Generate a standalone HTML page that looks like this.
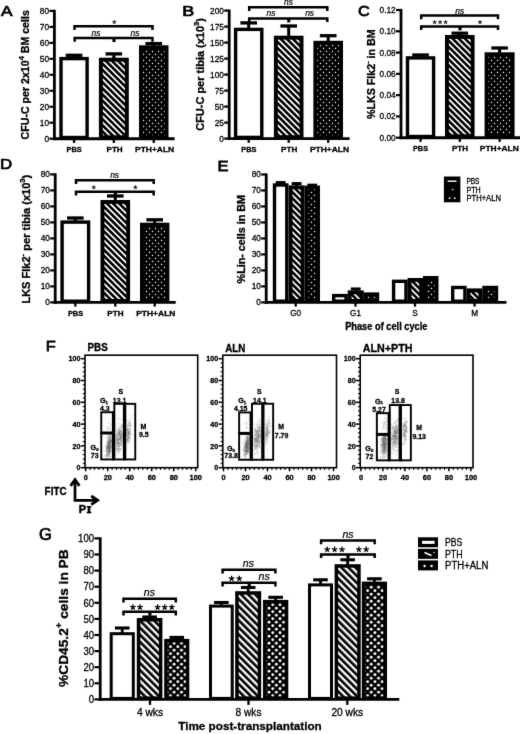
<!DOCTYPE html>
<html><head><meta charset="utf-8"><title>Figure</title>
<style>html,body{margin:0;padding:0;background:#fff;}body{width:520px;height:734px;overflow:hidden;font-family:"Liberation Sans",sans-serif;}svg{display:block;will-change:transform;}</style>
</head><body>
<svg width="520" height="734" viewBox="0 0 520 734">
<defs>
<pattern id="hatch" width="4.35" height="4.35" patternUnits="userSpaceOnUse" patternTransform="rotate(45)"><rect width="4.35" height="4.35" fill="#000"/><rect width="4.35" height="1.75" fill="#fff"/></pattern>
<pattern id="dots" width="6" height="6" patternUnits="userSpaceOnUse" patternTransform="translate(1 1.9)"><rect width="6" height="6" fill="#000"/><circle cx="1.5" cy="1.5" r="0.74" fill="#fff"/><circle cx="4.5" cy="4.5" r="0.74" fill="#fff"/></pattern>
<pattern id="hatchG" width="5" height="5" patternUnits="userSpaceOnUse" patternTransform="rotate(45) translate(0 1.2)"><rect width="5" height="5" fill="#000"/><rect width="5" height="2.35" fill="#fff"/></pattern>
<pattern id="dotsG" width="7.3" height="7" patternUnits="userSpaceOnUse" patternTransform="translate(0.8 0.95)"><rect width="7.3" height="7" fill="#000"/><circle cx="1.8" cy="1.75" r="1.42" fill="#fff"/><circle cx="5.45" cy="5.25" r="1.42" fill="#fff"/></pattern>
<filter id="soft" x="0" y="0" width="520" height="734" filterUnits="userSpaceOnUse" color-interpolation-filters="sRGB"><feConvolveMatrix order="3" kernelMatrix="0.006 0.07 0.006 0.07 0.696 0.07 0.006 0.07 0.006" divisor="1" edgeMode="duplicate" preserveAlpha="true"/></filter>
</defs>
<g filter="url(#soft)">
<rect width="520" height="734" fill="#fff"/>
<text transform="translate(0.9,16.1) scale(1.1268,1)" font-family="'Liberation Sans', sans-serif" font-size="15.3" font-weight="normal" font-style="normal" text-anchor="start" fill="#000" stroke="#000" stroke-width="0.75">A</text>
<line x1="74.05" y1="55.3" x2="74.05" y2="57.9" stroke="#000" stroke-width="3" stroke-linecap="butt"/>
<line x1="65.75" y1="55.3" x2="82.35" y2="55.3" stroke="#000" stroke-width="3.3" stroke-linecap="butt"/>
<rect x="61" y="58.6" width="26.1" height="78.9" fill="#fff" stroke="#000" stroke-width="3.4"/>
<line x1="113.85" y1="53.9" x2="113.85" y2="58.7" stroke="#000" stroke-width="3" stroke-linecap="butt"/>
<line x1="105.55" y1="53.9" x2="122.15" y2="53.9" stroke="#000" stroke-width="3.3" stroke-linecap="butt"/>
<rect x="100.85" y="59.65" width="26" height="77.6" fill="url(#hatch)" stroke="#000" stroke-width="3.9"/>
<line x1="153.75" y1="43.6" x2="153.75" y2="46.3" stroke="#000" stroke-width="3" stroke-linecap="butt"/>
<line x1="145.45" y1="43.6" x2="162.05" y2="43.6" stroke="#000" stroke-width="3.3" stroke-linecap="butt"/>
<rect x="140.95" y="47.25" width="25.6" height="90" fill="url(#dots)" stroke="#000" stroke-width="3.9"/>
<line x1="54.4" y1="9.8" x2="54.4" y2="140.1" stroke="#000" stroke-width="2.8" stroke-linecap="butt"/>
<line x1="49.4" y1="138.7" x2="54.4" y2="138.7" stroke="#000" stroke-width="2.2" stroke-linecap="butt"/>
<text transform="translate(49.1,141.69)" font-family="'Liberation Sans', sans-serif" font-size="8.3" font-weight="normal" font-style="normal" text-anchor="end" fill="#000"  stroke="#000" stroke-width="0.28">0</text>
<line x1="49.4" y1="122.72" x2="54.4" y2="122.72" stroke="#000" stroke-width="2.2" stroke-linecap="butt"/>
<text transform="translate(49.1,125.71)" font-family="'Liberation Sans', sans-serif" font-size="8.3" font-weight="normal" font-style="normal" text-anchor="end" fill="#000"  stroke="#000" stroke-width="0.28">10</text>
<line x1="49.4" y1="106.75" x2="54.4" y2="106.75" stroke="#000" stroke-width="2.2" stroke-linecap="butt"/>
<text transform="translate(49.1,109.74)" font-family="'Liberation Sans', sans-serif" font-size="8.3" font-weight="normal" font-style="normal" text-anchor="end" fill="#000"  stroke="#000" stroke-width="0.28">20</text>
<line x1="49.4" y1="90.77" x2="54.4" y2="90.77" stroke="#000" stroke-width="2.2" stroke-linecap="butt"/>
<text transform="translate(49.1,93.76)" font-family="'Liberation Sans', sans-serif" font-size="8.3" font-weight="normal" font-style="normal" text-anchor="end" fill="#000"  stroke="#000" stroke-width="0.28">30</text>
<line x1="49.4" y1="74.8" x2="54.4" y2="74.8" stroke="#000" stroke-width="2.2" stroke-linecap="butt"/>
<text transform="translate(49.1,77.79)" font-family="'Liberation Sans', sans-serif" font-size="8.3" font-weight="normal" font-style="normal" text-anchor="end" fill="#000"  stroke="#000" stroke-width="0.28">40</text>
<line x1="49.4" y1="58.83" x2="54.4" y2="58.83" stroke="#000" stroke-width="2.2" stroke-linecap="butt"/>
<text transform="translate(49.1,61.81)" font-family="'Liberation Sans', sans-serif" font-size="8.3" font-weight="normal" font-style="normal" text-anchor="end" fill="#000"  stroke="#000" stroke-width="0.28">50</text>
<line x1="49.4" y1="42.85" x2="54.4" y2="42.85" stroke="#000" stroke-width="2.2" stroke-linecap="butt"/>
<text transform="translate(49.1,45.84)" font-family="'Liberation Sans', sans-serif" font-size="8.3" font-weight="normal" font-style="normal" text-anchor="end" fill="#000"  stroke="#000" stroke-width="0.28">60</text>
<line x1="49.4" y1="26.88" x2="54.4" y2="26.88" stroke="#000" stroke-width="2.2" stroke-linecap="butt"/>
<text transform="translate(49.1,29.86)" font-family="'Liberation Sans', sans-serif" font-size="8.3" font-weight="normal" font-style="normal" text-anchor="end" fill="#000"  stroke="#000" stroke-width="0.28">70</text>
<line x1="49.4" y1="10.9" x2="54.4" y2="10.9" stroke="#000" stroke-width="2.2" stroke-linecap="butt"/>
<text transform="translate(49.1,13.89)" font-family="'Liberation Sans', sans-serif" font-size="8.3" font-weight="normal" font-style="normal" text-anchor="end" fill="#000"  stroke="#000" stroke-width="0.28">80</text>
<line x1="53" y1="138.7" x2="174.6" y2="138.7" stroke="#000" stroke-width="2.9" stroke-linecap="butt"/>
<line x1="74.05" y1="138.7" x2="74.05" y2="142.9" stroke="#000" stroke-width="2.3" stroke-linecap="butt"/>
<text transform="translate(74.2,152) scale(0.9240,1)" font-family="'Liberation Sans', sans-serif" font-size="8" font-weight="bold" font-style="normal" text-anchor="middle" fill="#000"  stroke="#000" stroke-width="0.3">PBS</text>
<line x1="113.85" y1="138.7" x2="113.85" y2="142.9" stroke="#000" stroke-width="2.3" stroke-linecap="butt"/>
<text transform="translate(114.6,152) scale(1.0125,1)" font-family="'Liberation Sans', sans-serif" font-size="8" font-weight="bold" font-style="normal" text-anchor="middle" fill="#000"  stroke="#000" stroke-width="0.3">PTH</text>
<line x1="153.75" y1="138.7" x2="153.75" y2="142.9" stroke="#000" stroke-width="2.3" stroke-linecap="butt"/>
<text transform="translate(154.6,152) scale(1.0589,1)" font-family="'Liberation Sans', sans-serif" font-size="8" font-weight="bold" font-style="normal" text-anchor="middle" fill="#000"  stroke="#000" stroke-width="0.3">PTH+ALN</text>
<text transform="translate(29,74.8) rotate(-90) scale(0.9929,1)" font-family="'Liberation Sans', sans-serif" font-size="10.7" font-weight="bold" text-anchor="middle" fill="#000" stroke="#000" stroke-width="0.3">CFU-C per 2x10<tspan dy="-4.92" font-size="7.49">4</tspan><tspan dy="4.92"> BM cells</tspan></text>
<path d="M74.5 30 V26.3 H152.5 V30" fill="none" stroke="#000" stroke-width="2.5"/>
<path d="M74.7 41.8 V38.1 H152.5 V41.8" fill="none" stroke="#000" stroke-width="2.5"/>
<line x1="114" y1="38.1" x2="114" y2="42.1" stroke="#000" stroke-width="3.1" stroke-linecap="butt"/>
<path d="M114.3 22.2L114.3 20.2M114.3 22.2L116.2 21.58M114.3 22.2L112.4 21.58M114.3 22.2L113.12 23.82M114.3 22.2L115.48 23.82" stroke="#000" stroke-width="1" fill="none"/>
<text transform="translate(96,35.6) scale(0.9062,1)" font-family="'Liberation Sans', sans-serif" font-size="9.3" font-weight="normal" font-style="italic" text-anchor="middle" fill="#000"  stroke="#000" stroke-width="0.22">ns</text>
<text transform="translate(135,35.6) scale(0.9062,1)" font-family="'Liberation Sans', sans-serif" font-size="9.3" font-weight="normal" font-style="italic" text-anchor="middle" fill="#000"  stroke="#000" stroke-width="0.22">ns</text>
<text transform="translate(182.3,16.1) scale(1.1758,1)" font-family="'Liberation Sans', sans-serif" font-size="15.3" font-weight="normal" font-style="normal" text-anchor="start" fill="#000" stroke="#000" stroke-width="0.75">B</text>
<line x1="248.7" y1="22.9" x2="248.7" y2="28.7" stroke="#000" stroke-width="3" stroke-linecap="butt"/>
<line x1="240.4" y1="22.9" x2="257" y2="22.9" stroke="#000" stroke-width="3.3" stroke-linecap="butt"/>
<rect x="235.6" y="29.4" width="26.2" height="108" fill="#fff" stroke="#000" stroke-width="3.4"/>
<line x1="288.7" y1="26" x2="288.7" y2="36.7" stroke="#000" stroke-width="3" stroke-linecap="butt"/>
<line x1="280.4" y1="26" x2="297" y2="26" stroke="#000" stroke-width="3.3" stroke-linecap="butt"/>
<rect x="275.85" y="37.65" width="25.7" height="99.5" fill="url(#hatch)" stroke="#000" stroke-width="3.9"/>
<line x1="328.2" y1="35.7" x2="328.2" y2="41.8" stroke="#000" stroke-width="3" stroke-linecap="butt"/>
<line x1="319.9" y1="35.7" x2="336.5" y2="35.7" stroke="#000" stroke-width="3.3" stroke-linecap="butt"/>
<rect x="315.35" y="42.75" width="25.7" height="94.4" fill="url(#dots)" stroke="#000" stroke-width="3.9"/>
<line x1="229.2" y1="9.5" x2="229.2" y2="140" stroke="#000" stroke-width="2.8" stroke-linecap="butt"/>
<line x1="224.2" y1="138.6" x2="229.2" y2="138.6" stroke="#000" stroke-width="2.2" stroke-linecap="butt"/>
<text transform="translate(223.9,141.59)" font-family="'Liberation Sans', sans-serif" font-size="8.3" font-weight="normal" font-style="normal" text-anchor="end" fill="#000"  stroke="#000" stroke-width="0.28">0</text>
<line x1="224.2" y1="122.6" x2="229.2" y2="122.6" stroke="#000" stroke-width="2.2" stroke-linecap="butt"/>
<text transform="translate(223.9,125.59)" font-family="'Liberation Sans', sans-serif" font-size="8.3" font-weight="normal" font-style="normal" text-anchor="end" fill="#000"  stroke="#000" stroke-width="0.28">25</text>
<line x1="224.2" y1="106.6" x2="229.2" y2="106.6" stroke="#000" stroke-width="2.2" stroke-linecap="butt"/>
<text transform="translate(223.9,109.59)" font-family="'Liberation Sans', sans-serif" font-size="8.3" font-weight="normal" font-style="normal" text-anchor="end" fill="#000"  stroke="#000" stroke-width="0.28">50</text>
<line x1="224.2" y1="90.6" x2="229.2" y2="90.6" stroke="#000" stroke-width="2.2" stroke-linecap="butt"/>
<text transform="translate(223.9,93.59)" font-family="'Liberation Sans', sans-serif" font-size="8.3" font-weight="normal" font-style="normal" text-anchor="end" fill="#000"  stroke="#000" stroke-width="0.28">75</text>
<line x1="224.2" y1="74.6" x2="229.2" y2="74.6" stroke="#000" stroke-width="2.2" stroke-linecap="butt"/>
<text transform="translate(223.9,77.59)" font-family="'Liberation Sans', sans-serif" font-size="8.3" font-weight="normal" font-style="normal" text-anchor="end" fill="#000"  stroke="#000" stroke-width="0.28">100</text>
<line x1="224.2" y1="58.6" x2="229.2" y2="58.6" stroke="#000" stroke-width="2.2" stroke-linecap="butt"/>
<text transform="translate(223.9,61.59)" font-family="'Liberation Sans', sans-serif" font-size="8.3" font-weight="normal" font-style="normal" text-anchor="end" fill="#000"  stroke="#000" stroke-width="0.28">125</text>
<line x1="224.2" y1="42.6" x2="229.2" y2="42.6" stroke="#000" stroke-width="2.2" stroke-linecap="butt"/>
<text transform="translate(223.9,45.59)" font-family="'Liberation Sans', sans-serif" font-size="8.3" font-weight="normal" font-style="normal" text-anchor="end" fill="#000"  stroke="#000" stroke-width="0.28">150</text>
<line x1="224.2" y1="26.6" x2="229.2" y2="26.6" stroke="#000" stroke-width="2.2" stroke-linecap="butt"/>
<text transform="translate(223.9,29.59)" font-family="'Liberation Sans', sans-serif" font-size="8.3" font-weight="normal" font-style="normal" text-anchor="end" fill="#000"  stroke="#000" stroke-width="0.28">175</text>
<line x1="224.2" y1="10.6" x2="229.2" y2="10.6" stroke="#000" stroke-width="2.2" stroke-linecap="butt"/>
<text transform="translate(223.9,13.59)" font-family="'Liberation Sans', sans-serif" font-size="8.3" font-weight="normal" font-style="normal" text-anchor="end" fill="#000"  stroke="#000" stroke-width="0.28">200</text>
<line x1="227.8" y1="138.6" x2="349.6" y2="138.6" stroke="#000" stroke-width="2.9" stroke-linecap="butt"/>
<line x1="248.7" y1="138.6" x2="248.7" y2="142.8" stroke="#000" stroke-width="2.3" stroke-linecap="butt"/>
<text transform="translate(248.8,151.8) scale(0.9240,1)" font-family="'Liberation Sans', sans-serif" font-size="8" font-weight="bold" font-style="normal" text-anchor="middle" fill="#000"  stroke="#000" stroke-width="0.3">PBS</text>
<line x1="288.7" y1="138.6" x2="288.7" y2="142.8" stroke="#000" stroke-width="2.3" stroke-linecap="butt"/>
<text transform="translate(289.2,151.8) scale(1.0125,1)" font-family="'Liberation Sans', sans-serif" font-size="8" font-weight="bold" font-style="normal" text-anchor="middle" fill="#000"  stroke="#000" stroke-width="0.3">PTH</text>
<line x1="328.2" y1="138.6" x2="328.2" y2="142.8" stroke="#000" stroke-width="2.3" stroke-linecap="butt"/>
<text transform="translate(329.5,151.8) scale(1.0589,1)" font-family="'Liberation Sans', sans-serif" font-size="8" font-weight="bold" font-style="normal" text-anchor="middle" fill="#000"  stroke="#000" stroke-width="0.3">PTH+ALN</text>
<text transform="translate(204.2,74.4) rotate(-90) scale(1.0256,1)" font-family="'Liberation Sans', sans-serif" font-size="10.7" font-weight="bold" text-anchor="middle" fill="#000" stroke="#000" stroke-width="0.3">CFU-C per tibia (x10<tspan dy="-4.92" font-size="7.49">3</tspan><tspan dy="4.92">)</tspan></text>
<path d="M249.2 11 V7.3 H327.3 V11" fill="none" stroke="#000" stroke-width="2.5"/>
<path d="M249.2 22.1 V18.4 H327.3 V22.1" fill="none" stroke="#000" stroke-width="2.5"/>
<line x1="288.8" y1="18.4" x2="288.8" y2="22.4" stroke="#000" stroke-width="3.1" stroke-linecap="butt"/>
<text transform="translate(288.5,4.6) scale(0.9062,1)" font-family="'Liberation Sans', sans-serif" font-size="9.3" font-weight="normal" font-style="italic" text-anchor="middle" fill="#000"  stroke="#000" stroke-width="0.22">ns</text>
<text transform="translate(271,16) scale(0.9062,1)" font-family="'Liberation Sans', sans-serif" font-size="9.3" font-weight="normal" font-style="italic" text-anchor="middle" fill="#000"  stroke="#000" stroke-width="0.22">ns</text>
<text transform="translate(309.6,16) scale(0.9062,1)" font-family="'Liberation Sans', sans-serif" font-size="9.3" font-weight="normal" font-style="italic" text-anchor="middle" fill="#000"  stroke="#000" stroke-width="0.22">ns</text>
<text transform="translate(357.9,16.1) scale(1.0679,1)" font-family="'Liberation Sans', sans-serif" font-size="15.3" font-weight="normal" font-style="normal" text-anchor="start" fill="#000" stroke="#000" stroke-width="0.75">C</text>
<line x1="420.55" y1="55" x2="420.55" y2="57.2" stroke="#000" stroke-width="3" stroke-linecap="butt"/>
<line x1="412.25" y1="55" x2="428.85" y2="55" stroke="#000" stroke-width="3.3" stroke-linecap="butt"/>
<rect x="407.5" y="57.9" width="26.1" height="78.6" fill="#fff" stroke="#000" stroke-width="3.4"/>
<line x1="459.8" y1="33.2" x2="459.8" y2="36" stroke="#000" stroke-width="3" stroke-linecap="butt"/>
<line x1="451.5" y1="33.2" x2="468.1" y2="33.2" stroke="#000" stroke-width="3.3" stroke-linecap="butt"/>
<rect x="446.95" y="36.95" width="25.7" height="99.3" fill="url(#hatch)" stroke="#000" stroke-width="3.9"/>
<line x1="499.6" y1="48" x2="499.6" y2="53.3" stroke="#000" stroke-width="3" stroke-linecap="butt"/>
<line x1="491.3" y1="48" x2="507.9" y2="48" stroke="#000" stroke-width="3.3" stroke-linecap="butt"/>
<rect x="486.55" y="54.25" width="26.1" height="82" fill="url(#dots)" stroke="#000" stroke-width="3.9"/>
<line x1="401" y1="8.9" x2="401" y2="139.1" stroke="#000" stroke-width="2.8" stroke-linecap="butt"/>
<line x1="396" y1="137.7" x2="401" y2="137.7" stroke="#000" stroke-width="2.2" stroke-linecap="butt"/>
<text transform="translate(395.7,140.69)" font-family="'Liberation Sans', sans-serif" font-size="8.3" font-weight="normal" font-style="normal" text-anchor="end" fill="#000"  stroke="#000" stroke-width="0.28">0.00</text>
<line x1="396" y1="116.42" x2="401" y2="116.42" stroke="#000" stroke-width="2.2" stroke-linecap="butt"/>
<text transform="translate(395.7,119.4)" font-family="'Liberation Sans', sans-serif" font-size="8.3" font-weight="normal" font-style="normal" text-anchor="end" fill="#000"  stroke="#000" stroke-width="0.28">0.02</text>
<line x1="396" y1="95.13" x2="401" y2="95.13" stroke="#000" stroke-width="2.2" stroke-linecap="butt"/>
<text transform="translate(395.7,98.12)" font-family="'Liberation Sans', sans-serif" font-size="8.3" font-weight="normal" font-style="normal" text-anchor="end" fill="#000"  stroke="#000" stroke-width="0.28">0.04</text>
<line x1="396" y1="73.85" x2="401" y2="73.85" stroke="#000" stroke-width="2.2" stroke-linecap="butt"/>
<text transform="translate(395.7,76.84)" font-family="'Liberation Sans', sans-serif" font-size="8.3" font-weight="normal" font-style="normal" text-anchor="end" fill="#000"  stroke="#000" stroke-width="0.28">0.06</text>
<line x1="396" y1="52.57" x2="401" y2="52.57" stroke="#000" stroke-width="2.2" stroke-linecap="butt"/>
<text transform="translate(395.7,55.55)" font-family="'Liberation Sans', sans-serif" font-size="8.3" font-weight="normal" font-style="normal" text-anchor="end" fill="#000"  stroke="#000" stroke-width="0.28">0.08</text>
<line x1="396" y1="31.28" x2="401" y2="31.28" stroke="#000" stroke-width="2.2" stroke-linecap="butt"/>
<text transform="translate(395.7,34.27)" font-family="'Liberation Sans', sans-serif" font-size="8.3" font-weight="normal" font-style="normal" text-anchor="end" fill="#000"  stroke="#000" stroke-width="0.28">0.10</text>
<line x1="396" y1="10" x2="401" y2="10" stroke="#000" stroke-width="2.2" stroke-linecap="butt"/>
<text transform="translate(395.7,12.99)" font-family="'Liberation Sans', sans-serif" font-size="8.3" font-weight="normal" font-style="normal" text-anchor="end" fill="#000"  stroke="#000" stroke-width="0.28">0.12</text>
<line x1="399.6" y1="137.7" x2="520" y2="137.7" stroke="#000" stroke-width="2.9" stroke-linecap="butt"/>
<line x1="420.55" y1="137.7" x2="420.55" y2="141.9" stroke="#000" stroke-width="2.3" stroke-linecap="butt"/>
<text transform="translate(420.5,151) scale(0.9240,1)" font-family="'Liberation Sans', sans-serif" font-size="8" font-weight="bold" font-style="normal" text-anchor="middle" fill="#000"  stroke="#000" stroke-width="0.3">PBS</text>
<line x1="459.8" y1="137.7" x2="459.8" y2="141.9" stroke="#000" stroke-width="2.3" stroke-linecap="butt"/>
<text transform="translate(460,151) scale(1.0125,1)" font-family="'Liberation Sans', sans-serif" font-size="8" font-weight="bold" font-style="normal" text-anchor="middle" fill="#000"  stroke="#000" stroke-width="0.3">PTH</text>
<line x1="499.6" y1="137.7" x2="499.6" y2="141.9" stroke="#000" stroke-width="2.3" stroke-linecap="butt"/>
<text transform="translate(499.3,151) scale(1.0508,1)" font-family="'Liberation Sans', sans-serif" font-size="8" font-weight="bold" font-style="normal" text-anchor="middle" fill="#000"  stroke="#000" stroke-width="0.3">PTH+ALN</text>
<text transform="translate(374.7,74.2) rotate(-90)" font-family="'Liberation Sans', sans-serif" font-size="10.7" font-weight="bold" text-anchor="middle" fill="#000" stroke="#000" stroke-width="0.3">%LKS Flk2<tspan dy="-4.92" font-size="7.49">-</tspan><tspan dy="4.92"> in BM</tspan></text>
<path d="M421.2 19.3 V15.6 H498 V19.3" fill="none" stroke="#000" stroke-width="2.5"/>
<path d="M421.2 30.1 V26.4 H498 V30.1" fill="none" stroke="#000" stroke-width="2.5"/>
<line x1="460" y1="26.4" x2="460" y2="30.4" stroke="#000" stroke-width="3.1" stroke-linecap="butt"/>
<text transform="translate(459.7,13.5) scale(0.9062,1)" font-family="'Liberation Sans', sans-serif" font-size="9.3" font-weight="normal" font-style="italic" text-anchor="middle" fill="#000"  stroke="#000" stroke-width="0.22">ns</text>
<path d="M434.6 22.3L434.6 20.3M434.6 22.3L436.5 21.68M434.6 22.3L432.7 21.68M434.6 22.3L433.42 23.92M434.6 22.3L435.78 23.92" stroke="#000" stroke-width="1" fill="none"/>
<path d="M440.1 22.3L440.1 20.3M440.1 22.3L442 21.68M440.1 22.3L438.2 21.68M440.1 22.3L438.92 23.92M440.1 22.3L441.28 23.92" stroke="#000" stroke-width="1" fill="none"/>
<path d="M445.6 22.3L445.6 20.3M445.6 22.3L447.5 21.68M445.6 22.3L443.7 21.68M445.6 22.3L444.42 23.92M445.6 22.3L446.78 23.92" stroke="#000" stroke-width="1" fill="none"/>
<path d="M480 22.3L480 20.3M480 22.3L481.9 21.68M480 22.3L478.1 21.68M480 22.3L478.82 23.92M480 22.3L481.18 23.92" stroke="#000" stroke-width="1" fill="none"/>
<text transform="translate(0.1,168.5) scale(1.1041,1)" font-family="'Liberation Sans', sans-serif" font-size="15.3" font-weight="normal" font-style="normal" text-anchor="start" fill="#000" stroke="#000" stroke-width="0.75">D</text>
<line x1="75.35" y1="218" x2="75.35" y2="221.4" stroke="#000" stroke-width="3" stroke-linecap="butt"/>
<line x1="67.05" y1="218" x2="83.65" y2="218" stroke="#000" stroke-width="3.3" stroke-linecap="butt"/>
<rect x="62.1" y="222.1" width="26.5" height="79.1" fill="#fff" stroke="#000" stroke-width="3.4"/>
<line x1="115.3" y1="196" x2="115.3" y2="201" stroke="#000" stroke-width="3" stroke-linecap="butt"/>
<line x1="107" y1="196" x2="123.6" y2="196" stroke="#000" stroke-width="3.3" stroke-linecap="butt"/>
<rect x="102.45" y="201.95" width="25.7" height="99" fill="url(#hatch)" stroke="#000" stroke-width="3.9"/>
<line x1="154.7" y1="219.8" x2="154.7" y2="223.7" stroke="#000" stroke-width="3" stroke-linecap="butt"/>
<line x1="146.4" y1="219.8" x2="163" y2="219.8" stroke="#000" stroke-width="3.3" stroke-linecap="butt"/>
<rect x="141.95" y="224.65" width="25.5" height="76.3" fill="url(#dots)" stroke="#000" stroke-width="3.9"/>
<line x1="55.2" y1="173.3" x2="55.2" y2="303.8" stroke="#000" stroke-width="2.8" stroke-linecap="butt"/>
<line x1="50.2" y1="302.4" x2="55.2" y2="302.4" stroke="#000" stroke-width="2.2" stroke-linecap="butt"/>
<text transform="translate(49.9,305.39)" font-family="'Liberation Sans', sans-serif" font-size="8.3" font-weight="normal" font-style="normal" text-anchor="end" fill="#000"  stroke="#000" stroke-width="0.28">0</text>
<line x1="50.2" y1="286.4" x2="55.2" y2="286.4" stroke="#000" stroke-width="2.2" stroke-linecap="butt"/>
<text transform="translate(49.9,289.39)" font-family="'Liberation Sans', sans-serif" font-size="8.3" font-weight="normal" font-style="normal" text-anchor="end" fill="#000"  stroke="#000" stroke-width="0.28">10</text>
<line x1="50.2" y1="270.4" x2="55.2" y2="270.4" stroke="#000" stroke-width="2.2" stroke-linecap="butt"/>
<text transform="translate(49.9,273.39)" font-family="'Liberation Sans', sans-serif" font-size="8.3" font-weight="normal" font-style="normal" text-anchor="end" fill="#000"  stroke="#000" stroke-width="0.28">20</text>
<line x1="50.2" y1="254.4" x2="55.2" y2="254.4" stroke="#000" stroke-width="2.2" stroke-linecap="butt"/>
<text transform="translate(49.9,257.39)" font-family="'Liberation Sans', sans-serif" font-size="8.3" font-weight="normal" font-style="normal" text-anchor="end" fill="#000"  stroke="#000" stroke-width="0.28">30</text>
<line x1="50.2" y1="238.4" x2="55.2" y2="238.4" stroke="#000" stroke-width="2.2" stroke-linecap="butt"/>
<text transform="translate(49.9,241.39)" font-family="'Liberation Sans', sans-serif" font-size="8.3" font-weight="normal" font-style="normal" text-anchor="end" fill="#000"  stroke="#000" stroke-width="0.28">40</text>
<line x1="50.2" y1="222.4" x2="55.2" y2="222.4" stroke="#000" stroke-width="2.2" stroke-linecap="butt"/>
<text transform="translate(49.9,225.39)" font-family="'Liberation Sans', sans-serif" font-size="8.3" font-weight="normal" font-style="normal" text-anchor="end" fill="#000"  stroke="#000" stroke-width="0.28">50</text>
<line x1="50.2" y1="206.4" x2="55.2" y2="206.4" stroke="#000" stroke-width="2.2" stroke-linecap="butt"/>
<text transform="translate(49.9,209.39)" font-family="'Liberation Sans', sans-serif" font-size="8.3" font-weight="normal" font-style="normal" text-anchor="end" fill="#000"  stroke="#000" stroke-width="0.28">60</text>
<line x1="50.2" y1="190.4" x2="55.2" y2="190.4" stroke="#000" stroke-width="2.2" stroke-linecap="butt"/>
<text transform="translate(49.9,193.39)" font-family="'Liberation Sans', sans-serif" font-size="8.3" font-weight="normal" font-style="normal" text-anchor="end" fill="#000"  stroke="#000" stroke-width="0.28">70</text>
<line x1="50.2" y1="174.4" x2="55.2" y2="174.4" stroke="#000" stroke-width="2.2" stroke-linecap="butt"/>
<text transform="translate(49.9,177.39)" font-family="'Liberation Sans', sans-serif" font-size="8.3" font-weight="normal" font-style="normal" text-anchor="end" fill="#000"  stroke="#000" stroke-width="0.28">80</text>
<line x1="53.8" y1="302.4" x2="175.7" y2="302.4" stroke="#000" stroke-width="2.9" stroke-linecap="butt"/>
<line x1="75.35" y1="302.4" x2="75.35" y2="306.6" stroke="#000" stroke-width="2.3" stroke-linecap="butt"/>
<text transform="translate(75.5,315.8) scale(0.9240,1)" font-family="'Liberation Sans', sans-serif" font-size="8" font-weight="bold" font-style="normal" text-anchor="middle" fill="#000"  stroke="#000" stroke-width="0.3">PBS</text>
<line x1="115.3" y1="302.4" x2="115.3" y2="306.6" stroke="#000" stroke-width="2.3" stroke-linecap="butt"/>
<text transform="translate(115.4,315.8) scale(1.0125,1)" font-family="'Liberation Sans', sans-serif" font-size="8" font-weight="bold" font-style="normal" text-anchor="middle" fill="#000"  stroke="#000" stroke-width="0.3">PTH</text>
<line x1="154.7" y1="302.4" x2="154.7" y2="306.6" stroke="#000" stroke-width="2.3" stroke-linecap="butt"/>
<text transform="translate(155.8,315.8) scale(1.0589,1)" font-family="'Liberation Sans', sans-serif" font-size="8" font-weight="bold" font-style="normal" text-anchor="middle" fill="#000"  stroke="#000" stroke-width="0.3">PTH+ALN</text>
<text transform="translate(30.4,239.15) rotate(-90) scale(1.0322,1)" font-family="'Liberation Sans', sans-serif" font-size="10.7" font-weight="bold" text-anchor="middle" fill="#000" stroke="#000" stroke-width="0.3">LKS Flk2<tspan dy="-4.92" font-size="7.49">-</tspan><tspan dy="4.92"> per tibia (x10</tspan><tspan dy="-4.92" font-size="7.49">3</tspan><tspan dy="4.92">)</tspan></text>
<path d="M76 183.9 V180.2 H153.7 V183.9" fill="none" stroke="#000" stroke-width="2.5"/>
<path d="M76 195.4 V191.7 H153.7 V195.4" fill="none" stroke="#000" stroke-width="2.5"/>
<line x1="115.3" y1="191.7" x2="115.3" y2="195.7" stroke="#000" stroke-width="3.1" stroke-linecap="butt"/>
<text transform="translate(114.6,178.2) scale(0.9062,1)" font-family="'Liberation Sans', sans-serif" font-size="9.3" font-weight="normal" font-style="italic" text-anchor="middle" fill="#000"  stroke="#000" stroke-width="0.22">ns</text>
<path d="M93.8 187.4L93.8 185.4M93.8 187.4L95.7 186.78M93.8 187.4L91.9 186.78M93.8 187.4L92.62 189.02M93.8 187.4L94.98 189.02" stroke="#000" stroke-width="1" fill="none"/>
<path d="M135.4 187.4L135.4 185.4M135.4 187.4L137.3 186.78M135.4 187.4L133.5 186.78M135.4 187.4L134.22 189.02M135.4 187.4L136.58 189.02" stroke="#000" stroke-width="1" fill="none"/>
<text transform="translate(217.4,171.2) scale(1.0778,1)" font-family="'Liberation Sans', sans-serif" font-size="15.3" font-weight="normal" font-style="normal" text-anchor="start" fill="#000" stroke="#000" stroke-width="0.75">E</text>
<line x1="280.65" y1="182.6" x2="280.65" y2="184.3" stroke="#000" stroke-width="2.8" stroke-linecap="butt"/>
<line x1="275.75" y1="182.6" x2="285.55" y2="182.6" stroke="#000" stroke-width="3.1" stroke-linecap="butt"/>
<rect x="274.5" y="185" width="12.3" height="116.2" fill="#fff" stroke="#000" stroke-width="3.4"/>
<line x1="296.6" y1="183.6" x2="296.6" y2="186.4" stroke="#000" stroke-width="2.8" stroke-linecap="butt"/>
<line x1="291.7" y1="183.6" x2="301.5" y2="183.6" stroke="#000" stroke-width="3.1" stroke-linecap="butt"/>
<rect x="290.55" y="187.35" width="12.1" height="113.6" fill="url(#hatch)" stroke="#000" stroke-width="3.9"/>
<line x1="312.3" y1="185.2" x2="312.3" y2="186.6" stroke="#000" stroke-width="2.8" stroke-linecap="butt"/>
<line x1="307.4" y1="185.2" x2="317.2" y2="185.2" stroke="#000" stroke-width="3.1" stroke-linecap="butt"/>
<rect x="306.55" y="187.55" width="11.5" height="113.4" fill="url(#dots)" stroke="#000" stroke-width="3.9"/>
<rect x="333.7" y="295.6" width="12.4" height="5.6" fill="#fff" stroke="#000" stroke-width="3.4"/>
<line x1="355.75" y1="289" x2="355.75" y2="291.4" stroke="#000" stroke-width="2.8" stroke-linecap="butt"/>
<line x1="350.85" y1="289" x2="360.65" y2="289" stroke="#000" stroke-width="3.1" stroke-linecap="butt"/>
<rect x="349.65" y="292.35" width="12.2" height="8.6" fill="url(#hatch)" stroke="#000" stroke-width="3.9"/>
<rect x="365.55" y="294.35" width="11.7" height="6.6" fill="url(#dots)" stroke="#000" stroke-width="3.9"/>
<rect x="393.6" y="281.3" width="12.4" height="19.9" fill="#fff" stroke="#000" stroke-width="3.4"/>
<rect x="409.55" y="279.95" width="11.6" height="21" fill="url(#hatch)" stroke="#000" stroke-width="3.9"/>
<rect x="424.95" y="277.95" width="11.6" height="23" fill="url(#dots)" stroke="#000" stroke-width="3.9"/>
<rect x="452.7" y="287.5" width="12.2" height="13.7" fill="#fff" stroke="#000" stroke-width="3.4"/>
<rect x="468.45" y="290.35" width="12" height="10.6" fill="url(#hatch)" stroke="#000" stroke-width="3.9"/>
<rect x="484.25" y="287.75" width="12" height="13.2" fill="url(#dots)" stroke="#000" stroke-width="3.9"/>
<line x1="266.2" y1="173.4" x2="266.2" y2="303.8" stroke="#000" stroke-width="2.8" stroke-linecap="butt"/>
<line x1="261.2" y1="302.4" x2="266.2" y2="302.4" stroke="#000" stroke-width="2.2" stroke-linecap="butt"/>
<text transform="translate(260.9,305.39)" font-family="'Liberation Sans', sans-serif" font-size="8.3" font-weight="normal" font-style="normal" text-anchor="end" fill="#000"  stroke="#000" stroke-width="0.28">0</text>
<line x1="261.2" y1="286.41" x2="266.2" y2="286.41" stroke="#000" stroke-width="2.2" stroke-linecap="butt"/>
<text transform="translate(260.9,289.4)" font-family="'Liberation Sans', sans-serif" font-size="8.3" font-weight="normal" font-style="normal" text-anchor="end" fill="#000"  stroke="#000" stroke-width="0.28">10</text>
<line x1="261.2" y1="270.42" x2="266.2" y2="270.42" stroke="#000" stroke-width="2.2" stroke-linecap="butt"/>
<text transform="translate(260.9,273.41)" font-family="'Liberation Sans', sans-serif" font-size="8.3" font-weight="normal" font-style="normal" text-anchor="end" fill="#000"  stroke="#000" stroke-width="0.28">20</text>
<line x1="261.2" y1="254.44" x2="266.2" y2="254.44" stroke="#000" stroke-width="2.2" stroke-linecap="butt"/>
<text transform="translate(260.9,257.43)" font-family="'Liberation Sans', sans-serif" font-size="8.3" font-weight="normal" font-style="normal" text-anchor="end" fill="#000"  stroke="#000" stroke-width="0.28">30</text>
<line x1="261.2" y1="238.45" x2="266.2" y2="238.45" stroke="#000" stroke-width="2.2" stroke-linecap="butt"/>
<text transform="translate(260.9,241.44)" font-family="'Liberation Sans', sans-serif" font-size="8.3" font-weight="normal" font-style="normal" text-anchor="end" fill="#000"  stroke="#000" stroke-width="0.28">40</text>
<line x1="261.2" y1="222.46" x2="266.2" y2="222.46" stroke="#000" stroke-width="2.2" stroke-linecap="butt"/>
<text transform="translate(260.9,225.45)" font-family="'Liberation Sans', sans-serif" font-size="8.3" font-weight="normal" font-style="normal" text-anchor="end" fill="#000"  stroke="#000" stroke-width="0.28">50</text>
<line x1="261.2" y1="206.47" x2="266.2" y2="206.47" stroke="#000" stroke-width="2.2" stroke-linecap="butt"/>
<text transform="translate(260.9,209.46)" font-family="'Liberation Sans', sans-serif" font-size="8.3" font-weight="normal" font-style="normal" text-anchor="end" fill="#000"  stroke="#000" stroke-width="0.28">60</text>
<line x1="261.2" y1="190.49" x2="266.2" y2="190.49" stroke="#000" stroke-width="2.2" stroke-linecap="butt"/>
<text transform="translate(260.9,193.48)" font-family="'Liberation Sans', sans-serif" font-size="8.3" font-weight="normal" font-style="normal" text-anchor="end" fill="#000"  stroke="#000" stroke-width="0.28">70</text>
<line x1="261.2" y1="174.5" x2="266.2" y2="174.5" stroke="#000" stroke-width="2.2" stroke-linecap="butt"/>
<text transform="translate(260.9,177.49)" font-family="'Liberation Sans', sans-serif" font-size="8.3" font-weight="normal" font-style="normal" text-anchor="end" fill="#000"  stroke="#000" stroke-width="0.28">80</text>
<line x1="264.8" y1="302.4" x2="506.5" y2="302.4" stroke="#000" stroke-width="2.9" stroke-linecap="butt"/>
<line x1="295.7" y1="302.4" x2="295.7" y2="306.6" stroke="#000" stroke-width="2.3" stroke-linecap="butt"/>
<text transform="translate(295.7,316.2) scale(0.9700,1)" font-family="'Liberation Sans', sans-serif" font-size="8.5" font-weight="normal" font-style="normal" text-anchor="middle" fill="#000"  stroke="#000" stroke-width="0.28">G0</text>
<line x1="355.5" y1="302.4" x2="355.5" y2="306.6" stroke="#000" stroke-width="2.3" stroke-linecap="butt"/>
<text transform="translate(355.5,316.2) scale(0.9700,1)" font-family="'Liberation Sans', sans-serif" font-size="8.5" font-weight="normal" font-style="normal" text-anchor="middle" fill="#000"  stroke="#000" stroke-width="0.28">G1</text>
<line x1="415" y1="302.4" x2="415" y2="306.6" stroke="#000" stroke-width="2.3" stroke-linecap="butt"/>
<text transform="translate(415,316.2) scale(0.9700,1)" font-family="'Liberation Sans', sans-serif" font-size="8.5" font-weight="normal" font-style="normal" text-anchor="middle" fill="#000"  stroke="#000" stroke-width="0.28">S</text>
<line x1="474.6" y1="302.4" x2="474.6" y2="306.6" stroke="#000" stroke-width="2.3" stroke-linecap="butt"/>
<text transform="translate(474.6,316.2) scale(0.9700,1)" font-family="'Liberation Sans', sans-serif" font-size="8.5" font-weight="normal" font-style="normal" text-anchor="middle" fill="#000"  stroke="#000" stroke-width="0.28">M</text>
<text transform="translate(245,239.2) rotate(-90) scale(1.0070,1)" font-family="'Liberation Sans', sans-serif" font-size="10.7" font-weight="bold" text-anchor="middle" fill="#000" stroke="#000" stroke-width="0.3">%Lin- cells in BM</text>
<text transform="translate(386.3,329.8) scale(0.9277,1)" font-family="'Liberation Sans', sans-serif" font-size="10" font-weight="bold" font-style="normal" text-anchor="middle" fill="#000"  stroke="#000" stroke-width="0.3">Phase of cell cycle</text>
<rect x="443.9" y="176.5" width="16.5" height="25.8" fill="#000"/>
<rect x="447.6" y="180.5" width="8.9" height="1.4" fill="#fff"/>
<circle cx="452.7" cy="189.5" r="0.8" fill="#fff"/>
<circle cx="449.6" cy="198.2" r="0.85" fill="#fff"/><circle cx="454.8" cy="198.2" r="0.85" fill="#fff"/>
<text transform="translate(466.4,184) scale(0.7983,1)" font-family="'Liberation Sans', sans-serif" font-size="8.2" font-weight="normal" font-style="normal" text-anchor="start" fill="#000"  stroke="#000" stroke-width="0.28">PBS</text>
<text transform="translate(466.4,192.65) scale(0.8659,1)" font-family="'Liberation Sans', sans-serif" font-size="8.2" font-weight="normal" font-style="normal" text-anchor="start" fill="#000"  stroke="#000" stroke-width="0.28">PTH</text>
<text transform="translate(466.4,201.3) scale(0.9316,1)" font-family="'Liberation Sans', sans-serif" font-size="8.2" font-weight="normal" font-style="normal" text-anchor="start" fill="#000"  stroke="#000" stroke-width="0.28">PTH+ALN</text>
<text transform="translate(45.7,351.3) scale(1.0701,1)" font-family="'Liberation Sans', sans-serif" font-size="15.3" font-weight="normal" font-style="normal" text-anchor="start" fill="#000" stroke="#000" stroke-width="0.75">F</text>
<path d="M106.7 451.4h.8M110.5 440.4h.8M106.5 449.2h.8M109.6 450.8h.8M106.7 442.1h.8M110.0 446.7h.8M111.4 447.3h.8M108.6 444.7h.8M107.5 441.8h.8M109.0 446.6h.8M108.2 446.6h.8M109.3 449.1h.8M110.7 444.2h.8M105.8 454.8h.8M106.4 448.9h.8M106.3 450.0h.8M107.5 449.3h.8M110.2 436.3h.8M108.3 450.5h.8M108.6 448.3h.8M109.0 440.1h.8M109.8 439.9h.8M112.0 438.1h.8M110.0 444.1h.8M110.4 440.0h.8M110.5 442.6h.8M110.9 446.1h.8M109.0 441.2h.8M110.1 446.5h.8M111.6 439.4h.8M109.7 447.3h.8M109.3 446.4h.8M109.1 442.2h.8M107.1 446.5h.8M109.8 452.9h.8M110.5 449.2h.8M110.1 447.8h.8M109.1 449.8h.8M111.8 439.3h.8M109.2 450.8h.8M110.3 437.3h.8M109.1 449.7h.8M109.0 440.7h.8M108.6 448.4h.8M110.7 446.9h.8M108.9 453.4h.8M107.5 452.5h.8M110.7 441.3h.8M105.8 445.8h.8M109.2 448.3h.8M111.4 436.2h.8M108.8 449.6h.8M110.2 456.8h.8M110.5 438.1h.8M108.1 448.4h.8M109.0 454.4h.8M108.7 456.6h.8M107.6 445.2h.8M110.0 452.0h.8M109.9 445.9h.8M105.7 447.0h.8M107.8 444.7h.8M109.8 442.5h.8M110.1 444.3h.8M108.2 447.6h.8M109.5 449.6h.8M108.0 446.0h.8M111.3 441.0h.8M108.0 440.4h.8M109.1 446.7h.8M107.5 434.4h.8M111.2 443.2h.8M106.1 451.4h.8M110.7 446.2h.8M108.5 434.5h.8M108.6 437.6h.8M107.3 455.3h.8M111.6 434.9h.8M106.2 455.1h.8M110.3 438.2h.8M107.6 444.0h.8M106.8 445.4h.8M110.9 446.5h.8M112.3 439.9h.8M108.6 440.9h.8M108.6 439.0h.8M105.8 454.7h.8M111.2 446.8h.8M111.1 443.8h.8M107.6 448.4h.8M108.2 440.8h.8M105.9 442.3h.8M108.8 446.9h.8M108.0 455.3h.8M109.1 448.8h.8M110.9 438.1h.8M105.5 455.6h.8M107.6 455.2h.8M109.4 450.7h.8M110.0 440.3h.8M107.5 445.6h.8M110.1 448.9h.8M110.5 434.0h.8M107.8 434.3h.8M108.6 449.6h.8M107.5 449.4h.8M109.2 451.0h.8M107.4 443.6h.8M107.5 457.9h.8M110.7 442.3h.8M109.2 446.0h.8M109.1 444.3h.8M108.2 439.9h.8M107.7 457.0h.8M109.7 444.9h.8M108.4 446.9h.8M109.4 441.4h.8M109.1 446.8h.8M107.5 443.6h.8M107.1 442.8h.8M108.3 443.3h.8M107.7 448.2h.8M110.7 443.4h.8M108.6 443.0h.8M108.6 451.5h.8M108.1 440.7h.8M106.7 443.2h.8M106.4 455.9h.8M109.4 443.7h.8M111.3 438.3h.8M110.1 448.4h.8M106.2 441.5h.8M107.2 453.6h.8M111.0 435.6h.8M110.6 441.0h.8M108.1 444.0h.8M108.2 436.7h.8M107.1 441.8h.8M109.6 456.4h.8M105.9 448.4h.8M109.8 440.4h.8M110.4 446.5h.8M106.0 447.4h.8M108.4 446.8h.8M109.0 443.7h.8M109.1 442.2h.8M107.3 456.9h.8M109.4 447.5h.8M106.1 449.4h.8M110.2 436.5h.8M110.7 440.8h.8M109.5 444.2h.8M109.2 452.1h.8M108.1 455.9h.8M107.5 442.9h.8M110.0 438.1h.8M108.2 452.1h.8M109.7 455.2h.8M110.8 441.4h.8M107.8 446.0h.8M106.8 447.7h.8M108.5 445.7h.8M110.8 441.5h.8M106.3 455.9h.8M107.0 446.4h.8M108.6 444.4h.8M107.1 447.3h.8M108.6 452.7h.8M110.1 448.2h.8M107.3 449.1h.8M109.6 451.9h.8M109.6 443.4h.8M108.9 444.7h.8M109.2 449.1h.8M108.2 442.4h.8M107.3 454.5h.8M111.0 448.1h.8M110.3 448.3h.8M108.8 449.7h.8M107.0 447.7h.8M107.6 452.1h.8M107.8 447.0h.8M109.5 452.5h.8M107.5 442.9h.8M110.2 437.6h.8M109.6 441.6h.8M108.6 436.1h.8M110.0 441.3h.8M109.5 442.9h.8M109.0 454.7h.8M108.8 448.6h.8M109.7 439.5h.8M109.0 442.8h.8M106.7 454.3h.8M109.9 444.6h.8M107.3 437.2h.8M109.6 444.1h.8M105.9 450.2h.8M106.2 450.0h.8M109.0 447.6h.8M109.2 446.4h.8M106.9 447.0h.8M107.9 446.1h.8M109.3 448.7h.8M109.5 443.8h.8M106.0 452.7h.8M107.9 453.0h.8M107.0 448.3h.8M108.6 445.8h.8M107.8 437.3h.8M109.6 450.3h.8M108.7 440.5h.8M109.1 448.6h.8M108.5 446.4h.8M111.2 435.9h.8M107.9 436.8h.8M107.6 443.8h.8M107.2 444.7h.8M111.9 440.0h.8M108.7 436.5h.8M109.5 439.7h.8M111.6 434.6h.8M107.8 438.6h.8M109.0 440.0h.8M108.7 444.1h.8M107.8 452.9h.8M110.4 443.8h.8M107.3 442.5h.8M108.0 442.8h.8M107.6 441.8h.8M107.1 447.5h.8M111.2 442.1h.8M107.9 438.3h.8M109.2 445.3h.8M106.7 443.3h.8M108.7 451.8h.8M109.9 445.4h.8M108.3 448.7h.8M108.8 458.2h.8M106.9 447.0h.8M111.0 441.1h.8M111.2 441.9h.8M109.0 443.5h.8M106.5 444.3h.8M109.8 449.7h.8M109.8 450.2h.8M108.3 445.5h.8M110.5 441.4h.8M106.5 448.4h.8M107.9 450.9h.8M107.6 442.0h.8M108.2 455.6h.8M108.7 447.0h.8M108.8 447.6h.8M110.4 451.3h.8M106.0 458.1h.8M108.8 444.2h.8M112.1 446.1h.8M107.0 451.5h.8M110.1 443.3h.8M104.8 450.4h.8M108.5 440.3h.8M111.9 439.7h.8M108.1 445.4h.8M107.5 443.8h.8M109.0 447.5h.8M107.9 446.9h.8M106.4 452.7h.8M107.5 449.2h.8M107.3 445.6h.8M109.2 438.6h.8M108.7 442.1h.8M111.5 449.4h.8M109.3 437.5h.8M107.9 450.8h.8M107.9 440.8h.8M106.8 444.9h.8M108.8 442.3h.8M111.8 435.4h.8M109.4 445.6h.8M108.6 452.2h.8M108.2 445.1h.8M108.2 446.5h.8M111.0 446.8h.8M106.5 447.2h.8M107.4 452.7h.8M109.2 450.4h.8M108.7 435.5h.8M109.6 446.0h.8M109.7 437.3h.8M108.9 441.9h.8M107.6 449.8h.8M109.4 440.0h.8M105.9 436.8h.8M107.8 453.9h.8M108.7 433.5h.8M107.3 450.7h.8M111.6 448.0h.8M109.4 446.1h.8M107.0 446.3h.8M108.2 442.6h.8M108.9 443.6h.8M109.4 453.1h.8M110.1 446.3h.8M108.4 438.1h.8M108.6 449.4h.8M107.1 455.8h.8M108.2 449.0h.8M108.2 439.9h.8M112.3 433.9h.8M110.4 440.4h.8M109.3 440.7h.8M108.1 452.3h.8M112.1 436.0h.8M108.8 451.3h.8M107.7 451.7h.8M107.5 451.5h.8M109.5 451.6h.8M109.4 438.3h.8M109.9 438.0h.8M110.1 452.4h.8M109.8 441.3h.8M110.8 443.7h.8M106.7 447.4h.8M111.2 440.4h.8M109.0 443.7h.8M105.9 447.7h.8M109.4 446.2h.8M108.5 434.5h.8M110.9 446.7h.8M110.5 450.5h.8M108.0 443.8h.8M109.3 454.5h.8M105.9 449.3h.8M107.6 451.1h.8M111.3 440.4h.8M106.7 449.7h.8M108.3 438.1h.8M110.3 440.7h.8M110.0 436.8h.8M110.7 434.9h.8M111.1 440.1h.8M106.2 448.9h.8M109.4 439.5h.8M108.0 448.9h.8M108.1 449.6h.8M109.3 450.8h.8M110.2 445.6h.8M110.6 448.4h.8M109.0 442.2h.8M110.5 445.6h.8M105.6 445.0h.8M109.6 445.3h.8M109.3 448.8h.8M109.0 454.5h.8M107.8 445.4h.8M109.3 449.3h.8M110.1 452.2h.8M108.0 453.8h.8M109.6 438.9h.8M108.6 458.1h.8M110.1 441.2h.8M104.7 448.4h.8M107.6 448.3h.8M109.3 439.9h.8M106.8 448.1h.8M108.1 443.7h.8M110.7 443.4h.8M106.7 456.6h.8M108.3 439.4h.8M109.3 447.9h.8M108.2 450.8h.8M110.2 438.8h.8M105.3 438.2h.8M108.6 453.2h.8M110.5 451.1h.8M112.0 441.0h.8M110.6 434.6h.8M110.0 446.3h.8M108.6 443.8h.8M106.9 449.8h.8M111.0 440.5h.8M109.7 440.8h.8M109.2 439.7h.8M109.4 443.7h.8M109.3 441.7h.8M106.8 447.4h.8M110.6 452.0h.8M108.2 451.4h.8M110.1 446.1h.8M106.2 452.0h.8M107.2 455.2h.8M110.1 447.3h.8M104.5 456.4h.8M110.0 436.9h.8M110.4 443.8h.8M108.5 442.5h.8M107.1 446.3h.8M109.2 441.8h.8M107.8 444.6h.8M107.3 453.3h.8M108.3 451.6h.8M106.8 454.3h.8M108.8 449.8h.8M108.6 441.3h.8M110.9 440.3h.8M108.5 441.4h.8M109.1 443.3h.8M109.3 447.2h.8M107.6 440.0h.8M109.5 450.0h.8M110.0 437.7h.8M109.8 446.5h.8M109.3 447.6h.8M108.2 448.1h.8M110.4 440.7h.8M106.4 449.3h.8M109.1 435.1h.8M107.6 451.1h.8M108.5 446.9h.8M106.7 454.5h.8M111.8 440.1h.8M107.6 441.5h.8M110.3 444.2h.8M107.4 455.0h.8M110.1 447.3h.8M105.8 450.2h.8M109.9 437.4h.8M110.4 451.5h.8M110.6 439.1h.8M107.6 453.2h.8M110.5 450.2h.8M110.8 442.2h.8M108.1 436.7h.8M110.1 456.6h.8M108.0 444.6h.8M109.9 446.3h.8M106.5 445.7h.8M107.6 452.7h.8M112.1 451.4h.8M111.2 451.2h.8M106.7 447.4h.8M107.6 446.4h.8M109.7 437.6h.8M111.1 449.6h.8M108.9 453.1h.8M109.3 442.0h.8M108.2 446.4h.8M109.8 445.0h.8M108.0 443.2h.8M107.5 440.1h.8M107.1 453.8h.8M108.9 444.9h.8M109.4 451.0h.8M109.8 448.7h.8M107.8 446.1h.8M107.5 447.6h.8M107.4 446.1h.8M108.5 445.3h.8M108.3 444.0h.8M111.0 440.5h.8M107.1 449.8h.8M106.9 443.0h.8M108.9 436.4h.8M103.3 456.4h.8M110.6 433.8h.8M107.3 451.7h.8M105.4 446.5h.8M106.8 448.2h.8M105.4 456.4h.8M108.6 448.1h.8M108.2 435.0h.8M108.5 438.9h.8M108.8 441.2h.8M108.3 445.7h.8M110.1 448.2h.8M107.1 448.6h.8M111.3 444.8h.8M107.6 447.3h.8M108.2 452.2h.8M108.9 448.0h.8M107.1 439.1h.8M106.1 455.1h.8M109.3 454.3h.8M105.4 446.4h.8M111.3 447.8h.8M110.3 448.5h.8M108.9 445.9h.8M108.9 450.6h.8M108.5 448.2h.8M111.3 435.7h.8M107.5 451.2h.8M108.4 445.8h.8M112.4 442.6h.8M108.1 453.3h.8M107.7 448.5h.8M109.7 442.3h.8M109.6 440.2h.8M107.8 448.2h.8M109.5 452.4h.8M110.1 454.8h.8M109.6 445.6h.8M108.6 441.6h.8M111.6 434.9h.8M108.6 443.4h.8M107.5 435.7h.8M108.2 447.8h.8M109.0 450.3h.8M108.5 442.9h.8M109.3 448.9h.8M107.3 439.9h.8M107.1 454.7h.8M110.5 438.3h.8M109.0 450.4h.8M111.1 438.7h.8M108.4 454.5h.8M106.9 451.6h.8M108.3 446.5h.8M107.7 445.1h.8M108.8 456.1h.8M110.0 446.5h.8M108.8 441.7h.8M108.4 453.6h.8M110.2 454.7h.8M109.2 445.2h.8M106.0 452.6h.8M107.7 447.7h.8M106.5 446.9h.8M107.2 454.9h.8M109.2 438.7h.8M105.5 450.9h.8M108.0 441.1h.8M109.8 443.4h.8M109.0 442.4h.8M107.8 445.0h.8M106.1 453.9h.8M109.5 435.3h.8M109.0 452.2h.8M109.2 452.6h.8M108.3 446.7h.8M106.6 444.5h.8M105.7 445.9h.8M109.2 448.2h.8M110.8 443.6h.8M107.1 451.1h.8M108.6 456.4h.8M112.1 446.0h.8M106.9 446.2h.8M109.1 441.5h.8M109.7 448.4h.8M110.2 445.0h.8M107.3 443.7h.8M108.6 453.8h.8M111.5 447.2h.8M109.4 448.8h.8M110.2 451.0h.8M110.3 435.1h.8M110.4 445.6h.8M108.0 450.2h.8M109.3 444.9h.8M105.9 451.2h.8M109.7 444.2h.8M106.1 452.9h.8M110.0 445.1h.8M109.5 442.9h.8M107.7 450.7h.8M108.2 448.0h.8M109.0 436.5h.8M109.0 450.0h.8M107.6 446.6h.8M105.0 455.2h.8M107.8 451.4h.8M111.1 441.4h.8M110.5 444.7h.8M108.5 445.0h.8M107.4 455.5h.8M110.3 438.0h.8M110.2 439.6h.8M106.2 456.8h.8M106.6 456.1h.8M109.1 450.5h.8M109.7 451.1h.8M109.4 448.3h.8M109.2 451.5h.8M108.1 452.8h.8M111.4 441.5h.8M109.5 441.9h.8M108.3 448.2h.8M108.2 442.0h.8M108.7 447.2h.8M109.3 449.1h.8M108.5 442.1h.8M108.2 449.5h.8M110.3 441.6h.8M109.1 436.6h.8M109.1 444.9h.8M108.1 452.1h.8M111.8 446.9h.8M107.5 456.7h.8M108.2 446.7h.8M107.8 450.1h.8M109.7 445.3h.8M108.4 445.8h.8M108.1 452.5h.8M107.9 446.6h.8M108.4 442.4h.8M108.4 438.4h.8M109.5 447.9h.8M108.3 455.5h.8M107.4 451.3h.8M109.6 441.7h.8M108.4 451.6h.8M108.9 447.4h.8M111.2 443.4h.8M106.0 446.4h.8M110.2 443.0h.8M107.0 437.9h.8M109.3 453.5h.8M106.7 437.3h.8M109.6 441.6h.8M108.0 422.7h.8M106.9 427.0h.8M110.1 425.0h.8M107.5 429.7h.8M108.3 427.0h.8M106.8 428.1h.8M109.8 429.7h.8M108.6 426.2h.8M107.5 428.9h.8M109.9 428.7h.8M107.8 418.3h.8M108.4 423.0h.8M107.2 427.7h.8M110.2 425.1h.8M110.5 425.0h.8M106.8 422.0h.8M107.9 427.7h.8M110.1 423.9h.8M110.3 419.0h.8M109.3 428.8h.8M105.1 417.4h.8M107.0 429.7h.8M116.5 434.0h.8M116.7 443.8h.8M118.3 450.8h.8M121.2 431.8h.8M119.9 436.4h.8M121.4 441.9h.8M118.2 444.6h.8M120.8 436.0h.8M119.9 441.7h.8M118.3 434.5h.8M122.7 434.9h.8M117.6 442.4h.8M115.1 442.0h.8M115.5 438.7h.8M121.7 434.6h.8M115.9 452.1h.8M117.5 449.1h.8M117.8 430.0h.8M121.3 443.7h.8M115.6 441.7h.8M117.6 443.3h.8M119.2 430.0h.8M119.4 442.8h.8M118.4 442.3h.8M117.8 439.0h.8M120.2 438.1h.8M122.7 440.9h.8M121.5 440.5h.8M119.6 430.2h.8M122.1 446.5h.8M119.8 435.9h.8M119.1 445.8h.8M120.0 431.1h.8M118.7 433.6h.8M118.7 432.8h.8M116.8 449.6h.8M122.1 425.2h.8M116.5 437.6h.8M118.2 430.2h.8M121.7 425.6h.8M121.1 440.7h.8M118.2 434.8h.8M119.4 438.8h.8M120.7 436.0h.8M118.1 432.7h.8M117.3 434.9h.8M123.4 437.3h.8M119.8 438.7h.8M118.2 449.2h.8M120.6 436.6h.8M118.9 439.6h.8M116.1 438.8h.8M117.5 443.5h.8M120.9 424.7h.8M118.6 444.9h.8M115.7 433.7h.8M122.0 434.7h.8M118.0 431.4h.8M119.7 434.1h.8M119.8 440.2h.8M121.1 434.2h.8M117.8 439.5h.8M119.0 439.4h.8M117.8 437.8h.8M117.6 435.7h.8M119.7 445.0h.8M117.8 443.1h.8M120.2 437.9h.8M121.1 432.8h.8M120.8 438.5h.8M120.9 449.0h.8M116.3 441.3h.8M120.2 431.0h.8M122.5 437.9h.8M117.0 432.4h.8M118.1 454.2h.8M118.9 434.3h.8M120.9 437.2h.8M120.0 439.0h.8M116.2 449.1h.8M118.0 446.4h.8M121.1 436.6h.8M119.6 437.4h.8M120.4 426.7h.8M115.1 448.6h.8M121.4 426.2h.8M120.5 436.6h.8M121.9 433.5h.8M118.6 433.8h.8M119.7 436.8h.8M117.4 437.4h.8M117.1 443.9h.8M116.4 430.6h.8M116.6 447.3h.8M117.8 443.4h.8M121.2 432.9h.8M121.3 439.4h.8M119.1 433.6h.8M119.0 430.0h.8M118.5 435.0h.8M120.4 439.1h.8M117.4 445.2h.8M122.5 435.5h.8M117.2 443.1h.8M120.8 449.4h.8M117.2 449.6h.8M119.7 444.0h.8M118.7 434.5h.8M118.6 448.2h.8M121.5 434.0h.8M120.3 442.6h.8M120.8 436.3h.8M117.4 434.9h.8M118.0 435.5h.8M121.6 428.6h.8M115.6 441.0h.8M123.2 442.5h.8M118.1 432.4h.8M117.7 433.5h.8M117.7 442.5h.8M116.3 435.6h.8M118.5 438.5h.8M117.1 434.8h.8M116.1 436.0h.8M120.7 435.1h.8M119.0 432.5h.8M118.5 419.1h.8M117.2 440.1h.8M121.4 428.1h.8M120.2 429.7h.8M120.2 437.0h.8M122.2 427.8h.8M119.2 449.8h.8M115.9 443.3h.8M120.4 433.7h.8M118.5 447.8h.8M122.4 438.8h.8M120.0 430.0h.8M119.5 449.4h.8M122.1 426.5h.8M119.7 434.0h.8M118.3 441.0h.8M121.7 437.1h.8M122.7 425.6h.8M120.5 439.6h.8M115.0 449.9h.8M120.3 445.9h.8M122.4 427.8h.8M120.6 445.9h.8M118.8 438.9h.8M117.9 444.0h.8M117.6 435.6h.8M115.8 435.1h.8M119.8 440.5h.8M118.1 432.1h.8M120.2 439.5h.8M122.8 431.5h.8M118.0 442.4h.8M123.5 433.8h.8M119.0 432.1h.8M118.1 445.1h.8M121.6 443.1h.8M116.6 444.2h.8M116.7 448.6h.8M119.5 446.2h.8M118.0 452.0h.8M118.0 451.6h.8M117.8 432.8h.8M121.7 433.1h.8M119.0 429.3h.8M118.2 439.6h.8M117.2 442.4h.8M118.0 448.7h.8M118.2 434.6h.8M117.9 441.0h.8M120.9 433.5h.8M117.0 442.9h.8M121.5 424.5h.8M116.2 436.3h.8M121.5 439.2h.8M116.0 448.2h.8M118.0 433.9h.8M123.1 435.8h.8M116.6 441.5h.8M116.8 441.4h.8M117.4 431.8h.8M122.0 435.2h.8M121.1 428.0h.8M116.3 419.1h.8M122.1 438.4h.8M115.9 446.5h.8M120.9 455.8h.8M119.9 443.4h.8M120.9 441.5h.8M119.1 435.3h.8M121.2 444.3h.8M115.9 433.5h.8M119.1 450.0h.8M118.6 427.4h.8M121.5 440.9h.8M121.8 436.6h.8M115.8 439.2h.8M123.0 442.0h.8M118.1 446.3h.8M121.8 441.6h.8M120.0 439.3h.8M116.9 439.7h.8M119.6 432.9h.8M118.4 439.8h.8M119.8 444.4h.8M116.3 438.0h.8M120.0 434.8h.8M120.2 434.1h.8M122.6 433.5h.8M116.0 445.8h.8M118.8 438.8h.8M122.1 445.2h.8M118.8 428.2h.8M121.1 442.9h.8M120.5 437.4h.8M115.8 431.2h.8M122.0 437.4h.8M121.1 438.7h.8M117.7 446.0h.8M115.9 429.8h.8M122.6 432.1h.8M117.3 443.1h.8M119.1 433.1h.8M117.2 444.9h.8M116.6 441.2h.8M116.4 443.5h.8M122.4 438.2h.8M116.5 438.5h.8M119.4 440.7h.8M117.5 443.6h.8M117.2 440.3h.8M119.2 430.5h.8M122.1 435.8h.8M119.5 437.5h.8M116.7 446.8h.8M117.6 443.5h.8M116.3 435.1h.8M117.9 446.2h.8M120.4 437.9h.8M119.2 443.2h.8M120.0 430.7h.8M121.0 431.3h.8M118.3 448.4h.8M120.4 431.8h.8M117.1 450.9h.8M120.2 428.1h.8M122.9 437.3h.8M118.8 437.3h.8M123.5 429.8h.8M118.9 437.9h.8M119.0 431.5h.8M115.8 424.2h.8M120.2 435.9h.8M119.8 430.6h.8M119.2 431.6h.8M116.4 442.8h.8M121.0 440.2h.8M119.1 435.6h.8M123.2 442.6h.8M117.4 432.5h.8M120.3 439.2h.8M116.6 455.3h.8M119.9 443.9h.8M123.3 443.6h.8M118.5 438.9h.8M116.7 442.9h.8M116.3 427.4h.8M115.5 448.6h.8M122.8 441.3h.8M121.1 443.8h.8M120.0 443.0h.8M120.5 442.0h.8M116.4 436.3h.8M116.4 446.0h.8M120.6 431.6h.8M116.4 436.8h.8M121.7 435.1h.8M118.5 434.1h.8M118.9 448.8h.8M117.3 437.5h.8M116.0 448.1h.8M115.7 444.9h.8M121.8 431.8h.8M117.2 440.2h.8M119.2 435.0h.8M117.3 451.5h.8M123.4 436.4h.8M116.0 437.5h.8M118.4 442.0h.8M119.6 434.8h.8M119.6 433.2h.8M120.3 444.7h.8M118.1 436.9h.8M119.5 429.1h.8M118.2 433.2h.8M123.4 431.0h.8M117.8 451.7h.8M118.9 433.2h.8M119.2 439.3h.8M117.1 438.7h.8M118.6 443.3h.8M121.4 441.5h.8M118.9 443.6h.8M118.6 446.2h.8M120.4 434.2h.8M122.7 425.0h.8M116.5 435.3h.8M118.9 430.3h.8M115.8 428.7h.8M119.5 432.7h.8M116.0 449.6h.8M119.5 444.8h.8M116.1 448.4h.8M122.3 432.5h.8M116.8 437.7h.8M120.0 453.1h.8M118.6 436.4h.8M120.3 435.3h.8M117.9 437.9h.8M121.6 435.4h.8M119.9 435.7h.8M118.7 436.4h.8M122.8 436.3h.8M123.4 433.1h.8M122.2 426.3h.8M118.1 438.7h.8M117.4 438.9h.8M116.6 439.3h.8M117.3 439.7h.8M118.4 432.2h.8M118.1 439.2h.8M115.6 441.9h.8M122.7 433.4h.8M120.8 440.7h.8M117.0 448.7h.8M123.3 422.5h.8M122.4 436.1h.8M115.6 435.9h.8M116.3 434.8h.8M120.3 435.9h.8M120.5 437.4h.8M119.9 437.6h.8M121.3 427.4h.8M115.5 440.2h.8M119.4 426.0h.8M120.3 437.1h.8M121.3 419.1h.8M120.6 431.0h.8M117.9 444.3h.8M118.9 446.9h.8M116.7 439.3h.8M117.8 432.9h.8M119.8 450.9h.8M119.9 440.7h.8M119.1 445.5h.8M119.7 431.8h.8M119.5 447.2h.8M119.0 446.1h.8M119.0 451.5h.8M120.0 441.6h.8M118.4 444.2h.8M118.6 428.9h.8M120.1 429.4h.8M123.4 439.5h.8M119.3 442.5h.8M117.4 444.1h.8M118.1 441.3h.8M120.4 425.9h.8M116.6 450.1h.8M117.5 443.2h.8M115.4 435.5h.8M122.5 435.7h.8M118.4 440.3h.8M120.5 434.9h.8M120.8 449.4h.8M115.7 453.8h.8M122.0 443.5h.8M120.9 435.0h.8M122.0 442.9h.8M122.5 428.0h.8M122.1 433.1h.8M118.2 441.3h.8M118.2 454.1h.8M120.8 438.4h.8M118.7 440.2h.8M118.6 442.4h.8M121.7 441.3h.8M115.7 439.0h.8M119.5 429.8h.8M120.3 436.1h.8M119.4 440.4h.8M117.5 449.8h.8M122.1 431.8h.8M120.5 441.7h.8M117.1 437.7h.8M121.2 419.4h.8M115.5 443.5h.8M121.0 430.4h.8M121.6 450.3h.8M119.8 437.2h.8M119.4 431.2h.8M120.8 437.8h.8M121.3 445.5h.8M119.3 439.1h.8M120.1 448.6h.8M115.1 441.7h.8M117.5 440.5h.8M121.6 436.4h.8M121.3 437.4h.8M117.2 435.5h.8M115.3 443.0h.8M118.1 444.5h.8M122.0 429.8h.8M116.2 444.8h.8M116.8 441.6h.8M120.9 434.0h.8M120.4 434.3h.8M118.8 442.2h.8M118.9 433.6h.8M117.8 437.4h.8M121.4 434.3h.8M122.7 440.5h.8M117.1 446.7h.8M116.5 439.9h.8M122.5 435.1h.8M118.8 446.8h.8M117.1 434.6h.8M122.0 439.6h.8M115.2 442.6h.8M121.4 435.0h.8M118.1 440.0h.8M119.8 432.9h.8M121.6 425.6h.8M119.0 452.2h.8M116.2 440.5h.8M116.0 441.4h.8M117.8 451.3h.8M116.6 440.2h.8M119.8 441.7h.8M121.7 425.6h.8M117.2 429.1h.8M118.0 427.6h.8M119.8 433.7h.8M120.1 432.1h.8M119.4 452.4h.8M122.5 436.1h.8M116.5 450.1h.8M122.9 430.9h.8M123.0 438.4h.8M120.9 432.4h.8M120.9 445.7h.8M119.6 418.8h.8M118.2 436.6h.8M119.1 435.9h.8M122.4 426.9h.8M120.5 424.0h.8M117.1 434.1h.8M117.2 443.8h.8M120.8 437.1h.8M119.8 433.0h.8M116.4 431.2h.8M118.0 431.7h.8M118.3 443.6h.8M120.8 445.3h.8M116.6 426.1h.8M116.1 453.8h.8M121.2 433.4h.8M122.9 432.0h.8M118.1 443.6h.8M116.0 439.8h.8M116.1 439.2h.8M119.1 433.1h.8M120.4 445.1h.8M119.3 443.7h.8M120.0 438.2h.8M117.1 446.2h.8M123.0 431.7h.8M116.7 443.6h.8M119.5 445.1h.8M120.6 435.9h.8M115.3 445.5h.8M119.5 429.5h.8M115.0 429.9h.8M120.9 433.6h.8M117.4 438.9h.8M119.3 435.7h.8M121.3 442.8h.8M118.6 448.8h.8M118.8 432.7h.8M119.6 428.3h.8M118.4 431.9h.8M118.0 440.4h.8M119.9 435.9h.8M121.2 438.4h.8M118.2 432.4h.8M121.2 441.1h.8M115.1 437.0h.8M115.9 446.4h.8M117.6 431.3h.8M123.4 437.1h.8M119.8 439.0h.8M118.7 438.7h.8M121.7 438.6h.8M117.9 439.8h.8M115.5 442.1h.8M120.9 440.2h.8M120.2 449.9h.8M116.3 440.2h.8M119.0 449.7h.8M118.4 431.9h.8M117.2 445.0h.8M116.9 441.7h.8M117.1 435.2h.8M117.6 450.0h.8M116.2 442.8h.8M121.4 431.1h.8M115.8 446.7h.8M119.1 432.7h.8M118.1 423.3h.8M116.9 432.1h.8M115.5 445.1h.8M119.9 448.4h.8M116.8 448.8h.8M122.1 436.1h.8M119.4 432.8h.8M117.7 436.3h.8M121.2 449.7h.8M122.6 438.1h.8M121.5 424.8h.8M116.3 446.1h.8M118.1 428.3h.8M119.1 429.5h.8M119.2 448.2h.8M115.9 437.9h.8M120.7 436.4h.8M119.7 431.9h.8M118.2 423.1h.8M118.6 446.8h.8M116.0 439.6h.8M121.2 444.1h.8M122.4 429.1h.8M118.0 450.5h.8M117.8 441.0h.8M116.8 435.7h.8M116.4 449.3h.8M121.3 438.6h.8M117.7 430.1h.8M120.5 431.2h.8M118.8 444.4h.8M118.6 438.2h.8M116.3 447.3h.8M120.6 441.2h.8M119.2 442.1h.8M120.1 439.1h.8M120.5 426.6h.8M127.7 440.3h.8M127.8 431.8h.8M129.1 420.4h.8M128.5 441.7h.8M127.5 428.2h.8M128.7 429.1h.8M126.6 435.4h.8M126.0 431.6h.8M129.0 431.4h.8M128.3 441.1h.8M130.2 443.2h.8M127.0 439.7h.8M129.8 425.9h.8M128.6 437.3h.8M127.6 429.2h.8M130.2 421.8h.8M128.1 438.6h.8M128.2 442.4h.8M130.1 433.1h.8M130.6 434.4h.8M128.3 433.6h.8M128.5 433.3h.8M130.2 431.5h.8M128.4 436.8h.8M126.7 426.1h.8M127.2 440.1h.8M127.4 441.3h.8M127.0 438.7h.8M127.9 438.1h.8M127.9 434.1h.8M127.2 441.6h.8M127.8 436.1h.8M128.9 426.1h.8M126.6 434.2h.8M129.8 423.9h.8M126.3 428.6h.8M127.3 426.9h.8M126.6 437.7h.8M126.2 434.8h.8M126.1 433.8h.8M128.7 419.4h.8M128.0 434.2h.8M127.8 434.6h.8M128.5 424.0h.8M127.7 437.2h.8M129.8 422.0h.8M127.0 425.4h.8M127.8 426.2h.8M126.4 439.6h.8M131.3 415.9h.8M130.4 424.2h.8M128.9 433.9h.8M129.7 429.4h.8M126.6 434.0h.8M129.1 425.9h.8M128.5 432.1h.8M128.1 432.7h.8M128.8 436.9h.8M127.4 431.3h.8M126.2 430.5h.8M128.7 438.2h.8M129.7 425.4h.8M128.2 439.2h.8M126.6 433.1h.8M126.0 431.1h.8M129.0 432.2h.8M127.3 430.1h.8M130.2 434.9h.8M126.0 448.8h.8M127.3 432.7h.8M127.1 430.3h.8M128.8 422.7h.8M127.9 430.8h.8M130.5 432.2h.8M128.5 435.4h.8M128.8 432.6h.8M127.4 437.9h.8M128.4 429.0h.8M126.5 428.2h.8M128.3 431.8h.8M126.5 432.3h.8M128.4 428.2h.8M127.7 429.4h.8M128.0 437.9h.8M129.9 426.1h.8M128.8 433.5h.8M128.0 438.0h.8M129.2 423.5h.8M130.1 429.2h.8M126.9 429.8h.8M127.5 426.3h.8M129.5 433.7h.8M126.5 439.7h.8M128.2 433.0h.8M129.3 430.6h.8M127.5 436.6h.8M128.6 438.7h.8M126.9 432.4h.8M128.8 441.2h.8M130.5 435.7h.8M128.9 432.7h.8M126.1 428.2h.8M128.1 422.9h.8M130.6 433.5h.8M128.4 435.3h.8M128.3 432.9h.8M129.0 427.5h.8M128.3 433.5h.8M129.1 424.7h.8M128.3 431.7h.8M128.8 435.2h.8M128.2 435.5h.8M128.6 440.7h.8M128.3 435.7h.8M126.5 433.4h.8M129.0 438.1h.8M126.4 434.5h.8M127.5 433.8h.8M127.2 431.2h.8M127.8 433.9h.8M129.4 425.8h.8M126.4 439.6h.8M128.6 430.9h.8M126.1 441.6h.8M126.3 441.9h.8M128.3 431.6h.8M127.6 438.4h.8M127.9 422.1h.8M126.8 420.9h.8M128.5 438.0h.8M129.4 422.7h.8M131.1 440.4h.8M127.7 420.8h.8M126.6 441.0h.8M131.0 425.9h.8M130.8 429.5h.8M128.8 436.8h.8M127.2 432.6h.8M128.0 430.7h.8M127.1 430.4h.8M127.0 441.7h.8M128.5 438.6h.8M130.7 415.4h.8M127.8 439.0h.8M127.6 429.6h.8M128.5 428.9h.8M126.6 432.6h.8M128.0 432.9h.8M129.2 431.5h.8M127.5 431.7h.8M127.7 428.9h.8M130.1 419.0h.8M126.7 437.0h.8M126.9 437.5h.8M127.8 426.2h.8M127.6 430.1h.8M128.7 416.2h.8M128.5 440.5h.8M128.1 434.2h.8M127.1 436.0h.8M127.7 425.3h.8M126.1 420.7h.8M128.5 433.2h.8M129.5 432.6h.8M128.9 423.4h.8M127.4 435.8h.8M127.7 432.2h.8M127.9 434.5h.8M128.2 434.6h.8M127.1 433.3h.8M127.5 436.1h.8M126.7 425.6h.8M129.3 426.0h.8M126.1 420.1h.8M127.3 444.1h.8M126.8 429.2h.8M129.6 431.4h.8M127.7 441.6h.8M126.1 434.7h.8M128.6 433.3h.8M126.1 429.3h.8M130.6 429.2h.8M127.5 440.1h.8M126.4 435.4h.8M126.5 435.4h.8M128.4 432.4h.8M127.4 435.1h.8M127.5 430.3h.8M128.8 437.1h.8M126.7 436.2h.8M128.0 433.9h.8M129.2 426.8h.8M128.4 434.8h.8M129.8 424.1h.8M130.0 434.2h.8M128.3 439.1h.8M127.5 432.2h.8M129.1 429.3h.8M129.5 439.5h.8M128.2 433.7h.8M126.9 428.5h.8M130.1 424.0h.8M128.0 434.7h.8M126.6 430.4h.8M126.8 447.4h.8M128.5 440.9h.8M130.9 435.6h.8M129.9 427.9h.8M126.9 443.2h.8M130.1 424.1h.8M129.6 432.8h.8M129.1 437.6h.8M130.8 425.7h.8M127.9 440.8h.8M127.5 436.9h.8M127.8 422.7h.8M127.1 439.5h.8M127.1 424.5h.8M127.2 434.6h.8M128.7 434.2h.8M128.7 425.6h.8M127.0 429.4h.8M127.3 436.6h.8M129.9 429.2h.8M129.5 438.0h.8M126.2 430.1h.8M128.2 424.3h.8M130.7 418.1h.8M126.1 440.1h.8M126.8 438.8h.8M126.5 441.4h.8M127.1 438.6h.8M129.4 422.0h.8M126.6 423.9h.8M126.3 440.8h.8M127.9 438.4h.8M130.1 437.0h.8M129.0 429.2h.8M127.4 435.8h.8M129.2 438.3h.8M128.4 430.8h.8M127.8 443.5h.8M128.4 445.0h.8M126.9 439.8h.8M128.3 437.5h.8M126.8 436.6h.8M127.9 431.5h.8M126.2 426.5h.8M127.4 437.1h.8M128.3 434.2h.8M128.4 424.2h.8M129.5 431.7h.8M126.8 431.1h.8M129.4 432.6h.8M129.2 425.4h.8M129.8 438.7h.8M129.5 435.3h.8M128.4 433.9h.8M127.2 435.8h.8M129.9 430.2h.8" stroke="#666" stroke-width="0.8" fill="none" opacity="0.32"/>
<rect x="85" y="355.2" width="112.7" height="112.5" fill="none" stroke="#000" stroke-width="1.6"/>
<line x1="80.8" y1="467.7" x2="85" y2="467.7" stroke="#000" stroke-width="1.5" stroke-linecap="butt"/>
<text transform="translate(80.4,470.3) scale(0.9500,1)" font-family="'Liberation Sans', sans-serif" font-size="7.5" font-weight="bold" font-style="normal" text-anchor="end" fill="#000"  stroke="#000" stroke-width="0.3">0</text>
<line x1="85.7" y1="467.7" x2="85.7" y2="471.3" stroke="#000" stroke-width="1.5" stroke-linecap="butt"/>
<text transform="translate(85.8,479.9) scale(0.9800,1)" font-family="'Liberation Sans', sans-serif" font-size="7.6" font-weight="bold" font-style="normal" text-anchor="middle" fill="#000"  stroke="#000" stroke-width="0.3">0</text>
<line x1="80.8" y1="445.9" x2="85" y2="445.9" stroke="#000" stroke-width="1.5" stroke-linecap="butt"/>
<text transform="translate(80.4,448.5) scale(0.9500,1)" font-family="'Liberation Sans', sans-serif" font-size="7.5" font-weight="bold" font-style="normal" text-anchor="end" fill="#000"  stroke="#000" stroke-width="0.3">20</text>
<line x1="107.7" y1="467.7" x2="107.7" y2="471.3" stroke="#000" stroke-width="1.5" stroke-linecap="butt"/>
<text transform="translate(107.8,479.9) scale(0.9800,1)" font-family="'Liberation Sans', sans-serif" font-size="7.6" font-weight="bold" font-style="normal" text-anchor="middle" fill="#000"  stroke="#000" stroke-width="0.3">20</text>
<line x1="80.8" y1="424.1" x2="85" y2="424.1" stroke="#000" stroke-width="1.5" stroke-linecap="butt"/>
<text transform="translate(80.4,426.7) scale(0.9500,1)" font-family="'Liberation Sans', sans-serif" font-size="7.5" font-weight="bold" font-style="normal" text-anchor="end" fill="#000"  stroke="#000" stroke-width="0.3">40</text>
<line x1="129.7" y1="467.7" x2="129.7" y2="471.3" stroke="#000" stroke-width="1.5" stroke-linecap="butt"/>
<text transform="translate(129.8,479.9) scale(0.9800,1)" font-family="'Liberation Sans', sans-serif" font-size="7.6" font-weight="bold" font-style="normal" text-anchor="middle" fill="#000"  stroke="#000" stroke-width="0.3">40</text>
<line x1="80.8" y1="402.3" x2="85" y2="402.3" stroke="#000" stroke-width="1.5" stroke-linecap="butt"/>
<text transform="translate(80.4,404.9) scale(0.9500,1)" font-family="'Liberation Sans', sans-serif" font-size="7.5" font-weight="bold" font-style="normal" text-anchor="end" fill="#000"  stroke="#000" stroke-width="0.3">60</text>
<line x1="151.7" y1="467.7" x2="151.7" y2="471.3" stroke="#000" stroke-width="1.5" stroke-linecap="butt"/>
<text transform="translate(151.8,479.9) scale(0.9800,1)" font-family="'Liberation Sans', sans-serif" font-size="7.6" font-weight="bold" font-style="normal" text-anchor="middle" fill="#000"  stroke="#000" stroke-width="0.3">60</text>
<line x1="80.8" y1="380.5" x2="85" y2="380.5" stroke="#000" stroke-width="1.5" stroke-linecap="butt"/>
<text transform="translate(80.4,383.1) scale(0.9500,1)" font-family="'Liberation Sans', sans-serif" font-size="7.5" font-weight="bold" font-style="normal" text-anchor="end" fill="#000"  stroke="#000" stroke-width="0.3">80</text>
<line x1="173.7" y1="467.7" x2="173.7" y2="471.3" stroke="#000" stroke-width="1.5" stroke-linecap="butt"/>
<text transform="translate(173.8,479.9) scale(0.9800,1)" font-family="'Liberation Sans', sans-serif" font-size="7.6" font-weight="bold" font-style="normal" text-anchor="middle" fill="#000"  stroke="#000" stroke-width="0.3">80</text>
<line x1="80.8" y1="358.7" x2="85" y2="358.7" stroke="#000" stroke-width="1.5" stroke-linecap="butt"/>
<text transform="translate(80.4,361.3) scale(0.9500,1)" font-family="'Liberation Sans', sans-serif" font-size="7.5" font-weight="bold" font-style="normal" text-anchor="end" fill="#000"  stroke="#000" stroke-width="0.3">100</text>
<line x1="195.7" y1="467.7" x2="195.7" y2="471.3" stroke="#000" stroke-width="1.5" stroke-linecap="butt"/>
<text transform="translate(195.8,479.9) scale(0.9800,1)" font-family="'Liberation Sans', sans-serif" font-size="7.6" font-weight="bold" font-style="normal" text-anchor="middle" fill="#000"  stroke="#000" stroke-width="0.3">100</text>
<line x1="82.8" y1="463.34" x2="85" y2="463.34" stroke="#000" stroke-width="1.1" stroke-linecap="butt"/>
<line x1="90.1" y1="467.7" x2="90.1" y2="469.9" stroke="#000" stroke-width="1.1" stroke-linecap="butt"/>
<line x1="82.8" y1="458.98" x2="85" y2="458.98" stroke="#000" stroke-width="1.1" stroke-linecap="butt"/>
<line x1="94.5" y1="467.7" x2="94.5" y2="469.9" stroke="#000" stroke-width="1.1" stroke-linecap="butt"/>
<line x1="82.8" y1="454.62" x2="85" y2="454.62" stroke="#000" stroke-width="1.1" stroke-linecap="butt"/>
<line x1="98.9" y1="467.7" x2="98.9" y2="469.9" stroke="#000" stroke-width="1.1" stroke-linecap="butt"/>
<line x1="82.8" y1="450.26" x2="85" y2="450.26" stroke="#000" stroke-width="1.1" stroke-linecap="butt"/>
<line x1="103.3" y1="467.7" x2="103.3" y2="469.9" stroke="#000" stroke-width="1.1" stroke-linecap="butt"/>
<line x1="82.8" y1="441.54" x2="85" y2="441.54" stroke="#000" stroke-width="1.1" stroke-linecap="butt"/>
<line x1="112.1" y1="467.7" x2="112.1" y2="469.9" stroke="#000" stroke-width="1.1" stroke-linecap="butt"/>
<line x1="82.8" y1="437.18" x2="85" y2="437.18" stroke="#000" stroke-width="1.1" stroke-linecap="butt"/>
<line x1="116.5" y1="467.7" x2="116.5" y2="469.9" stroke="#000" stroke-width="1.1" stroke-linecap="butt"/>
<line x1="82.8" y1="432.82" x2="85" y2="432.82" stroke="#000" stroke-width="1.1" stroke-linecap="butt"/>
<line x1="120.9" y1="467.7" x2="120.9" y2="469.9" stroke="#000" stroke-width="1.1" stroke-linecap="butt"/>
<line x1="82.8" y1="428.46" x2="85" y2="428.46" stroke="#000" stroke-width="1.1" stroke-linecap="butt"/>
<line x1="125.3" y1="467.7" x2="125.3" y2="469.9" stroke="#000" stroke-width="1.1" stroke-linecap="butt"/>
<line x1="82.8" y1="419.74" x2="85" y2="419.74" stroke="#000" stroke-width="1.1" stroke-linecap="butt"/>
<line x1="134.1" y1="467.7" x2="134.1" y2="469.9" stroke="#000" stroke-width="1.1" stroke-linecap="butt"/>
<line x1="82.8" y1="415.38" x2="85" y2="415.38" stroke="#000" stroke-width="1.1" stroke-linecap="butt"/>
<line x1="138.5" y1="467.7" x2="138.5" y2="469.9" stroke="#000" stroke-width="1.1" stroke-linecap="butt"/>
<line x1="82.8" y1="411.02" x2="85" y2="411.02" stroke="#000" stroke-width="1.1" stroke-linecap="butt"/>
<line x1="142.9" y1="467.7" x2="142.9" y2="469.9" stroke="#000" stroke-width="1.1" stroke-linecap="butt"/>
<line x1="82.8" y1="406.66" x2="85" y2="406.66" stroke="#000" stroke-width="1.1" stroke-linecap="butt"/>
<line x1="147.3" y1="467.7" x2="147.3" y2="469.9" stroke="#000" stroke-width="1.1" stroke-linecap="butt"/>
<line x1="82.8" y1="397.94" x2="85" y2="397.94" stroke="#000" stroke-width="1.1" stroke-linecap="butt"/>
<line x1="156.1" y1="467.7" x2="156.1" y2="469.9" stroke="#000" stroke-width="1.1" stroke-linecap="butt"/>
<line x1="82.8" y1="393.58" x2="85" y2="393.58" stroke="#000" stroke-width="1.1" stroke-linecap="butt"/>
<line x1="160.5" y1="467.7" x2="160.5" y2="469.9" stroke="#000" stroke-width="1.1" stroke-linecap="butt"/>
<line x1="82.8" y1="389.22" x2="85" y2="389.22" stroke="#000" stroke-width="1.1" stroke-linecap="butt"/>
<line x1="164.9" y1="467.7" x2="164.9" y2="469.9" stroke="#000" stroke-width="1.1" stroke-linecap="butt"/>
<line x1="82.8" y1="384.86" x2="85" y2="384.86" stroke="#000" stroke-width="1.1" stroke-linecap="butt"/>
<line x1="169.3" y1="467.7" x2="169.3" y2="469.9" stroke="#000" stroke-width="1.1" stroke-linecap="butt"/>
<line x1="82.8" y1="376.14" x2="85" y2="376.14" stroke="#000" stroke-width="1.1" stroke-linecap="butt"/>
<line x1="178.1" y1="467.7" x2="178.1" y2="469.9" stroke="#000" stroke-width="1.1" stroke-linecap="butt"/>
<line x1="82.8" y1="371.78" x2="85" y2="371.78" stroke="#000" stroke-width="1.1" stroke-linecap="butt"/>
<line x1="182.5" y1="467.7" x2="182.5" y2="469.9" stroke="#000" stroke-width="1.1" stroke-linecap="butt"/>
<line x1="82.8" y1="367.42" x2="85" y2="367.42" stroke="#000" stroke-width="1.1" stroke-linecap="butt"/>
<line x1="186.9" y1="467.7" x2="186.9" y2="469.9" stroke="#000" stroke-width="1.1" stroke-linecap="butt"/>
<line x1="82.8" y1="363.06" x2="85" y2="363.06" stroke="#000" stroke-width="1.1" stroke-linecap="butt"/>
<line x1="191.3" y1="467.7" x2="191.3" y2="469.9" stroke="#000" stroke-width="1.1" stroke-linecap="butt"/>
<rect x="101.25" y="412.25" width="11.6" height="47.2" fill="none" stroke="#000" stroke-width="1.9"/>
<line x1="100.3" y1="433" x2="113.8" y2="433" stroke="#000" stroke-width="3" stroke-linecap="butt"/>
<rect x="114.35" y="403.85" width="9.5" height="55.6" fill="none" stroke="#000" stroke-width="1.9"/>
<rect x="125.35" y="403.85" width="9.9" height="55.6" fill="none" stroke="#000" stroke-width="1.9"/>
<line x1="124.6" y1="402.9" x2="124.6" y2="460.4" stroke="#000" stroke-width="2.25" stroke-linecap="butt"/>
<line x1="113.6" y1="411.3" x2="113.6" y2="460.4" stroke="#000" stroke-width="2.3" stroke-linecap="butt"/>
<text x="100" y="402.8" font-family="'Liberation Sans', sans-serif" font-size="7.2" font-weight="bold" text-anchor="start" stroke="#000" stroke-width="0.3">G<tspan font-size="4.3" dy="0.9">1</tspan></text>
<text transform="translate(100.1,410.9)" font-family="'Liberation Sans', sans-serif" font-size="6.9" font-weight="bold" font-style="normal" text-anchor="start" fill="#000"  stroke="#000" stroke-width="0.3">4.3</text>
<text transform="translate(120.8,394.2)" font-family="'Liberation Sans', sans-serif" font-size="6.9" font-weight="bold" font-style="normal" text-anchor="middle" fill="#000"  stroke="#000" stroke-width="0.3">S</text>
<text transform="translate(119.5,402.7)" font-family="'Liberation Sans', sans-serif" font-size="6.9" font-weight="bold" font-style="normal" text-anchor="middle" fill="#000"  stroke="#000" stroke-width="0.3">13.1</text>
<text transform="translate(143.3,428.8)" font-family="'Liberation Sans', sans-serif" font-size="6.9" font-weight="bold" font-style="normal" text-anchor="middle" fill="#000"  stroke="#000" stroke-width="0.3">M</text>
<text transform="translate(143.7,437.3)" font-family="'Liberation Sans', sans-serif" font-size="6.9" font-weight="bold" font-style="normal" text-anchor="middle" fill="#000"  stroke="#000" stroke-width="0.3">9.5</text>
<text x="90.6" y="449.9" font-family="'Liberation Sans', sans-serif" font-size="7.2" font-weight="bold" text-anchor="start" stroke="#000" stroke-width="0.3">G<tspan font-size="4.3" dy="0.9">0</tspan></text>
<text transform="translate(90.8,458.2)" font-family="'Liberation Sans', sans-serif" font-size="6.9" font-weight="bold" font-style="normal" text-anchor="start" fill="#000"  stroke="#000" stroke-width="0.3">73</text>
<text transform="translate(87.5,351.1) scale(0.9824,1)" font-family="'Liberation Sans', sans-serif" font-size="10" font-weight="bold" font-style="normal" text-anchor="start" fill="#000"  stroke="#000" stroke-width="0.3">PBS</text>
<path d="M247.3 443.8h.8M245.2 445.1h.8M245.8 446.8h.8M247.4 450.5h.8M247.0 451.3h.8M247.4 445.3h.8M246.3 441.2h.8M243.9 449.4h.8M246.3 448.0h.8M247.2 438.3h.8M245.4 441.6h.8M248.3 442.7h.8M246.8 440.7h.8M244.5 445.9h.8M246.4 448.5h.8M244.0 451.4h.8M245.1 445.2h.8M246.0 444.3h.8M247.4 449.3h.8M247.2 442.1h.8M247.3 446.7h.8M248.0 445.1h.8M243.9 445.8h.8M245.9 451.7h.8M246.4 451.0h.8M247.1 438.7h.8M246.7 448.6h.8M247.3 436.9h.8M247.3 441.6h.8M243.0 448.1h.8M243.3 444.0h.8M249.0 455.3h.8M248.4 445.4h.8M249.8 442.8h.8M244.9 435.2h.8M241.8 449.5h.8M246.7 441.0h.8M248.3 442.7h.8M246.9 447.7h.8M245.6 448.4h.8M246.9 448.2h.8M245.7 446.9h.8M243.7 447.8h.8M246.7 451.7h.8M248.2 440.3h.8M244.7 458.5h.8M246.0 441.9h.8M245.6 438.2h.8M245.9 444.1h.8M246.2 452.1h.8M247.0 438.7h.8M243.7 447.4h.8M248.6 448.0h.8M245.6 453.6h.8M247.4 441.5h.8M247.4 444.4h.8M244.7 446.4h.8M246.9 452.6h.8M244.9 449.8h.8M246.7 445.6h.8M244.6 455.8h.8M248.8 451.2h.8M247.4 452.7h.8M247.6 449.9h.8M246.1 448.0h.8M246.1 441.0h.8M245.9 441.0h.8M244.7 446.7h.8M249.7 447.2h.8M248.0 439.2h.8M247.1 437.4h.8M245.6 444.9h.8M246.0 451.5h.8M245.8 451.9h.8M244.0 454.9h.8M244.6 450.2h.8M246.7 450.4h.8M247.7 446.5h.8M246.4 457.0h.8M245.9 447.2h.8M245.9 447.9h.8M245.0 446.2h.8M247.5 441.5h.8M247.5 441.6h.8M249.1 441.6h.8M249.7 444.1h.8M246.4 451.4h.8M248.7 451.3h.8M249.0 447.2h.8M244.7 454.0h.8M246.5 448.4h.8M248.8 438.8h.8M248.9 455.6h.8M247.6 442.8h.8M249.0 443.4h.8M248.5 450.1h.8M244.1 451.6h.8M244.1 446.0h.8M247.7 437.9h.8M245.4 445.3h.8M247.2 447.0h.8M247.4 442.1h.8M245.4 450.1h.8M245.2 443.7h.8M247.9 439.8h.8M245.1 454.4h.8M245.4 458.4h.8M247.8 448.1h.8M247.2 435.2h.8M248.4 444.9h.8M246.2 437.7h.8M245.6 446.9h.8M246.2 447.8h.8M246.0 452.3h.8M247.7 438.0h.8M245.6 449.7h.8M245.7 454.9h.8M245.7 448.6h.8M247.7 438.2h.8M248.8 441.5h.8M245.4 443.9h.8M243.7 442.8h.8M249.2 441.3h.8M246.1 447.7h.8M247.6 440.1h.8M246.3 447.9h.8M248.4 444.7h.8M249.5 440.5h.8M246.1 439.2h.8M246.6 449.5h.8M246.2 445.6h.8M245.0 445.2h.8M245.9 446.5h.8M248.5 445.9h.8M248.2 449.9h.8M245.8 454.3h.8M246.7 438.6h.8M245.6 447.0h.8M246.5 450.6h.8M244.6 449.5h.8M247.1 441.1h.8M247.1 445.2h.8M247.3 438.4h.8M247.5 443.0h.8M245.2 436.2h.8M246.3 444.3h.8M249.1 448.8h.8M247.3 446.1h.8M247.5 436.6h.8M249.0 440.5h.8M245.3 447.7h.8M241.9 445.7h.8M244.6 440.4h.8M247.6 453.0h.8M246.6 444.1h.8M247.2 442.3h.8M246.8 447.7h.8M246.2 444.2h.8M246.7 446.0h.8M247.7 435.9h.8M244.7 446.0h.8M247.4 437.6h.8M248.6 450.5h.8M245.3 453.7h.8M243.0 450.6h.8M243.8 455.7h.8M248.0 446.4h.8M245.6 441.2h.8M247.3 441.9h.8M247.7 435.4h.8M247.3 447.4h.8M242.7 444.7h.8M245.3 444.3h.8M243.6 450.2h.8M244.6 448.2h.8M243.4 444.0h.8M247.7 434.7h.8M246.5 453.6h.8M247.9 436.5h.8M248.1 448.5h.8M246.0 449.9h.8M241.8 453.2h.8M246.8 443.4h.8M246.7 451.2h.8M248.1 439.9h.8M247.9 450.0h.8M246.7 447.5h.8M242.3 443.4h.8M247.1 436.6h.8M248.0 449.8h.8M244.8 441.9h.8M246.2 447.4h.8M247.9 442.3h.8M246.6 440.2h.8M247.0 440.8h.8M248.2 446.9h.8M243.7 451.7h.8M244.6 453.7h.8M244.7 455.1h.8M248.3 453.5h.8M247.0 445.1h.8M248.6 435.9h.8M246.4 444.0h.8M246.4 437.2h.8M243.6 440.7h.8M249.0 440.1h.8M247.5 443.4h.8M246.1 453.3h.8M242.5 450.3h.8M245.1 442.7h.8M243.7 441.5h.8M244.4 454.6h.8M245.3 444.9h.8M246.2 449.4h.8M248.2 444.0h.8M246.5 448.4h.8M245.1 448.8h.8M249.3 437.8h.8M245.0 439.5h.8M246.6 448.8h.8M245.8 444.9h.8M248.5 442.8h.8M247.7 441.9h.8M248.7 447.2h.8M246.2 442.8h.8M244.9 434.7h.8M247.7 444.2h.8M246.4 437.6h.8M246.5 441.4h.8M244.5 447.3h.8M247.0 444.1h.8M245.7 450.9h.8M246.9 443.1h.8M247.5 445.8h.8M248.1 447.8h.8M247.8 440.6h.8M248.7 447.7h.8M245.6 453.7h.8M246.7 440.1h.8M246.5 438.9h.8M248.4 436.1h.8M249.0 437.4h.8M246.3 452.9h.8M247.1 436.0h.8M246.3 436.3h.8M247.7 438.5h.8M246.4 445.2h.8M244.0 451.3h.8M249.5 436.3h.8M245.6 449.2h.8M248.6 438.0h.8M246.9 447.1h.8M248.3 438.7h.8M244.3 444.9h.8M247.2 441.4h.8M245.7 447.1h.8M245.3 444.3h.8M246.9 443.1h.8M247.2 450.4h.8M248.4 443.4h.8M248.1 453.2h.8M246.9 449.7h.8M245.8 444.0h.8M246.9 447.9h.8M247.2 448.4h.8M247.1 444.5h.8M245.6 446.8h.8M246.7 445.6h.8M244.8 455.3h.8M248.4 444.3h.8M245.8 452.9h.8M246.2 445.1h.8M247.6 441.5h.8M246.8 443.0h.8M247.6 446.6h.8M247.8 446.4h.8M247.2 447.1h.8M247.9 438.8h.8M244.7 449.2h.8M246.9 444.2h.8M249.1 444.6h.8M248.7 443.3h.8M244.4 442.1h.8M248.4 443.4h.8M245.8 453.9h.8M249.5 443.7h.8M248.8 441.1h.8M245.1 439.6h.8M248.4 435.1h.8M246.0 447.3h.8M247.6 434.6h.8M246.3 442.2h.8M249.0 441.3h.8M245.6 456.5h.8M246.9 449.6h.8M247.2 444.3h.8M247.9 440.3h.8M244.4 445.9h.8M247.7 442.3h.8M248.4 447.0h.8M247.0 451.2h.8M247.3 446.6h.8M246.2 446.0h.8M246.5 451.6h.8M249.2 447.7h.8M247.1 444.7h.8M247.1 442.3h.8M246.6 444.2h.8M246.6 449.3h.8M244.9 457.7h.8M246.9 442.6h.8M249.0 437.5h.8M248.2 451.1h.8M247.8 444.9h.8M245.5 446.9h.8M247.0 450.5h.8M243.0 454.6h.8M244.8 445.5h.8M246.5 442.9h.8M247.6 435.9h.8M247.4 439.5h.8M246.1 446.4h.8M244.3 451.5h.8M245.2 456.0h.8M246.1 442.6h.8M246.9 445.0h.8M245.0 446.1h.8M248.5 438.3h.8M247.0 448.6h.8M249.5 443.9h.8M247.0 440.4h.8M247.1 452.3h.8M247.4 451.2h.8M245.9 451.2h.8M246.2 442.9h.8M245.6 453.7h.8M247.6 443.5h.8M246.2 450.7h.8M245.9 452.9h.8M247.2 442.2h.8M246.3 440.9h.8M244.9 445.9h.8M245.8 445.2h.8M245.4 444.3h.8M247.2 438.2h.8M246.8 446.6h.8M248.6 449.0h.8M249.0 447.3h.8M247.9 446.6h.8M246.4 445.6h.8M246.5 441.0h.8M248.6 439.4h.8M247.3 440.5h.8M244.8 454.6h.8M246.9 437.5h.8M247.7 449.0h.8M246.2 450.3h.8M248.8 448.8h.8M247.7 448.4h.8M249.3 443.0h.8M246.2 445.2h.8M246.7 436.2h.8M246.6 445.1h.8M246.5 450.2h.8M249.1 443.4h.8M245.3 445.3h.8M246.7 442.1h.8M246.5 448.9h.8M247.0 456.0h.8M243.9 450.7h.8M248.4 437.5h.8M248.2 446.4h.8M248.6 437.7h.8M244.8 456.9h.8M246.8 437.2h.8M246.4 454.5h.8M244.9 440.1h.8M242.8 450.8h.8M246.5 442.7h.8M245.7 445.8h.8M245.6 444.5h.8M248.3 443.6h.8M247.5 434.9h.8M245.1 453.5h.8M246.9 450.9h.8M244.2 452.9h.8M245.7 447.3h.8M245.5 442.6h.8M244.9 447.8h.8M248.4 437.7h.8M245.6 442.2h.8M245.2 451.5h.8M245.9 442.0h.8M247.8 446.0h.8M247.2 445.8h.8M245.7 451.6h.8M245.6 448.6h.8M246.9 451.6h.8M246.4 450.6h.8M243.8 450.8h.8M247.0 445.9h.8M243.3 454.8h.8M245.6 443.8h.8M249.2 440.8h.8M248.2 434.5h.8M247.8 445.2h.8M247.1 440.2h.8M247.2 444.0h.8M248.9 439.9h.8M244.0 455.4h.8M244.9 447.4h.8M247.9 452.9h.8M247.6 448.3h.8M247.0 446.1h.8M246.6 447.8h.8M245.2 449.3h.8M248.6 443.9h.8M246.4 450.2h.8M245.2 447.0h.8M247.9 443.5h.8M245.5 441.8h.8M246.7 452.7h.8M246.6 450.5h.8M246.2 447.2h.8M246.9 440.9h.8M248.2 443.6h.8M247.6 440.8h.8M248.2 440.1h.8M247.3 442.9h.8M245.5 450.9h.8M247.9 448.4h.8M247.0 447.3h.8M247.2 446.9h.8M246.1 452.3h.8M248.7 438.5h.8M246.8 441.0h.8M245.9 452.2h.8M246.7 447.0h.8M248.6 445.2h.8M247.0 454.6h.8M248.7 444.6h.8M246.4 440.5h.8M248.9 451.6h.8M247.8 440.5h.8M245.4 443.7h.8M245.3 445.5h.8M247.6 441.0h.8M246.1 446.1h.8M250.0 445.1h.8M245.7 451.6h.8M249.4 441.2h.8M247.9 449.8h.8M244.4 450.2h.8M246.5 450.6h.8M248.9 440.3h.8M244.2 447.1h.8M246.7 442.6h.8M247.1 439.3h.8M247.6 448.5h.8M250.0 440.5h.8M248.3 439.9h.8M245.6 443.6h.8M246.5 439.6h.8M246.2 446.7h.8M247.0 443.3h.8M246.4 452.4h.8M247.1 451.1h.8M244.8 451.4h.8M245.2 441.5h.8M247.9 445.5h.8M247.8 447.5h.8M243.5 453.6h.8M249.8 442.2h.8M248.3 451.0h.8M246.2 445.9h.8M246.3 452.3h.8M244.7 436.4h.8M247.1 444.0h.8M248.4 449.1h.8M247.3 452.0h.8M244.6 448.8h.8M246.3 451.6h.8M247.4 448.7h.8M248.3 449.3h.8M248.0 444.6h.8M245.2 455.7h.8M247.6 437.4h.8M244.6 442.9h.8M246.1 451.4h.8M246.7 450.0h.8M244.6 448.6h.8M247.0 447.7h.8M247.9 444.8h.8M248.0 450.3h.8M247.5 438.6h.8M245.6 443.2h.8M249.2 446.3h.8M246.8 442.8h.8M245.7 455.0h.8M246.4 443.3h.8M245.4 451.4h.8M243.7 447.7h.8M247.7 448.7h.8M247.6 443.0h.8M248.0 452.5h.8M245.3 443.8h.8M246.1 447.4h.8M245.9 444.0h.8M243.1 455.9h.8M245.0 448.7h.8M245.9 450.8h.8M244.7 443.2h.8M246.8 446.2h.8M245.9 449.2h.8M245.9 445.4h.8M244.8 448.7h.8M248.2 443.0h.8M246.6 451.1h.8M246.0 443.7h.8M246.8 454.3h.8M246.1 446.6h.8M247.2 442.9h.8M246.1 453.4h.8M243.9 452.7h.8M248.2 450.1h.8M247.1 447.9h.8M245.8 438.5h.8M247.0 446.4h.8M247.4 451.7h.8M249.5 442.8h.8M247.3 440.1h.8M247.1 442.3h.8M247.0 438.5h.8M248.5 435.6h.8M246.7 447.4h.8M248.0 451.9h.8M244.7 448.3h.8M246.3 446.8h.8M248.7 439.9h.8M245.0 445.3h.8M248.1 439.8h.8M243.7 448.1h.8M248.6 451.3h.8M245.6 444.2h.8M247.9 449.4h.8M246.7 446.4h.8M248.0 436.1h.8M249.0 437.1h.8M243.6 457.4h.8M246.8 450.0h.8M244.2 451.4h.8M247.2 446.4h.8M247.0 445.2h.8M246.6 440.1h.8M250.0 438.4h.8M244.6 450.6h.8M246.3 442.7h.8M243.8 447.8h.8M246.0 446.5h.8M247.7 446.9h.8M249.8 439.3h.8M246.2 452.4h.8M248.7 441.8h.8M245.9 453.3h.8M247.8 450.5h.8M248.6 446.1h.8M247.1 446.4h.8M246.8 439.5h.8M247.6 449.2h.8M247.9 440.8h.8M246.4 452.5h.8M248.6 438.6h.8M244.3 450.8h.8M246.5 450.0h.8M243.7 451.3h.8M247.0 437.6h.8M249.7 441.6h.8M247.4 443.4h.8M247.1 449.0h.8M247.4 447.2h.8M244.1 449.8h.8M244.6 450.6h.8M245.5 438.5h.8M249.3 440.6h.8M246.1 446.9h.8M246.4 449.9h.8M249.4 439.8h.8M247.8 447.9h.8M244.6 452.7h.8M248.2 443.0h.8M246.1 441.5h.8M248.4 439.9h.8M246.9 438.5h.8M246.2 437.9h.8M245.3 451.9h.8M244.7 443.1h.8M245.4 445.2h.8M244.7 449.5h.8M245.6 450.9h.8M247.3 445.9h.8M247.1 447.3h.8M243.7 457.5h.8M245.2 436.7h.8M244.2 438.7h.8M246.9 443.6h.8M245.4 454.6h.8M245.2 447.5h.8M244.5 444.8h.8M249.2 447.6h.8M248.4 443.6h.8M245.0 450.2h.8M244.7 449.9h.8M247.0 450.6h.8M246.4 446.6h.8M246.1 446.0h.8M246.1 446.1h.8M247.4 450.4h.8M247.0 435.6h.8M244.8 451.4h.8M242.4 448.3h.8M246.7 423.3h.8M245.4 417.1h.8M249.7 415.1h.8M245.0 427.9h.8M246.6 427.2h.8M248.6 417.2h.8M247.3 419.7h.8M246.5 423.1h.8M244.9 424.8h.8M244.3 423.0h.8M245.5 421.7h.8M245.6 422.5h.8M249.3 424.2h.8M245.0 431.3h.8M247.0 427.0h.8M248.0 420.4h.8M248.1 428.6h.8M246.9 428.3h.8M246.1 427.6h.8M245.4 422.7h.8M246.0 426.6h.8M246.8 424.6h.8M257.2 445.6h.8M256.2 444.6h.8M257.2 426.4h.8M257.5 451.5h.8M255.0 446.1h.8M254.4 448.8h.8M254.5 435.4h.8M257.7 439.1h.8M256.8 451.3h.8M259.6 431.6h.8M258.8 437.7h.8M258.5 434.4h.8M256.3 439.2h.8M254.8 439.3h.8M255.9 431.1h.8M257.3 435.0h.8M259.6 446.6h.8M253.3 439.3h.8M253.3 432.1h.8M257.2 441.5h.8M255.9 452.2h.8M257.5 430.2h.8M256.8 424.7h.8M254.0 439.3h.8M254.4 441.0h.8M258.0 445.4h.8M258.4 431.6h.8M255.0 442.4h.8M255.5 454.3h.8M257.0 434.1h.8M254.8 438.5h.8M256.4 440.4h.8M255.2 434.7h.8M256.6 434.2h.8M254.4 438.6h.8M256.6 435.6h.8M257.9 427.8h.8M257.2 441.4h.8M257.4 435.8h.8M255.3 435.5h.8M253.5 456.0h.8M258.3 439.5h.8M259.7 435.3h.8M257.9 437.4h.8M254.7 423.5h.8M258.9 443.9h.8M258.8 434.6h.8M258.9 442.5h.8M260.4 437.1h.8M259.9 421.8h.8M259.7 440.8h.8M254.4 439.4h.8M258.6 444.7h.8M259.5 443.9h.8M257.3 437.1h.8M258.6 430.5h.8M254.6 444.0h.8M256.7 437.6h.8M256.5 443.2h.8M256.5 448.0h.8M253.9 438.4h.8M255.7 434.8h.8M254.0 438.8h.8M254.6 432.0h.8M258.6 435.3h.8M253.7 439.5h.8M258.5 441.7h.8M257.3 445.9h.8M256.6 432.1h.8M255.5 439.7h.8M259.1 430.9h.8M256.3 441.6h.8M259.9 436.8h.8M255.6 441.5h.8M254.7 427.6h.8M255.7 435.0h.8M256.6 434.0h.8M254.3 444.6h.8M257.7 439.7h.8M253.5 450.1h.8M258.0 444.0h.8M255.9 435.2h.8M253.5 450.6h.8M258.0 427.3h.8M257.0 436.6h.8M257.4 443.5h.8M259.9 437.4h.8M254.3 432.7h.8M254.8 433.8h.8M258.2 431.5h.8M256.6 442.6h.8M255.7 452.3h.8M254.6 439.9h.8M256.7 436.2h.8M254.8 440.0h.8M254.6 440.2h.8M255.3 429.8h.8M260.4 434.2h.8M255.0 442.5h.8M259.1 447.4h.8M258.1 441.2h.8M254.5 453.5h.8M255.7 438.9h.8M257.7 442.5h.8M257.3 436.3h.8M257.4 448.3h.8M260.2 439.2h.8M258.7 428.8h.8M256.1 429.3h.8M253.7 433.8h.8M255.8 425.3h.8M254.1 445.6h.8M258.2 430.2h.8M257.0 432.1h.8M256.1 438.3h.8M256.6 450.4h.8M258.8 444.6h.8M257.6 418.8h.8M256.4 438.8h.8M253.9 444.9h.8M257.5 422.5h.8M259.7 437.8h.8M256.9 431.5h.8M255.5 447.2h.8M260.9 436.8h.8M254.5 454.1h.8M260.5 434.2h.8M259.7 437.5h.8M257.0 440.8h.8M260.6 424.8h.8M255.7 437.4h.8M255.3 438.3h.8M253.5 437.1h.8M259.0 433.5h.8M257.0 441.8h.8M255.6 444.6h.8M258.7 427.1h.8M254.9 435.2h.8M257.1 436.9h.8M259.5 447.2h.8M260.2 430.0h.8M255.7 431.9h.8M255.0 446.3h.8M258.3 420.6h.8M257.1 445.0h.8M253.2 445.0h.8M255.5 430.0h.8M257.9 438.0h.8M260.8 435.1h.8M256.6 436.6h.8M260.2 427.0h.8M256.5 432.6h.8M256.1 446.6h.8M255.6 446.3h.8M255.2 430.8h.8M257.1 446.3h.8M256.7 438.8h.8M254.9 447.4h.8M259.0 430.1h.8M259.2 443.8h.8M260.2 436.9h.8M260.2 441.7h.8M257.5 424.3h.8M254.7 449.9h.8M255.3 438.2h.8M256.7 432.6h.8M261.2 434.2h.8M256.4 438.4h.8M253.7 441.7h.8M258.7 436.3h.8M257.4 431.3h.8M258.9 430.0h.8M255.8 432.4h.8M261.1 434.7h.8M256.4 446.7h.8M256.2 429.2h.8M257.8 440.5h.8M259.8 421.1h.8M255.3 447.2h.8M258.6 434.7h.8M255.3 431.0h.8M257.8 429.7h.8M257.6 442.8h.8M256.1 445.1h.8M260.8 443.2h.8M254.7 430.4h.8M254.8 428.9h.8M255.3 440.6h.8M257.4 440.2h.8M261.0 431.3h.8M254.8 431.7h.8M254.3 443.2h.8M261.0 436.3h.8M256.2 439.2h.8M260.1 431.3h.8M259.1 435.8h.8M255.9 445.8h.8M259.9 434.6h.8M255.2 429.8h.8M255.0 448.7h.8M257.7 438.3h.8M258.8 436.2h.8M258.2 430.5h.8M260.7 427.4h.8M259.4 417.1h.8M254.9 430.3h.8M258.7 425.9h.8M253.7 445.0h.8M261.2 439.7h.8M254.3 424.4h.8M255.5 432.9h.8M254.4 439.4h.8M261.3 440.9h.8M258.1 440.6h.8M255.3 448.5h.8M255.3 442.0h.8M255.3 435.6h.8M259.1 447.0h.8M253.4 443.6h.8M258.6 444.0h.8M258.3 441.7h.8M257.8 427.9h.8M258.5 435.5h.8M261.2 422.3h.8M254.6 453.7h.8M256.6 448.7h.8M255.7 446.1h.8M253.7 430.0h.8M256.7 440.1h.8M256.4 449.3h.8M255.7 445.1h.8M255.7 432.3h.8M259.2 430.3h.8M259.6 437.2h.8M255.4 429.3h.8M254.6 442.2h.8M257.0 444.9h.8M258.4 436.1h.8M255.8 443.9h.8M256.8 433.6h.8M258.5 439.3h.8M255.1 446.4h.8M258.8 433.8h.8M253.8 442.8h.8M259.7 420.2h.8M258.5 433.3h.8M256.8 439.3h.8M259.8 436.2h.8M253.9 443.8h.8M258.4 434.6h.8M261.2 431.0h.8M259.8 442.8h.8M257.9 438.3h.8M256.4 434.4h.8M255.8 431.8h.8M256.1 432.6h.8M256.3 435.7h.8M260.2 424.5h.8M254.7 447.1h.8M260.2 439.9h.8M257.7 454.9h.8M257.7 437.8h.8M260.3 427.3h.8M256.4 435.6h.8M253.3 444.8h.8M261.4 438.8h.8M256.1 436.0h.8M254.5 438.4h.8M258.2 427.2h.8M259.4 424.5h.8M255.5 438.6h.8M259.5 434.6h.8M253.8 430.1h.8M257.5 438.8h.8M258.2 424.8h.8M258.4 441.2h.8M254.7 432.9h.8M259.0 428.8h.8M258.9 446.9h.8M255.4 441.5h.8M258.4 440.1h.8M258.3 439.0h.8M255.9 437.7h.8M258.9 445.5h.8M259.1 446.3h.8M259.4 435.8h.8M259.1 442.5h.8M260.5 437.6h.8M259.4 437.4h.8M258.8 432.7h.8M260.7 434.6h.8M259.3 443.0h.8M257.8 433.2h.8M260.6 428.7h.8M258.4 439.1h.8M253.7 448.2h.8M258.3 432.6h.8M259.7 427.5h.8M260.3 436.1h.8M256.5 446.8h.8M257.4 433.3h.8M258.0 437.5h.8M253.1 438.0h.8M256.7 448.9h.8M259.3 429.1h.8M257.5 437.3h.8M260.6 441.4h.8M257.3 436.0h.8M253.4 428.3h.8M257.6 432.1h.8M259.1 448.0h.8M257.0 438.9h.8M261.1 434.6h.8M256.5 433.6h.8M259.2 431.5h.8M257.2 442.3h.8M254.6 429.3h.8M257.8 434.3h.8M255.6 433.7h.8M260.5 439.5h.8M257.7 439.2h.8M258.0 435.8h.8M254.6 440.0h.8M260.6 452.7h.8M258.0 437.3h.8M255.7 447.0h.8M253.4 436.2h.8M254.6 435.6h.8M258.4 435.5h.8M254.9 440.3h.8M260.2 433.2h.8M261.1 432.7h.8M258.7 436.7h.8M257.8 438.2h.8M253.6 446.7h.8M257.1 442.0h.8M258.3 435.7h.8M257.8 434.6h.8M254.4 440.6h.8M253.9 436.0h.8M260.9 444.0h.8M257.8 441.8h.8M258.9 437.0h.8M254.7 435.1h.8M255.8 443.1h.8M255.1 438.8h.8M254.8 447.3h.8M258.2 453.3h.8M260.1 427.2h.8M254.5 440.4h.8M254.5 429.4h.8M255.5 440.4h.8M261.3 433.0h.8M256.7 434.7h.8M254.2 445.2h.8M258.7 431.2h.8M260.7 439.8h.8M259.3 428.1h.8M256.7 431.2h.8M256.7 440.8h.8M260.9 441.4h.8M258.6 427.2h.8M254.2 437.2h.8M257.5 433.8h.8M257.5 440.7h.8M260.2 433.3h.8M256.6 431.6h.8M258.9 423.9h.8M253.8 454.7h.8M260.5 432.1h.8M254.9 446.8h.8M256.7 440.8h.8M256.4 444.5h.8M254.0 440.9h.8M260.6 429.4h.8M254.3 442.1h.8M258.2 426.3h.8M255.0 442.4h.8M257.0 426.7h.8M256.4 441.1h.8M257.5 438.2h.8M256.2 424.4h.8M256.6 436.8h.8M256.1 442.1h.8M260.1 440.0h.8M260.2 423.3h.8M257.9 431.2h.8M257.0 431.2h.8M254.6 449.4h.8M260.8 435.0h.8M256.0 445.5h.8M257.4 441.6h.8M260.0 432.7h.8M258.1 446.3h.8M259.4 429.3h.8M253.0 433.9h.8M259.4 429.7h.8M255.8 436.6h.8M260.9 449.0h.8M257.4 445.8h.8M257.4 440.2h.8M256.9 444.8h.8M257.4 453.0h.8M255.6 453.7h.8M254.1 426.7h.8M256.7 437.8h.8M257.8 438.8h.8M257.8 438.2h.8M257.3 445.3h.8M256.3 433.7h.8M253.6 446.5h.8M260.4 441.0h.8M257.6 437.3h.8M257.7 427.7h.8M255.5 435.0h.8M259.1 442.9h.8M258.7 420.9h.8M258.3 442.3h.8M256.2 440.4h.8M253.7 441.4h.8M256.7 441.7h.8M259.1 436.2h.8M256.7 432.1h.8M257.0 442.0h.8M257.4 436.2h.8M261.0 427.0h.8M256.2 446.7h.8M260.3 441.5h.8M254.0 445.1h.8M258.8 426.6h.8M255.0 445.3h.8M257.3 430.7h.8M260.5 430.4h.8M258.5 434.0h.8M254.1 440.0h.8M256.2 446.7h.8M254.7 439.3h.8M257.0 445.8h.8M255.7 441.8h.8M259.9 437.0h.8M256.6 434.1h.8M258.3 433.6h.8M257.8 437.8h.8M257.8 432.1h.8M260.9 437.8h.8M257.3 443.6h.8M255.3 436.1h.8M259.2 430.2h.8M254.6 431.5h.8M253.1 437.1h.8M256.7 441.6h.8M254.3 440.8h.8M261.2 425.0h.8M261.1 430.0h.8M256.0 431.4h.8M257.7 450.8h.8M253.3 424.4h.8M257.6 452.9h.8M258.3 447.4h.8M255.6 434.5h.8M257.8 432.1h.8M256.8 427.2h.8M257.0 422.8h.8M260.6 445.1h.8M257.3 424.0h.8M260.6 431.9h.8M257.8 428.3h.8M260.1 431.5h.8M256.7 437.1h.8M256.1 440.0h.8M260.4 434.6h.8M258.3 437.5h.8M259.0 434.3h.8M255.0 448.9h.8M256.2 438.3h.8M259.1 438.9h.8M255.5 431.1h.8M256.9 439.9h.8M256.8 432.0h.8M254.6 441.5h.8M258.8 421.2h.8M256.7 447.7h.8M255.2 428.0h.8M253.1 442.6h.8M257.5 441.8h.8M253.6 437.7h.8M259.0 429.5h.8M259.4 438.1h.8M259.8 446.0h.8M256.7 448.1h.8M256.8 429.5h.8M259.0 430.6h.8M258.6 446.1h.8M259.1 436.4h.8M260.3 425.0h.8M259.4 442.1h.8M257.0 440.3h.8M256.9 424.0h.8M254.0 443.5h.8M255.9 443.6h.8M261.0 439.4h.8M256.8 431.4h.8M257.8 444.8h.8M257.4 428.0h.8M256.1 440.9h.8M259.1 444.3h.8M254.8 440.7h.8M255.5 437.4h.8M258.9 426.7h.8M258.9 440.5h.8M259.5 440.6h.8M255.5 440.1h.8M261.2 432.2h.8M254.7 446.3h.8M256.5 435.2h.8M253.7 439.2h.8M256.4 444.4h.8M255.0 430.6h.8M258.6 432.9h.8M253.8 451.2h.8M258.1 437.7h.8M259.1 437.5h.8M258.6 441.6h.8M255.2 439.1h.8M253.7 434.8h.8M256.6 441.2h.8M260.0 433.7h.8M258.3 437.7h.8M256.8 429.8h.8M261.2 428.8h.8M261.0 439.5h.8M259.3 426.9h.8M261.3 427.3h.8M255.3 441.6h.8M258.3 436.3h.8M256.3 439.6h.8M259.1 441.1h.8M256.9 455.9h.8M258.5 444.3h.8M254.6 438.4h.8M258.8 418.3h.8M257.7 434.3h.8M255.6 444.4h.8M260.6 428.2h.8M254.3 447.8h.8M258.3 435.5h.8M258.4 435.4h.8M258.0 436.4h.8M258.7 431.0h.8M259.6 427.5h.8M260.5 448.8h.8M259.7 429.0h.8M258.2 437.6h.8M257.4 441.6h.8M257.2 432.1h.8M256.1 439.2h.8M258.5 430.4h.8M261.4 435.1h.8M256.0 430.2h.8M257.3 430.5h.8M267.5 420.4h.8M266.1 440.1h.8M266.3 430.9h.8M264.5 427.9h.8M265.0 438.3h.8M269.7 438.6h.8M268.5 432.3h.8M269.5 422.3h.8M269.6 426.1h.8M267.3 431.6h.8M264.5 435.6h.8M268.2 421.0h.8M266.6 425.0h.8M266.9 435.8h.8M266.6 426.5h.8M268.5 433.8h.8M264.7 429.7h.8M265.6 433.9h.8M268.2 428.8h.8M264.7 430.3h.8M267.5 431.2h.8M264.7 446.8h.8M269.9 432.1h.8M265.4 429.4h.8M266.4 419.6h.8M266.6 430.9h.8M267.5 426.5h.8M267.5 424.8h.8M266.9 429.8h.8M265.5 443.9h.8M267.7 437.0h.8M268.9 430.6h.8M266.4 441.6h.8M267.9 433.9h.8M265.8 431.6h.8M265.9 441.7h.8M264.8 431.3h.8M268.8 432.2h.8M264.7 435.3h.8M269.6 430.6h.8M268.3 431.9h.8M265.6 435.6h.8M267.4 433.7h.8M266.9 428.2h.8M265.9 444.5h.8M267.5 434.6h.8M266.3 433.9h.8M267.6 437.6h.8M266.5 432.3h.8M266.6 436.8h.8M265.1 437.9h.8M267.8 422.4h.8M266.2 438.7h.8M267.8 434.0h.8M270.6 426.7h.8M266.1 439.1h.8M266.7 438.9h.8M266.8 426.8h.8M271.1 425.8h.8M266.6 428.6h.8M270.0 434.8h.8M268.5 428.0h.8M266.5 436.8h.8M267.1 428.5h.8M265.8 432.9h.8M267.7 442.6h.8M268.1 425.0h.8M265.9 435.8h.8M267.2 432.9h.8M266.5 434.3h.8M266.4 435.6h.8M265.5 424.8h.8M267.4 430.1h.8M267.8 420.3h.8M268.2 424.3h.8M267.5 419.7h.8M268.8 432.6h.8M268.6 418.0h.8M265.6 428.2h.8M265.4 439.0h.8M265.5 437.4h.8M267.7 422.2h.8M264.6 438.0h.8M268.9 432.2h.8M265.3 434.1h.8M267.6 430.5h.8M267.1 448.7h.8M266.6 427.2h.8M266.2 419.5h.8M265.8 429.8h.8M266.4 439.7h.8M265.0 440.8h.8M266.4 433.7h.8M269.7 434.5h.8M264.7 439.1h.8M266.0 435.5h.8M265.4 440.4h.8M265.1 432.3h.8M265.1 433.9h.8M267.1 428.8h.8M266.4 434.2h.8M267.5 427.1h.8M266.6 430.5h.8M266.6 429.0h.8M265.9 438.0h.8M268.6 424.8h.8M264.8 423.0h.8M265.6 437.1h.8M268.1 433.2h.8M266.8 429.5h.8M264.5 432.9h.8M265.6 434.8h.8M268.8 424.9h.8M267.7 432.1h.8M265.2 434.1h.8M266.0 428.0h.8M266.6 436.3h.8M265.6 432.4h.8M265.8 433.7h.8M267.1 439.0h.8M268.6 422.0h.8M269.4 423.3h.8M266.5 433.6h.8M269.0 421.0h.8M267.4 433.5h.8M266.2 443.4h.8M266.5 435.5h.8M267.4 430.1h.8M267.8 416.6h.8M265.5 436.5h.8M267.7 434.3h.8M266.7 427.4h.8M268.1 436.8h.8M266.8 427.5h.8M266.2 426.3h.8M265.5 436.5h.8M267.1 448.8h.8M265.1 428.0h.8M268.3 424.9h.8M267.5 432.5h.8M266.9 432.6h.8M268.3 435.8h.8M265.8 428.6h.8M267.0 430.8h.8M268.9 422.8h.8M265.6 424.8h.8M267.0 429.3h.8M265.2 435.4h.8M269.6 419.7h.8M268.7 424.7h.8M266.8 436.0h.8M266.3 431.9h.8M270.0 430.9h.8M266.2 439.6h.8M267.4 429.8h.8M266.3 424.5h.8M265.9 422.6h.8M267.4 421.8h.8M267.4 436.9h.8M269.2 423.5h.8M266.1 435.8h.8M268.0 440.7h.8M268.7 418.1h.8M265.1 441.9h.8M264.9 435.1h.8M268.1 436.2h.8M266.9 445.2h.8M266.3 442.8h.8M269.0 430.3h.8M268.3 425.9h.8M267.9 426.3h.8M266.9 434.3h.8M266.9 427.9h.8M268.0 424.1h.8M268.0 421.9h.8M264.7 431.1h.8M266.1 423.4h.8M267.4 433.4h.8M264.8 440.4h.8M265.8 437.4h.8M265.6 432.5h.8M266.8 431.8h.8M266.3 440.2h.8M265.4 433.1h.8M268.3 433.4h.8M266.4 423.8h.8M266.7 429.9h.8M267.5 431.7h.8M265.8 425.8h.8M266.4 431.8h.8M267.5 433.1h.8M266.4 434.5h.8M269.1 423.5h.8M269.3 432.8h.8M265.6 425.9h.8M266.0 434.3h.8M266.9 427.2h.8M266.4 435.4h.8M266.8 434.5h.8M266.2 431.4h.8M268.9 416.7h.8M266.0 434.2h.8M265.8 428.3h.8M265.6 428.4h.8M266.9 431.2h.8M267.7 427.9h.8M267.2 427.4h.8M266.2 430.0h.8M265.2 437.0h.8M265.8 438.4h.8M269.2 432.4h.8M266.8 423.5h.8M266.2 426.2h.8M266.3 431.7h.8M267.0 434.1h.8M267.0 425.6h.8M265.3 435.3h.8M267.7 434.2h.8M264.7 424.1h.8M265.7 435.6h.8M267.6 430.6h.8M266.9 429.2h.8M266.1 425.7h.8M267.0 430.2h.8M268.5 430.9h.8M267.2 432.4h.8M267.6 441.7h.8M268.2 436.3h.8M265.4 425.2h.8M265.4 433.4h.8" stroke="#666" stroke-width="0.8" fill="none" opacity="0.32"/>
<rect x="222.8" y="355.2" width="113.7" height="112.5" fill="none" stroke="#000" stroke-width="1.6"/>
<line x1="218.6" y1="467.7" x2="222.8" y2="467.7" stroke="#000" stroke-width="1.5" stroke-linecap="butt"/>
<text transform="translate(218.2,470.3) scale(0.9500,1)" font-family="'Liberation Sans', sans-serif" font-size="7.5" font-weight="bold" font-style="normal" text-anchor="end" fill="#000"  stroke="#000" stroke-width="0.3">0</text>
<line x1="223.5" y1="467.7" x2="223.5" y2="471.3" stroke="#000" stroke-width="1.5" stroke-linecap="butt"/>
<text transform="translate(223.6,479.9) scale(0.9800,1)" font-family="'Liberation Sans', sans-serif" font-size="7.6" font-weight="bold" font-style="normal" text-anchor="middle" fill="#000"  stroke="#000" stroke-width="0.3">0</text>
<line x1="218.6" y1="445.9" x2="222.8" y2="445.9" stroke="#000" stroke-width="1.5" stroke-linecap="butt"/>
<text transform="translate(218.2,448.5) scale(0.9500,1)" font-family="'Liberation Sans', sans-serif" font-size="7.5" font-weight="bold" font-style="normal" text-anchor="end" fill="#000"  stroke="#000" stroke-width="0.3">20</text>
<line x1="245.5" y1="467.7" x2="245.5" y2="471.3" stroke="#000" stroke-width="1.5" stroke-linecap="butt"/>
<text transform="translate(245.6,479.9) scale(0.9800,1)" font-family="'Liberation Sans', sans-serif" font-size="7.6" font-weight="bold" font-style="normal" text-anchor="middle" fill="#000"  stroke="#000" stroke-width="0.3">20</text>
<line x1="218.6" y1="424.1" x2="222.8" y2="424.1" stroke="#000" stroke-width="1.5" stroke-linecap="butt"/>
<text transform="translate(218.2,426.7) scale(0.9500,1)" font-family="'Liberation Sans', sans-serif" font-size="7.5" font-weight="bold" font-style="normal" text-anchor="end" fill="#000"  stroke="#000" stroke-width="0.3">40</text>
<line x1="267.5" y1="467.7" x2="267.5" y2="471.3" stroke="#000" stroke-width="1.5" stroke-linecap="butt"/>
<text transform="translate(267.6,479.9) scale(0.9800,1)" font-family="'Liberation Sans', sans-serif" font-size="7.6" font-weight="bold" font-style="normal" text-anchor="middle" fill="#000"  stroke="#000" stroke-width="0.3">40</text>
<line x1="218.6" y1="402.3" x2="222.8" y2="402.3" stroke="#000" stroke-width="1.5" stroke-linecap="butt"/>
<text transform="translate(218.2,404.9) scale(0.9500,1)" font-family="'Liberation Sans', sans-serif" font-size="7.5" font-weight="bold" font-style="normal" text-anchor="end" fill="#000"  stroke="#000" stroke-width="0.3">60</text>
<line x1="289.5" y1="467.7" x2="289.5" y2="471.3" stroke="#000" stroke-width="1.5" stroke-linecap="butt"/>
<text transform="translate(289.6,479.9) scale(0.9800,1)" font-family="'Liberation Sans', sans-serif" font-size="7.6" font-weight="bold" font-style="normal" text-anchor="middle" fill="#000"  stroke="#000" stroke-width="0.3">60</text>
<line x1="218.6" y1="380.5" x2="222.8" y2="380.5" stroke="#000" stroke-width="1.5" stroke-linecap="butt"/>
<text transform="translate(218.2,383.1) scale(0.9500,1)" font-family="'Liberation Sans', sans-serif" font-size="7.5" font-weight="bold" font-style="normal" text-anchor="end" fill="#000"  stroke="#000" stroke-width="0.3">80</text>
<line x1="311.5" y1="467.7" x2="311.5" y2="471.3" stroke="#000" stroke-width="1.5" stroke-linecap="butt"/>
<text transform="translate(311.6,479.9) scale(0.9800,1)" font-family="'Liberation Sans', sans-serif" font-size="7.6" font-weight="bold" font-style="normal" text-anchor="middle" fill="#000"  stroke="#000" stroke-width="0.3">80</text>
<line x1="218.6" y1="358.7" x2="222.8" y2="358.7" stroke="#000" stroke-width="1.5" stroke-linecap="butt"/>
<text transform="translate(218.2,361.3) scale(0.9500,1)" font-family="'Liberation Sans', sans-serif" font-size="7.5" font-weight="bold" font-style="normal" text-anchor="end" fill="#000"  stroke="#000" stroke-width="0.3">100</text>
<line x1="333.5" y1="467.7" x2="333.5" y2="471.3" stroke="#000" stroke-width="1.5" stroke-linecap="butt"/>
<text transform="translate(333.6,479.9) scale(0.9800,1)" font-family="'Liberation Sans', sans-serif" font-size="7.6" font-weight="bold" font-style="normal" text-anchor="middle" fill="#000"  stroke="#000" stroke-width="0.3">100</text>
<line x1="220.6" y1="463.34" x2="222.8" y2="463.34" stroke="#000" stroke-width="1.1" stroke-linecap="butt"/>
<line x1="227.9" y1="467.7" x2="227.9" y2="469.9" stroke="#000" stroke-width="1.1" stroke-linecap="butt"/>
<line x1="220.6" y1="458.98" x2="222.8" y2="458.98" stroke="#000" stroke-width="1.1" stroke-linecap="butt"/>
<line x1="232.3" y1="467.7" x2="232.3" y2="469.9" stroke="#000" stroke-width="1.1" stroke-linecap="butt"/>
<line x1="220.6" y1="454.62" x2="222.8" y2="454.62" stroke="#000" stroke-width="1.1" stroke-linecap="butt"/>
<line x1="236.7" y1="467.7" x2="236.7" y2="469.9" stroke="#000" stroke-width="1.1" stroke-linecap="butt"/>
<line x1="220.6" y1="450.26" x2="222.8" y2="450.26" stroke="#000" stroke-width="1.1" stroke-linecap="butt"/>
<line x1="241.1" y1="467.7" x2="241.1" y2="469.9" stroke="#000" stroke-width="1.1" stroke-linecap="butt"/>
<line x1="220.6" y1="441.54" x2="222.8" y2="441.54" stroke="#000" stroke-width="1.1" stroke-linecap="butt"/>
<line x1="249.9" y1="467.7" x2="249.9" y2="469.9" stroke="#000" stroke-width="1.1" stroke-linecap="butt"/>
<line x1="220.6" y1="437.18" x2="222.8" y2="437.18" stroke="#000" stroke-width="1.1" stroke-linecap="butt"/>
<line x1="254.3" y1="467.7" x2="254.3" y2="469.9" stroke="#000" stroke-width="1.1" stroke-linecap="butt"/>
<line x1="220.6" y1="432.82" x2="222.8" y2="432.82" stroke="#000" stroke-width="1.1" stroke-linecap="butt"/>
<line x1="258.7" y1="467.7" x2="258.7" y2="469.9" stroke="#000" stroke-width="1.1" stroke-linecap="butt"/>
<line x1="220.6" y1="428.46" x2="222.8" y2="428.46" stroke="#000" stroke-width="1.1" stroke-linecap="butt"/>
<line x1="263.1" y1="467.7" x2="263.1" y2="469.9" stroke="#000" stroke-width="1.1" stroke-linecap="butt"/>
<line x1="220.6" y1="419.74" x2="222.8" y2="419.74" stroke="#000" stroke-width="1.1" stroke-linecap="butt"/>
<line x1="271.9" y1="467.7" x2="271.9" y2="469.9" stroke="#000" stroke-width="1.1" stroke-linecap="butt"/>
<line x1="220.6" y1="415.38" x2="222.8" y2="415.38" stroke="#000" stroke-width="1.1" stroke-linecap="butt"/>
<line x1="276.3" y1="467.7" x2="276.3" y2="469.9" stroke="#000" stroke-width="1.1" stroke-linecap="butt"/>
<line x1="220.6" y1="411.02" x2="222.8" y2="411.02" stroke="#000" stroke-width="1.1" stroke-linecap="butt"/>
<line x1="280.7" y1="467.7" x2="280.7" y2="469.9" stroke="#000" stroke-width="1.1" stroke-linecap="butt"/>
<line x1="220.6" y1="406.66" x2="222.8" y2="406.66" stroke="#000" stroke-width="1.1" stroke-linecap="butt"/>
<line x1="285.1" y1="467.7" x2="285.1" y2="469.9" stroke="#000" stroke-width="1.1" stroke-linecap="butt"/>
<line x1="220.6" y1="397.94" x2="222.8" y2="397.94" stroke="#000" stroke-width="1.1" stroke-linecap="butt"/>
<line x1="293.9" y1="467.7" x2="293.9" y2="469.9" stroke="#000" stroke-width="1.1" stroke-linecap="butt"/>
<line x1="220.6" y1="393.58" x2="222.8" y2="393.58" stroke="#000" stroke-width="1.1" stroke-linecap="butt"/>
<line x1="298.3" y1="467.7" x2="298.3" y2="469.9" stroke="#000" stroke-width="1.1" stroke-linecap="butt"/>
<line x1="220.6" y1="389.22" x2="222.8" y2="389.22" stroke="#000" stroke-width="1.1" stroke-linecap="butt"/>
<line x1="302.7" y1="467.7" x2="302.7" y2="469.9" stroke="#000" stroke-width="1.1" stroke-linecap="butt"/>
<line x1="220.6" y1="384.86" x2="222.8" y2="384.86" stroke="#000" stroke-width="1.1" stroke-linecap="butt"/>
<line x1="307.1" y1="467.7" x2="307.1" y2="469.9" stroke="#000" stroke-width="1.1" stroke-linecap="butt"/>
<line x1="220.6" y1="376.14" x2="222.8" y2="376.14" stroke="#000" stroke-width="1.1" stroke-linecap="butt"/>
<line x1="315.9" y1="467.7" x2="315.9" y2="469.9" stroke="#000" stroke-width="1.1" stroke-linecap="butt"/>
<line x1="220.6" y1="371.78" x2="222.8" y2="371.78" stroke="#000" stroke-width="1.1" stroke-linecap="butt"/>
<line x1="320.3" y1="467.7" x2="320.3" y2="469.9" stroke="#000" stroke-width="1.1" stroke-linecap="butt"/>
<line x1="220.6" y1="367.42" x2="222.8" y2="367.42" stroke="#000" stroke-width="1.1" stroke-linecap="butt"/>
<line x1="324.7" y1="467.7" x2="324.7" y2="469.9" stroke="#000" stroke-width="1.1" stroke-linecap="butt"/>
<line x1="220.6" y1="363.06" x2="222.8" y2="363.06" stroke="#000" stroke-width="1.1" stroke-linecap="butt"/>
<line x1="329.1" y1="467.7" x2="329.1" y2="469.9" stroke="#000" stroke-width="1.1" stroke-linecap="butt"/>
<rect x="239.15" y="412.45" width="11.4" height="47.3" fill="none" stroke="#000" stroke-width="1.9"/>
<line x1="238.2" y1="433.4" x2="251.5" y2="433.4" stroke="#000" stroke-width="3" stroke-linecap="butt"/>
<rect x="251.95" y="403.75" width="10.3" height="56" fill="none" stroke="#000" stroke-width="1.9"/>
<rect x="263.55" y="403.75" width="9.6" height="56" fill="none" stroke="#000" stroke-width="1.9"/>
<line x1="262.9" y1="402.8" x2="262.9" y2="460.7" stroke="#000" stroke-width="2.25" stroke-linecap="butt"/>
<line x1="251.25" y1="411.5" x2="251.25" y2="460.7" stroke="#000" stroke-width="2.3" stroke-linecap="butt"/>
<text x="238.2" y="403.2" font-family="'Liberation Sans', sans-serif" font-size="7.2" font-weight="bold" text-anchor="start" stroke="#000" stroke-width="0.3">G<tspan font-size="4.3" dy="0.9">1</tspan></text>
<text transform="translate(234,411.3)" font-family="'Liberation Sans', sans-serif" font-size="6.9" font-weight="bold" font-style="normal" text-anchor="start" fill="#000"  stroke="#000" stroke-width="0.3">4.15</text>
<text transform="translate(259.3,394.2)" font-family="'Liberation Sans', sans-serif" font-size="6.9" font-weight="bold" font-style="normal" text-anchor="middle" fill="#000"  stroke="#000" stroke-width="0.3">S</text>
<text transform="translate(259.8,403)" font-family="'Liberation Sans', sans-serif" font-size="6.9" font-weight="bold" font-style="normal" text-anchor="middle" fill="#000"  stroke="#000" stroke-width="0.3">14.1</text>
<text transform="translate(281.2,429)" font-family="'Liberation Sans', sans-serif" font-size="6.9" font-weight="bold" font-style="normal" text-anchor="middle" fill="#000"  stroke="#000" stroke-width="0.3">M</text>
<text transform="translate(281.5,438)" font-family="'Liberation Sans', sans-serif" font-size="6.9" font-weight="bold" font-style="normal" text-anchor="middle" fill="#000"  stroke="#000" stroke-width="0.3">7.79</text>
<text x="227" y="450.6" font-family="'Liberation Sans', sans-serif" font-size="7.2" font-weight="bold" text-anchor="start" stroke="#000" stroke-width="0.3">G<tspan font-size="4.3" dy="0.9">0</tspan></text>
<text transform="translate(224.3,458.4)" font-family="'Liberation Sans', sans-serif" font-size="6.9" font-weight="bold" font-style="normal" text-anchor="start" fill="#000"  stroke="#000" stroke-width="0.3">73.8</text>
<text transform="translate(225.2,352.1) scale(0.9829,1)" font-family="'Liberation Sans', sans-serif" font-size="10" font-weight="bold" font-style="normal" text-anchor="start" fill="#000"  stroke="#000" stroke-width="0.3">ALN</text>
<path d="M383.7 439.3h.8M382.9 437.8h.8M383.2 442.2h.8M383.7 449.5h.8M384.4 438.8h.8M385.2 443.6h.8M382.3 452.7h.8M382.6 435.9h.8M386.0 441.9h.8M384.4 449.2h.8M386.5 440.1h.8M384.5 439.9h.8M383.7 441.5h.8M383.4 446.1h.8M384.9 437.9h.8M380.2 444.7h.8M383.0 438.7h.8M384.5 451.6h.8M385.8 442.7h.8M383.9 441.9h.8M383.6 439.8h.8M383.1 437.4h.8M384.9 442.8h.8M382.7 443.1h.8M382.1 442.3h.8M382.1 439.5h.8M383.7 447.3h.8M380.2 443.6h.8M385.4 441.0h.8M383.5 441.6h.8M383.5 447.0h.8M384.5 441.0h.8M382.8 451.0h.8M384.4 440.5h.8M384.0 442.7h.8M383.8 451.2h.8M386.2 441.5h.8M382.6 445.7h.8M385.7 443.7h.8M386.1 445.5h.8M384.9 442.0h.8M386.7 442.6h.8M386.1 436.2h.8M386.4 446.0h.8M385.2 451.3h.8M384.6 446.1h.8M383.7 445.0h.8M386.2 436.2h.8M385.5 445.8h.8M387.6 449.7h.8M383.9 442.5h.8M385.9 444.4h.8M385.2 439.2h.8M384.0 453.2h.8M386.9 444.0h.8M382.0 446.3h.8M385.1 448.0h.8M382.8 445.0h.8M385.5 451.7h.8M381.8 438.4h.8M383.9 450.7h.8M384.5 445.1h.8M385.6 448.5h.8M384.1 438.9h.8M383.1 442.5h.8M382.7 442.4h.8M383.9 458.9h.8M382.8 441.5h.8M382.6 443.8h.8M383.5 441.1h.8M384.3 450.4h.8M386.4 436.3h.8M382.0 441.0h.8M385.8 443.9h.8M381.8 448.6h.8M383.4 445.8h.8M384.7 436.6h.8M384.3 449.6h.8M386.5 435.5h.8M384.5 444.1h.8M383.4 442.6h.8M384.1 445.5h.8M385.3 442.2h.8M384.2 439.9h.8M381.0 445.2h.8M383.9 449.0h.8M385.7 451.2h.8M384.9 443.3h.8M383.5 447.1h.8M382.5 445.4h.8M384.0 453.0h.8M380.8 452.8h.8M381.7 456.4h.8M383.7 439.9h.8M379.9 440.8h.8M385.7 447.0h.8M386.0 440.3h.8M385.2 451.1h.8M385.0 438.4h.8M382.7 441.0h.8M386.0 438.7h.8M385.1 450.4h.8M382.0 445.9h.8M383.1 444.3h.8M385.7 447.2h.8M385.2 446.2h.8M381.2 439.5h.8M384.9 447.2h.8M384.9 444.7h.8M386.7 436.8h.8M382.9 451.5h.8M384.3 436.6h.8M383.7 448.7h.8M386.5 456.0h.8M382.3 439.9h.8M386.4 444.8h.8M386.9 445.8h.8M383.6 456.1h.8M383.5 452.0h.8M382.3 445.4h.8M385.6 440.1h.8M382.4 453.7h.8M382.8 445.2h.8M383.3 444.6h.8M385.6 452.3h.8M382.2 445.5h.8M383.0 444.4h.8M384.2 442.6h.8M382.8 439.7h.8M383.3 436.9h.8M382.4 451.2h.8M385.1 449.6h.8M383.6 450.4h.8M381.8 449.9h.8M382.4 441.2h.8M384.5 442.8h.8M385.1 447.1h.8M383.7 447.0h.8M383.6 449.0h.8M387.1 442.7h.8M384.2 438.2h.8M384.1 450.1h.8M382.5 436.4h.8M384.0 449.5h.8M381.2 441.0h.8M383.0 449.6h.8M383.0 450.5h.8M383.5 447.6h.8M380.6 439.3h.8M384.9 445.4h.8M384.6 451.6h.8M383.9 448.3h.8M385.9 448.0h.8M382.7 437.2h.8M385.2 439.5h.8M383.8 438.1h.8M385.6 438.9h.8M385.7 445.4h.8M382.7 454.0h.8M382.6 450.0h.8M381.3 444.8h.8M382.3 437.3h.8M383.0 450.5h.8M381.7 452.9h.8M386.5 436.5h.8M383.2 447.4h.8M381.3 441.1h.8M383.5 442.5h.8M379.3 441.5h.8M382.2 451.7h.8M385.7 448.2h.8M381.4 442.9h.8M383.3 448.7h.8M385.2 445.1h.8M383.9 439.1h.8M386.3 447.6h.8M383.8 435.8h.8M380.7 449.9h.8M385.0 437.6h.8M382.7 450.4h.8M384.9 448.1h.8M384.4 447.3h.8M379.9 456.3h.8M386.1 446.2h.8M384.9 441.1h.8M384.4 449.7h.8M384.2 456.8h.8M383.9 442.1h.8M383.2 449.7h.8M383.2 439.2h.8M382.4 439.3h.8M384.6 440.1h.8M384.4 441.1h.8M384.4 448.3h.8M381.6 445.9h.8M380.5 444.1h.8M382.3 445.1h.8M385.2 451.3h.8M385.5 445.8h.8M385.6 445.6h.8M381.8 438.1h.8M384.9 447.1h.8M386.1 441.6h.8M382.6 450.2h.8M384.6 437.4h.8M384.8 440.0h.8M384.2 441.6h.8M384.1 453.4h.8M382.1 438.7h.8M381.4 441.7h.8M384.9 444.4h.8M383.7 451.0h.8M382.3 441.3h.8M382.7 452.1h.8M384.9 444.5h.8M386.6 438.0h.8M384.7 448.4h.8M383.4 450.7h.8M386.4 441.0h.8M385.7 438.1h.8M383.5 446.6h.8M383.4 447.6h.8M381.1 454.4h.8M384.0 442.0h.8M383.8 440.3h.8M383.9 449.9h.8M382.6 445.5h.8M383.3 437.5h.8M381.0 437.4h.8M385.2 446.2h.8M382.9 438.3h.8M383.7 445.5h.8M381.4 458.9h.8M383.5 444.0h.8M383.8 443.2h.8M384.1 437.0h.8M380.6 436.0h.8M380.1 447.2h.8M383.0 442.5h.8M383.5 443.6h.8M382.6 438.9h.8M383.0 441.1h.8M382.8 457.0h.8M383.6 448.3h.8M383.3 444.1h.8M384.4 436.6h.8M384.7 444.1h.8M383.3 447.7h.8M380.8 439.0h.8M383.4 448.0h.8M383.3 443.5h.8M383.2 457.2h.8M383.5 447.2h.8M384.1 438.6h.8M385.0 443.7h.8M382.1 443.9h.8M385.3 436.9h.8M383.0 444.2h.8M384.9 447.7h.8M383.6 445.5h.8M381.7 444.9h.8M385.0 437.7h.8M384.9 438.9h.8M383.0 444.1h.8M384.7 437.5h.8M383.6 445.0h.8M384.9 451.7h.8M386.4 453.7h.8M383.3 440.4h.8M385.0 454.4h.8M382.1 438.0h.8M385.4 456.8h.8M384.9 439.7h.8M381.8 452.7h.8M385.0 440.9h.8M382.0 450.6h.8M385.2 436.4h.8M386.7 448.7h.8M385.8 444.6h.8M380.9 444.3h.8M385.5 435.8h.8M385.0 450.4h.8M382.0 443.8h.8M387.1 436.6h.8M383.2 443.0h.8M386.7 439.2h.8M381.6 450.5h.8M382.9 441.9h.8M384.2 446.2h.8M383.4 441.0h.8M385.2 449.3h.8M384.4 449.9h.8M384.5 436.1h.8M385.6 447.5h.8M384.3 447.8h.8M384.6 445.8h.8M381.9 435.7h.8M384.3 440.4h.8M385.4 438.1h.8M385.1 443.1h.8M381.8 445.8h.8M384.5 446.6h.8M380.8 445.1h.8M384.2 440.2h.8M385.1 436.2h.8M385.3 454.1h.8M380.9 451.0h.8M381.8 446.7h.8M382.9 437.3h.8M383.1 455.0h.8M383.0 438.6h.8M385.1 444.3h.8M385.4 447.2h.8M383.1 438.0h.8M385.6 452.0h.8M383.7 441.1h.8M383.6 456.9h.8M383.4 445.1h.8M383.9 450.5h.8M384.0 444.9h.8M385.8 448.6h.8M381.2 451.1h.8M383.4 436.3h.8M381.5 447.5h.8M383.7 450.3h.8M382.6 445.3h.8M382.3 439.6h.8M387.1 436.2h.8M384.9 454.9h.8M384.4 445.5h.8M384.2 452.6h.8M380.3 439.2h.8M381.6 440.0h.8M385.0 442.6h.8M382.7 441.7h.8M384.9 443.6h.8M378.8 436.1h.8M383.8 439.1h.8M387.3 449.6h.8M382.1 448.7h.8M384.6 447.9h.8M384.2 442.4h.8M382.9 446.0h.8M381.6 443.5h.8M384.8 453.0h.8M383.9 441.5h.8M383.3 435.7h.8M383.3 437.8h.8M383.4 443.2h.8M386.1 439.5h.8M385.1 438.1h.8M383.5 447.8h.8M384.3 435.7h.8M383.9 437.7h.8M381.5 450.5h.8M383.2 444.5h.8M383.1 435.7h.8M381.7 446.6h.8M382.9 436.8h.8M383.7 455.8h.8M387.6 442.2h.8M382.3 453.5h.8M384.7 438.0h.8M384.6 442.8h.8M382.3 443.3h.8M386.1 438.5h.8M387.0 450.9h.8M387.2 436.4h.8M382.1 438.2h.8M386.5 440.8h.8M383.9 446.0h.8M385.9 439.3h.8M384.3 452.1h.8M381.7 440.2h.8M385.4 444.2h.8M385.3 439.5h.8M383.5 447.4h.8M379.9 451.3h.8M381.9 447.3h.8M383.1 442.4h.8M382.9 445.9h.8M384.0 443.7h.8M386.2 449.2h.8M382.5 441.2h.8M384.4 444.6h.8M383.3 436.9h.8M383.5 439.9h.8M381.8 440.5h.8M383.3 452.5h.8M383.6 449.6h.8M382.5 450.0h.8M380.8 444.6h.8M384.6 449.3h.8M383.3 446.3h.8M381.6 448.1h.8M384.0 436.1h.8M383.7 449.2h.8M383.0 447.3h.8M386.0 442.0h.8M384.4 436.8h.8M385.7 441.9h.8M385.5 452.4h.8M383.4 452.4h.8M385.1 438.8h.8M384.3 438.2h.8M385.8 448.9h.8M382.5 441.5h.8M383.0 455.1h.8M383.1 447.4h.8M380.8 438.7h.8M381.5 449.4h.8M384.7 435.5h.8M383.2 445.7h.8M387.0 440.4h.8M384.7 442.4h.8M384.3 444.0h.8M385.2 440.1h.8M383.6 452.3h.8M384.4 442.0h.8M383.6 449.9h.8M385.6 437.1h.8M385.9 443.9h.8M382.6 438.6h.8M385.7 456.9h.8M383.4 439.3h.8M384.3 446.5h.8M386.1 439.9h.8M384.7 443.1h.8M385.6 450.3h.8M385.1 443.6h.8M383.7 440.7h.8M384.1 442.0h.8M384.1 443.2h.8M383.7 448.7h.8M385.3 440.0h.8M385.9 438.1h.8M381.8 448.4h.8M387.9 443.1h.8M383.0 443.6h.8M383.6 440.9h.8M380.0 456.9h.8M384.1 443.3h.8M385.8 454.7h.8M384.8 440.3h.8M383.5 438.1h.8M384.0 436.8h.8M383.1 443.7h.8M383.2 441.1h.8M382.9 442.2h.8M384.8 442.6h.8M385.7 444.6h.8M385.2 442.2h.8M384.6 444.6h.8M384.7 445.2h.8M384.5 438.2h.8M383.1 442.3h.8M385.7 449.1h.8M381.5 448.6h.8M384.4 439.3h.8M382.7 441.2h.8M382.6 440.7h.8M384.3 448.8h.8M384.7 441.0h.8M383.9 443.1h.8M386.1 443.4h.8M383.0 438.0h.8M384.4 437.7h.8M386.2 439.6h.8M384.2 444.1h.8M383.0 441.2h.8M384.3 457.0h.8M386.1 444.9h.8M385.4 444.7h.8M382.3 438.4h.8M383.8 436.7h.8M380.1 446.9h.8M383.4 452.9h.8M385.0 450.5h.8M381.1 445.1h.8M383.5 442.6h.8M385.9 440.7h.8M381.2 447.0h.8M385.0 449.5h.8M384.3 438.4h.8M381.5 447.9h.8M386.7 446.7h.8M383.5 443.2h.8M383.8 446.1h.8M386.3 442.4h.8M383.1 435.7h.8M383.3 446.2h.8M381.5 457.8h.8M382.7 441.1h.8M382.5 449.2h.8M383.6 437.7h.8M384.2 437.3h.8M383.2 439.5h.8M383.3 437.2h.8M384.0 453.5h.8M385.6 444.1h.8M382.4 448.1h.8M382.3 454.0h.8M382.4 441.3h.8M383.5 439.4h.8M384.0 444.1h.8M383.6 450.2h.8M381.8 441.5h.8M382.7 443.8h.8M381.8 445.2h.8M383.6 448.2h.8M383.2 455.7h.8M383.1 439.1h.8M384.2 448.9h.8M386.4 451.5h.8M383.4 444.7h.8M382.8 436.0h.8M384.8 440.6h.8M383.8 437.8h.8M382.8 442.8h.8M385.9 451.8h.8M383.8 442.3h.8M385.5 450.1h.8M385.7 446.9h.8M386.6 439.0h.8M384.8 440.6h.8M381.8 442.8h.8M382.3 442.3h.8M383.1 453.1h.8M385.3 445.5h.8M383.9 440.6h.8M385.5 436.1h.8M386.5 440.5h.8M382.3 448.3h.8M386.3 444.1h.8M384.5 437.0h.8M384.0 457.2h.8M385.7 436.6h.8M382.8 445.1h.8M383.7 443.9h.8M384.3 450.1h.8M382.6 457.5h.8M384.1 446.0h.8M381.1 450.4h.8M383.5 454.6h.8M385.2 451.4h.8M384.0 448.2h.8M384.9 447.3h.8M384.3 438.6h.8M383.8 446.1h.8M385.9 442.4h.8M384.4 453.3h.8M383.3 449.6h.8M386.0 443.9h.8M387.1 449.0h.8M385.0 447.0h.8M382.1 458.3h.8M380.3 451.5h.8M383.9 444.0h.8M386.8 438.4h.8M384.3 447.4h.8M382.5 442.4h.8M382.8 452.9h.8M383.5 446.0h.8M382.0 453.1h.8M384.0 448.2h.8M382.9 452.7h.8M383.7 445.1h.8M382.7 442.3h.8M381.8 449.8h.8M384.1 444.2h.8M384.4 439.2h.8M382.3 444.3h.8M383.4 442.4h.8M381.0 457.7h.8M383.4 446.2h.8M385.5 446.9h.8M383.6 441.5h.8M386.1 450.3h.8M383.4 445.2h.8M383.9 442.7h.8M382.5 440.8h.8M383.8 453.6h.8M386.3 438.3h.8M380.5 449.4h.8M384.2 436.9h.8M385.7 442.1h.8M383.2 451.1h.8M382.6 442.8h.8M383.9 452.9h.8M382.9 438.2h.8M384.9 449.3h.8M384.9 440.2h.8M385.1 436.1h.8M384.2 435.8h.8M384.2 449.5h.8M386.2 447.6h.8M385.3 444.1h.8M386.0 449.7h.8M383.6 444.7h.8M383.7 438.6h.8M384.2 454.2h.8M385.7 452.0h.8M385.5 439.8h.8M384.4 451.4h.8M385.2 447.0h.8M381.8 447.5h.8M385.2 440.0h.8M385.0 440.7h.8M382.8 444.5h.8M384.1 447.9h.8M385.1 448.2h.8M383.5 448.0h.8M381.0 443.6h.8M383.5 448.7h.8M384.6 439.7h.8M385.1 446.9h.8M382.5 446.7h.8M383.7 438.4h.8M379.8 439.4h.8M383.0 452.1h.8M382.5 443.1h.8M383.2 437.6h.8M382.8 441.9h.8M385.6 442.2h.8M381.5 446.3h.8M385.1 443.4h.8M381.7 439.5h.8M384.5 445.6h.8M382.0 438.1h.8M384.7 451.4h.8M385.7 438.1h.8M385.7 438.4h.8M380.7 446.0h.8M384.9 443.3h.8M382.8 439.0h.8M383.2 439.6h.8M383.5 440.5h.8M383.0 451.7h.8M383.8 440.8h.8M383.6 450.1h.8M385.4 424.8h.8M384.2 423.4h.8M383.9 426.9h.8M385.7 424.4h.8M383.4 424.8h.8M382.8 422.5h.8M386.1 427.3h.8M385.6 428.6h.8M386.0 422.3h.8M386.3 428.3h.8M384.8 424.4h.8M386.1 420.9h.8M385.8 414.8h.8M387.6 422.0h.8M385.9 422.5h.8M385.7 422.2h.8M386.7 416.1h.8M382.9 424.8h.8M384.1 423.1h.8M385.8 420.1h.8M382.2 423.2h.8M383.2 427.2h.8M384.7 421.8h.8M384.6 425.5h.8M382.0 430.6h.8M385.8 428.5h.8M385.4 427.6h.8M385.3 426.4h.8M385.4 418.5h.8M386.8 420.3h.8M386.3 424.9h.8M382.7 428.0h.8M383.0 426.0h.8M384.8 424.0h.8M383.6 420.1h.8M382.7 427.6h.8M384.0 418.5h.8M379.5 420.4h.8M383.3 424.2h.8M386.9 421.0h.8M384.7 417.9h.8M385.4 426.3h.8M383.9 421.5h.8M384.6 417.8h.8M385.0 421.1h.8M382.7 421.6h.8M384.4 422.3h.8M384.1 415.9h.8M386.0 429.4h.8M385.6 431.7h.8M385.4 420.3h.8M382.3 426.2h.8M383.5 423.7h.8M380.4 426.9h.8M383.6 426.9h.8M383.1 428.3h.8M383.9 430.7h.8M381.8 429.3h.8M383.7 428.6h.8M380.1 422.5h.8M396.4 442.9h.8M397.1 435.2h.8M393.4 438.2h.8M396.0 439.2h.8M392.2 427.7h.8M393.4 435.4h.8M395.8 438.1h.8M393.8 433.0h.8M395.2 442.4h.8M393.3 441.4h.8M393.6 430.9h.8M396.6 439.9h.8M397.2 440.4h.8M396.5 440.0h.8M391.4 445.2h.8M397.6 422.3h.8M396.6 433.1h.8M394.1 439.7h.8M396.0 437.5h.8M394.9 439.3h.8M395.6 432.5h.8M395.6 441.1h.8M393.3 440.5h.8M397.9 420.4h.8M392.4 434.7h.8M394.6 441.0h.8M397.6 432.8h.8M397.9 424.3h.8M393.5 430.8h.8M394.4 430.9h.8M394.7 431.2h.8M391.8 446.6h.8M392.7 442.2h.8M394.2 444.4h.8M394.6 433.6h.8M395.9 438.5h.8M393.2 445.8h.8M392.5 435.1h.8M395.5 433.7h.8M391.9 428.5h.8M395.7 442.2h.8M392.8 439.0h.8M392.4 419.5h.8M397.6 436.6h.8M390.9 424.7h.8M392.6 436.5h.8M392.7 445.8h.8M393.2 438.1h.8M393.0 433.8h.8M395.6 441.4h.8M394.9 427.9h.8M393.0 428.4h.8M395.7 439.3h.8M394.6 431.7h.8M393.5 441.1h.8M392.6 438.4h.8M391.9 438.4h.8M395.3 430.5h.8M396.9 450.9h.8M397.4 438.4h.8M395.7 441.2h.8M395.1 440.8h.8M394.9 432.1h.8M394.8 446.8h.8M394.7 455.0h.8M398.6 438.2h.8M393.3 449.9h.8M393.4 434.2h.8M394.2 431.5h.8M396.8 421.3h.8M396.0 431.2h.8M394.2 448.1h.8M391.2 428.9h.8M398.2 450.1h.8M398.1 443.1h.8M395.6 437.9h.8M394.7 429.3h.8M396.9 430.0h.8M394.4 431.8h.8M392.7 430.4h.8M393.7 434.0h.8M393.0 435.5h.8M391.3 448.3h.8M398.0 441.9h.8M394.6 440.2h.8M398.1 444.3h.8M395.8 439.6h.8M397.9 445.4h.8M391.9 426.7h.8M396.9 435.0h.8M396.3 431.0h.8M394.8 435.5h.8M393.8 429.4h.8M393.2 438.5h.8M394.9 436.4h.8M396.3 434.2h.8M393.2 441.9h.8M394.2 427.9h.8M394.9 434.8h.8M396.4 438.0h.8M396.3 436.9h.8M395.4 435.9h.8M396.7 430.6h.8M395.7 425.6h.8M396.2 425.7h.8M392.5 439.9h.8M394.9 442.0h.8M396.4 439.7h.8M392.3 448.0h.8M394.4 428.2h.8M396.7 447.0h.8M392.2 435.8h.8M396.3 451.1h.8M397.8 436.9h.8M392.0 452.9h.8M395.5 433.3h.8M393.5 452.8h.8M393.5 430.4h.8M394.8 440.2h.8M393.1 435.8h.8M395.3 437.3h.8M391.5 432.9h.8M395.7 441.3h.8M395.0 430.4h.8M397.3 436.7h.8M393.0 451.1h.8M392.4 445.2h.8M393.2 423.8h.8M396.1 421.2h.8M392.3 439.9h.8M393.4 426.9h.8M393.0 435.8h.8M395.3 427.7h.8M398.2 419.8h.8M393.7 423.0h.8M396.2 440.1h.8M395.2 445.8h.8M394.6 423.2h.8M392.1 429.8h.8M396.7 426.4h.8M394.4 436.7h.8M392.7 435.7h.8M394.0 429.8h.8M394.2 438.3h.8M396.1 435.5h.8M394.3 431.7h.8M394.5 445.5h.8M392.4 448.1h.8M395.6 436.6h.8M394.7 442.9h.8M397.1 438.2h.8M397.4 428.4h.8M393.4 443.0h.8M394.3 422.0h.8M397.3 427.9h.8M393.9 434.2h.8M395.0 443.3h.8M393.5 435.6h.8M396.5 428.3h.8M392.6 436.6h.8M396.6 444.6h.8M392.1 433.1h.8M395.5 433.0h.8M393.5 445.7h.8M395.6 421.4h.8M393.9 443.7h.8M396.7 431.5h.8M394.0 428.8h.8M395.2 436.8h.8M391.9 447.3h.8M393.9 427.2h.8M397.4 440.7h.8M397.7 426.9h.8M398.2 435.6h.8M394.6 438.2h.8M392.3 437.0h.8M394.0 431.3h.8M396.2 432.7h.8M394.0 431.6h.8M392.9 436.5h.8M395.1 426.0h.8M394.9 436.2h.8M397.2 444.0h.8M396.8 438.9h.8M394.3 431.2h.8M397.6 432.6h.8M394.3 437.7h.8M395.5 432.7h.8M396.6 438.6h.8M396.3 440.4h.8M396.4 419.6h.8M391.5 427.1h.8M391.4 432.5h.8M397.4 451.7h.8M396.9 431.7h.8M391.8 427.3h.8M394.4 435.8h.8M396.6 454.5h.8M394.4 440.8h.8M393.1 442.9h.8M397.1 438.5h.8M393.9 420.6h.8M397.3 443.5h.8M390.9 436.6h.8M391.0 437.5h.8M395.5 434.2h.8M395.8 436.6h.8M394.8 444.0h.8M394.9 433.5h.8M394.7 446.9h.8M393.2 442.2h.8M393.9 442.9h.8M391.0 438.9h.8M397.1 435.9h.8M394.0 434.4h.8M392.0 444.0h.8M393.4 441.8h.8M395.8 446.6h.8M395.3 430.9h.8M398.9 438.3h.8M393.5 432.8h.8M394.0 446.3h.8M396.4 442.4h.8M397.1 439.8h.8M397.2 431.2h.8M393.4 431.9h.8M394.4 439.8h.8M391.7 435.8h.8M396.1 433.2h.8M393.8 430.3h.8M392.8 431.3h.8M394.9 420.7h.8M393.5 441.4h.8M396.3 432.1h.8M395.0 438.0h.8M391.7 438.1h.8M395.0 438.2h.8M396.0 437.5h.8M397.0 443.3h.8M396.8 427.2h.8M394.2 422.7h.8M394.1 442.8h.8M393.4 443.1h.8M396.3 426.7h.8M395.5 436.4h.8M397.4 440.8h.8M391.8 429.4h.8M393.1 427.1h.8M395.6 420.9h.8M394.4 439.5h.8M393.4 426.6h.8M397.9 438.4h.8M393.9 435.9h.8M391.2 441.2h.8M397.3 438.6h.8M391.7 444.6h.8M394.1 443.2h.8M396.9 433.1h.8M397.2 425.3h.8M395.2 429.2h.8M392.2 453.8h.8M398.4 419.8h.8M395.7 438.3h.8M397.4 426.0h.8M397.7 433.1h.8M396.3 428.4h.8M392.9 443.8h.8M394.6 446.6h.8M392.1 443.9h.8M395.4 422.7h.8M395.2 425.0h.8M394.4 435.7h.8M391.2 433.8h.8M397.0 438.9h.8M396.1 425.0h.8M393.1 434.5h.8M393.1 436.7h.8M393.5 426.4h.8M395.2 442.3h.8M393.8 437.1h.8M393.0 436.7h.8M393.3 434.1h.8M397.1 431.7h.8M397.6 438.9h.8M394.6 442.4h.8M396.8 421.1h.8M395.1 442.6h.8M391.5 438.9h.8M392.7 436.3h.8M395.9 431.7h.8M396.2 433.9h.8M391.4 434.8h.8M392.4 447.3h.8M397.1 427.0h.8M398.1 433.5h.8M394.6 430.2h.8M396.3 437.1h.8M399.0 440.2h.8M395.1 438.7h.8M395.5 434.0h.8M396.1 450.1h.8M395.0 442.9h.8M396.3 450.7h.8M396.2 442.2h.8M396.8 427.5h.8M394.9 428.5h.8M394.3 430.9h.8M396.5 433.5h.8M397.5 426.0h.8M397.0 430.7h.8M396.2 428.4h.8M396.0 436.3h.8M396.0 444.1h.8M396.0 430.0h.8M392.2 434.7h.8M396.8 418.6h.8M396.3 436.2h.8M391.9 439.3h.8M394.4 444.5h.8M395.1 434.9h.8M398.8 427.4h.8M396.2 446.5h.8M392.2 427.2h.8M398.3 428.6h.8M396.7 444.1h.8M395.4 432.8h.8M397.4 430.0h.8M392.6 424.1h.8M395.0 434.0h.8M394.5 432.8h.8M396.1 443.6h.8M397.3 433.9h.8M395.8 428.4h.8M391.3 439.3h.8M397.1 431.9h.8M395.5 435.7h.8M391.7 437.4h.8M394.3 429.8h.8M394.3 432.4h.8M392.8 424.9h.8M392.9 436.6h.8M396.0 438.2h.8M395.3 437.9h.8M396.5 437.0h.8M393.5 437.3h.8M395.9 432.2h.8M394.3 437.3h.8M392.9 442.8h.8M394.4 432.1h.8M397.5 432.1h.8M393.2 427.4h.8M393.8 436.3h.8M395.6 431.6h.8M393.8 426.8h.8M396.7 434.1h.8M392.8 440.8h.8M397.1 418.4h.8M395.5 438.3h.8M397.4 442.5h.8M395.5 429.4h.8M394.3 432.1h.8M397.3 431.9h.8M395.8 437.2h.8M396.5 434.6h.8M395.2 436.2h.8M395.6 431.9h.8M396.7 431.0h.8M392.7 441.3h.8M397.5 436.4h.8M394.5 436.0h.8M393.4 440.2h.8M394.5 436.0h.8M394.7 434.6h.8M392.4 443.4h.8M396.0 434.1h.8M397.0 428.9h.8M396.0 438.4h.8M394.5 432.4h.8M393.9 438.8h.8M392.9 428.2h.8M396.5 429.0h.8M393.6 433.1h.8M391.7 428.0h.8M395.8 444.9h.8M391.3 437.2h.8M393.2 425.7h.8M396.3 431.8h.8M392.1 439.3h.8M394.9 442.9h.8M397.5 432.7h.8M397.3 430.5h.8M398.3 429.7h.8M395.5 432.6h.8M396.0 430.1h.8M394.8 435.6h.8M397.4 429.1h.8M392.1 428.8h.8M392.3 439.6h.8M395.5 454.4h.8M398.1 441.5h.8M392.8 441.7h.8M396.3 423.6h.8M398.5 429.5h.8M395.3 428.8h.8M396.7 433.1h.8M393.5 436.4h.8M392.1 437.0h.8M394.3 441.9h.8M395.4 426.7h.8M396.5 442.6h.8M396.3 424.4h.8M396.8 444.2h.8M397.9 421.5h.8M392.7 445.2h.8M393.0 448.8h.8M394.7 440.9h.8M395.2 437.2h.8M393.1 440.4h.8M396.5 425.2h.8M396.8 431.1h.8M391.5 442.6h.8M392.1 435.3h.8M396.4 428.5h.8M399.0 439.4h.8M396.4 431.2h.8M397.7 424.8h.8M398.0 428.9h.8M395.0 426.2h.8M395.4 437.2h.8M396.8 430.2h.8M391.1 440.5h.8M394.3 443.1h.8M396.0 426.9h.8M395.0 439.0h.8M396.1 430.6h.8M394.8 446.9h.8M393.7 439.2h.8M394.2 437.2h.8M394.3 432.2h.8M395.0 444.3h.8M395.3 430.6h.8M395.5 421.8h.8M396.5 433.8h.8M393.9 449.8h.8M397.4 429.2h.8M393.7 432.8h.8M392.8 438.1h.8M397.6 438.3h.8M395.1 435.0h.8M393.5 438.2h.8M391.4 443.1h.8M397.3 437.5h.8M398.2 447.5h.8M395.1 428.6h.8M397.6 433.1h.8M395.5 434.0h.8M394.5 435.7h.8M395.4 441.4h.8M394.1 434.4h.8M391.3 439.8h.8M397.2 446.7h.8M392.9 441.9h.8M392.7 436.3h.8M394.4 430.7h.8M393.8 437.0h.8M394.5 436.0h.8M396.2 428.1h.8M395.4 426.8h.8M397.3 426.9h.8M394.9 432.1h.8M396.7 419.2h.8M395.7 447.5h.8M395.1 437.9h.8M393.6 442.0h.8M395.5 436.6h.8M392.0 438.1h.8M395.5 426.4h.8M393.8 431.7h.8M394.1 439.0h.8M394.3 433.0h.8M395.3 437.7h.8M397.5 435.7h.8M395.8 436.4h.8M394.9 435.4h.8M393.4 452.7h.8M394.3 430.6h.8M398.3 429.3h.8M395.8 451.2h.8M398.5 440.8h.8M396.7 429.8h.8M393.0 446.2h.8M393.8 444.3h.8M393.6 435.8h.8M394.1 433.8h.8M390.9 440.3h.8M396.9 433.6h.8M392.8 445.1h.8M394.4 440.6h.8M392.6 428.7h.8M394.2 439.5h.8M392.0 436.8h.8M393.2 439.6h.8M392.3 431.6h.8M394.0 432.5h.8M395.4 435.6h.8M393.8 429.1h.8M392.9 434.2h.8M396.8 442.1h.8M395.8 432.3h.8M395.1 429.1h.8M397.5 434.9h.8M394.1 439.3h.8M397.4 418.8h.8M393.5 444.7h.8M392.0 438.9h.8M390.9 424.3h.8M394.4 441.3h.8M393.9 438.7h.8M391.0 452.3h.8M392.3 442.2h.8M394.4 438.6h.8M393.3 435.0h.8M397.0 429.5h.8M395.7 441.7h.8M392.4 445.4h.8M391.3 430.3h.8M396.4 440.4h.8M391.2 425.7h.8M395.7 432.2h.8M391.2 439.3h.8M393.0 430.8h.8M397.1 443.2h.8M396.3 431.9h.8M398.2 447.0h.8M394.4 438.1h.8M394.0 432.2h.8M394.7 435.6h.8M398.3 433.7h.8M396.1 432.1h.8M391.9 432.7h.8M391.0 444.0h.8M398.8 436.8h.8M394.6 435.9h.8M395.3 444.1h.8M392.8 449.4h.8M391.1 438.7h.8M397.9 439.1h.8M394.6 432.7h.8M391.9 443.0h.8M392.0 448.6h.8M393.2 433.4h.8M395.5 427.7h.8M395.3 433.2h.8M396.1 430.6h.8M394.8 444.7h.8M393.5 450.4h.8M394.7 423.4h.8M394.0 450.6h.8M393.2 427.0h.8M392.5 439.6h.8M403.0 429.1h.8M404.6 424.4h.8M403.0 444.3h.8M403.8 443.1h.8M405.2 430.5h.8M404.2 437.1h.8M403.1 444.6h.8M403.3 429.5h.8M404.1 431.0h.8M406.1 439.2h.8M404.8 430.2h.8M405.6 419.6h.8M402.1 429.1h.8M403.5 438.9h.8M402.5 419.6h.8M402.9 428.2h.8M403.1 433.7h.8M405.3 429.8h.8M406.6 428.7h.8M403.0 443.8h.8M406.0 445.1h.8M405.2 439.4h.8M403.6 426.7h.8M408.6 430.1h.8M402.8 428.7h.8M405.2 425.1h.8M403.2 426.7h.8M404.1 425.4h.8M403.6 418.6h.8M404.8 423.3h.8M403.9 434.6h.8M405.3 436.5h.8M405.9 422.2h.8M403.2 435.7h.8M403.2 428.4h.8M405.2 437.6h.8M402.2 436.4h.8M404.4 439.1h.8M404.8 423.0h.8M403.3 428.5h.8M404.7 418.3h.8M405.1 423.1h.8M403.7 425.7h.8M406.3 422.5h.8M405.5 436.7h.8M405.3 441.7h.8M404.7 424.6h.8M404.5 421.0h.8M405.9 431.7h.8M404.2 431.7h.8M406.8 429.5h.8M404.0 430.5h.8M403.4 436.0h.8M404.9 431.1h.8M403.2 426.3h.8M403.1 435.0h.8M405.8 426.4h.8M403.1 435.7h.8M404.0 435.5h.8M405.4 431.0h.8M406.9 432.4h.8M404.7 435.4h.8M404.9 428.1h.8M403.9 433.5h.8M404.4 451.4h.8M406.5 424.2h.8M404.5 431.3h.8M404.2 441.1h.8M403.5 430.9h.8M405.5 450.9h.8M402.5 435.3h.8M406.3 421.0h.8M403.8 430.2h.8M405.7 429.4h.8M407.2 431.2h.8M404.9 443.6h.8M403.1 424.2h.8M402.9 433.4h.8M407.5 428.9h.8M405.4 435.7h.8M403.6 430.0h.8M403.7 436.1h.8M404.4 440.7h.8M402.2 444.4h.8M403.9 433.0h.8M403.0 430.6h.8M404.7 435.5h.8M403.5 434.0h.8M403.5 434.7h.8M404.9 429.9h.8M407.2 428.7h.8M404.6 426.2h.8M405.9 435.7h.8M404.9 431.3h.8M405.8 430.6h.8M405.5 435.6h.8M405.8 435.6h.8M403.8 425.2h.8M405.1 435.5h.8M403.1 444.1h.8M405.7 431.4h.8M403.6 424.9h.8M405.7 430.1h.8M404.9 435.2h.8M405.9 422.1h.8M405.1 432.3h.8M404.6 421.8h.8M402.4 437.8h.8M404.6 431.7h.8M406.7 421.4h.8M405.2 426.0h.8M403.0 422.4h.8M403.8 424.9h.8M402.8 432.5h.8M405.1 433.6h.8M404.8 428.9h.8M404.8 425.7h.8M404.6 430.7h.8M403.7 433.4h.8M404.6 425.1h.8M405.8 425.8h.8M406.5 421.9h.8M403.3 438.0h.8M403.8 435.5h.8M404.3 430.7h.8M404.0 425.4h.8M403.0 427.4h.8M407.1 426.3h.8M404.5 440.7h.8M405.6 439.5h.8M405.0 425.0h.8M405.0 432.0h.8M404.6 427.4h.8M406.8 427.9h.8M404.0 434.3h.8M405.7 430.6h.8M404.6 428.3h.8M402.6 435.2h.8M405.3 424.7h.8M403.5 436.7h.8M405.4 433.0h.8M404.4 434.6h.8M403.5 427.7h.8M403.5 423.2h.8M406.5 428.2h.8M405.6 428.6h.8M403.7 432.6h.8M405.5 426.1h.8M406.4 435.7h.8M405.2 432.0h.8M403.8 435.3h.8M404.4 418.6h.8M404.4 433.9h.8M403.9 432.2h.8M403.8 432.4h.8M405.5 428.8h.8M404.7 418.2h.8M402.3 424.4h.8M405.1 429.7h.8M406.6 433.1h.8M404.0 439.0h.8M402.3 433.3h.8M405.6 420.3h.8M404.3 435.9h.8M404.5 442.7h.8M405.6 429.1h.8M405.8 431.7h.8M404.7 426.4h.8M403.3 428.0h.8M404.9 433.7h.8M405.5 431.2h.8M406.3 426.5h.8M403.0 443.5h.8M402.6 433.3h.8M404.8 438.6h.8M404.7 431.2h.8M403.3 425.2h.8M403.0 428.3h.8M402.8 429.1h.8M405.3 423.0h.8M403.3 428.7h.8M405.2 437.1h.8M403.1 426.0h.8M404.2 439.1h.8M405.0 439.3h.8M402.3 427.0h.8M405.0 448.0h.8M404.8 438.2h.8M405.4 425.5h.8M406.0 427.0h.8M405.8 427.8h.8M403.7 436.0h.8M402.9 426.6h.8M404.9 433.8h.8M405.9 427.1h.8M405.2 433.1h.8M403.8 429.7h.8M406.0 424.1h.8M402.2 431.1h.8M406.5 438.8h.8M402.1 433.0h.8M402.5 426.5h.8M406.3 427.9h.8M406.8 431.5h.8M402.7 435.6h.8M404.6 422.0h.8M407.0 422.8h.8M405.3 430.9h.8M404.1 437.2h.8M402.3 431.0h.8M403.2 424.2h.8M404.9 427.6h.8M405.3 430.4h.8M403.2 436.0h.8M404.4 425.7h.8M404.3 424.9h.8M403.3 423.2h.8M405.2 421.7h.8M405.6 440.4h.8M403.8 426.5h.8M403.5 430.9h.8M404.2 423.7h.8M404.7 427.0h.8M402.5 442.2h.8M404.9 429.4h.8M405.8 428.3h.8M404.4 434.3h.8M403.7 425.8h.8M402.7 429.8h.8M405.7 427.1h.8M404.4 426.7h.8M403.6 437.0h.8M405.9 427.3h.8M403.5 426.1h.8M403.8 425.1h.8M405.5 423.8h.8M406.5 431.5h.8M404.2 432.6h.8M403.1 425.3h.8M404.4 434.7h.8M404.5 445.8h.8M405.0 421.4h.8M405.7 433.3h.8M405.4 438.2h.8M404.7 440.5h.8M404.0 425.3h.8M402.8 442.2h.8M405.4 436.6h.8M404.3 430.1h.8M404.6 424.7h.8" stroke="#666" stroke-width="0.8" fill="none" opacity="0.32"/>
<rect x="360.2" y="355.2" width="112.8" height="112.5" fill="none" stroke="#000" stroke-width="1.6"/>
<line x1="356" y1="467.7" x2="360.2" y2="467.7" stroke="#000" stroke-width="1.5" stroke-linecap="butt"/>
<text transform="translate(355.6,470.3) scale(0.9500,1)" font-family="'Liberation Sans', sans-serif" font-size="7.5" font-weight="bold" font-style="normal" text-anchor="end" fill="#000"  stroke="#000" stroke-width="0.3">0</text>
<line x1="360.9" y1="467.7" x2="360.9" y2="471.3" stroke="#000" stroke-width="1.5" stroke-linecap="butt"/>
<text transform="translate(361,479.9) scale(0.9800,1)" font-family="'Liberation Sans', sans-serif" font-size="7.6" font-weight="bold" font-style="normal" text-anchor="middle" fill="#000"  stroke="#000" stroke-width="0.3">0</text>
<line x1="356" y1="445.9" x2="360.2" y2="445.9" stroke="#000" stroke-width="1.5" stroke-linecap="butt"/>
<text transform="translate(355.6,448.5) scale(0.9500,1)" font-family="'Liberation Sans', sans-serif" font-size="7.5" font-weight="bold" font-style="normal" text-anchor="end" fill="#000"  stroke="#000" stroke-width="0.3">20</text>
<line x1="382.9" y1="467.7" x2="382.9" y2="471.3" stroke="#000" stroke-width="1.5" stroke-linecap="butt"/>
<text transform="translate(383,479.9) scale(0.9800,1)" font-family="'Liberation Sans', sans-serif" font-size="7.6" font-weight="bold" font-style="normal" text-anchor="middle" fill="#000"  stroke="#000" stroke-width="0.3">20</text>
<line x1="356" y1="424.1" x2="360.2" y2="424.1" stroke="#000" stroke-width="1.5" stroke-linecap="butt"/>
<text transform="translate(355.6,426.7) scale(0.9500,1)" font-family="'Liberation Sans', sans-serif" font-size="7.5" font-weight="bold" font-style="normal" text-anchor="end" fill="#000"  stroke="#000" stroke-width="0.3">40</text>
<line x1="404.9" y1="467.7" x2="404.9" y2="471.3" stroke="#000" stroke-width="1.5" stroke-linecap="butt"/>
<text transform="translate(405,479.9) scale(0.9800,1)" font-family="'Liberation Sans', sans-serif" font-size="7.6" font-weight="bold" font-style="normal" text-anchor="middle" fill="#000"  stroke="#000" stroke-width="0.3">40</text>
<line x1="356" y1="402.3" x2="360.2" y2="402.3" stroke="#000" stroke-width="1.5" stroke-linecap="butt"/>
<text transform="translate(355.6,404.9) scale(0.9500,1)" font-family="'Liberation Sans', sans-serif" font-size="7.5" font-weight="bold" font-style="normal" text-anchor="end" fill="#000"  stroke="#000" stroke-width="0.3">60</text>
<line x1="426.9" y1="467.7" x2="426.9" y2="471.3" stroke="#000" stroke-width="1.5" stroke-linecap="butt"/>
<text transform="translate(427,479.9) scale(0.9800,1)" font-family="'Liberation Sans', sans-serif" font-size="7.6" font-weight="bold" font-style="normal" text-anchor="middle" fill="#000"  stroke="#000" stroke-width="0.3">60</text>
<line x1="356" y1="380.5" x2="360.2" y2="380.5" stroke="#000" stroke-width="1.5" stroke-linecap="butt"/>
<text transform="translate(355.6,383.1) scale(0.9500,1)" font-family="'Liberation Sans', sans-serif" font-size="7.5" font-weight="bold" font-style="normal" text-anchor="end" fill="#000"  stroke="#000" stroke-width="0.3">80</text>
<line x1="448.9" y1="467.7" x2="448.9" y2="471.3" stroke="#000" stroke-width="1.5" stroke-linecap="butt"/>
<text transform="translate(449,479.9) scale(0.9800,1)" font-family="'Liberation Sans', sans-serif" font-size="7.6" font-weight="bold" font-style="normal" text-anchor="middle" fill="#000"  stroke="#000" stroke-width="0.3">80</text>
<line x1="356" y1="358.7" x2="360.2" y2="358.7" stroke="#000" stroke-width="1.5" stroke-linecap="butt"/>
<text transform="translate(355.6,361.3) scale(0.9500,1)" font-family="'Liberation Sans', sans-serif" font-size="7.5" font-weight="bold" font-style="normal" text-anchor="end" fill="#000"  stroke="#000" stroke-width="0.3">100</text>
<line x1="470.9" y1="467.7" x2="470.9" y2="471.3" stroke="#000" stroke-width="1.5" stroke-linecap="butt"/>
<text transform="translate(471,479.9) scale(0.9800,1)" font-family="'Liberation Sans', sans-serif" font-size="7.6" font-weight="bold" font-style="normal" text-anchor="middle" fill="#000"  stroke="#000" stroke-width="0.3">100</text>
<line x1="358" y1="463.34" x2="360.2" y2="463.34" stroke="#000" stroke-width="1.1" stroke-linecap="butt"/>
<line x1="365.3" y1="467.7" x2="365.3" y2="469.9" stroke="#000" stroke-width="1.1" stroke-linecap="butt"/>
<line x1="358" y1="458.98" x2="360.2" y2="458.98" stroke="#000" stroke-width="1.1" stroke-linecap="butt"/>
<line x1="369.7" y1="467.7" x2="369.7" y2="469.9" stroke="#000" stroke-width="1.1" stroke-linecap="butt"/>
<line x1="358" y1="454.62" x2="360.2" y2="454.62" stroke="#000" stroke-width="1.1" stroke-linecap="butt"/>
<line x1="374.1" y1="467.7" x2="374.1" y2="469.9" stroke="#000" stroke-width="1.1" stroke-linecap="butt"/>
<line x1="358" y1="450.26" x2="360.2" y2="450.26" stroke="#000" stroke-width="1.1" stroke-linecap="butt"/>
<line x1="378.5" y1="467.7" x2="378.5" y2="469.9" stroke="#000" stroke-width="1.1" stroke-linecap="butt"/>
<line x1="358" y1="441.54" x2="360.2" y2="441.54" stroke="#000" stroke-width="1.1" stroke-linecap="butt"/>
<line x1="387.3" y1="467.7" x2="387.3" y2="469.9" stroke="#000" stroke-width="1.1" stroke-linecap="butt"/>
<line x1="358" y1="437.18" x2="360.2" y2="437.18" stroke="#000" stroke-width="1.1" stroke-linecap="butt"/>
<line x1="391.7" y1="467.7" x2="391.7" y2="469.9" stroke="#000" stroke-width="1.1" stroke-linecap="butt"/>
<line x1="358" y1="432.82" x2="360.2" y2="432.82" stroke="#000" stroke-width="1.1" stroke-linecap="butt"/>
<line x1="396.1" y1="467.7" x2="396.1" y2="469.9" stroke="#000" stroke-width="1.1" stroke-linecap="butt"/>
<line x1="358" y1="428.46" x2="360.2" y2="428.46" stroke="#000" stroke-width="1.1" stroke-linecap="butt"/>
<line x1="400.5" y1="467.7" x2="400.5" y2="469.9" stroke="#000" stroke-width="1.1" stroke-linecap="butt"/>
<line x1="358" y1="419.74" x2="360.2" y2="419.74" stroke="#000" stroke-width="1.1" stroke-linecap="butt"/>
<line x1="409.3" y1="467.7" x2="409.3" y2="469.9" stroke="#000" stroke-width="1.1" stroke-linecap="butt"/>
<line x1="358" y1="415.38" x2="360.2" y2="415.38" stroke="#000" stroke-width="1.1" stroke-linecap="butt"/>
<line x1="413.7" y1="467.7" x2="413.7" y2="469.9" stroke="#000" stroke-width="1.1" stroke-linecap="butt"/>
<line x1="358" y1="411.02" x2="360.2" y2="411.02" stroke="#000" stroke-width="1.1" stroke-linecap="butt"/>
<line x1="418.1" y1="467.7" x2="418.1" y2="469.9" stroke="#000" stroke-width="1.1" stroke-linecap="butt"/>
<line x1="358" y1="406.66" x2="360.2" y2="406.66" stroke="#000" stroke-width="1.1" stroke-linecap="butt"/>
<line x1="422.5" y1="467.7" x2="422.5" y2="469.9" stroke="#000" stroke-width="1.1" stroke-linecap="butt"/>
<line x1="358" y1="397.94" x2="360.2" y2="397.94" stroke="#000" stroke-width="1.1" stroke-linecap="butt"/>
<line x1="431.3" y1="467.7" x2="431.3" y2="469.9" stroke="#000" stroke-width="1.1" stroke-linecap="butt"/>
<line x1="358" y1="393.58" x2="360.2" y2="393.58" stroke="#000" stroke-width="1.1" stroke-linecap="butt"/>
<line x1="435.7" y1="467.7" x2="435.7" y2="469.9" stroke="#000" stroke-width="1.1" stroke-linecap="butt"/>
<line x1="358" y1="389.22" x2="360.2" y2="389.22" stroke="#000" stroke-width="1.1" stroke-linecap="butt"/>
<line x1="440.1" y1="467.7" x2="440.1" y2="469.9" stroke="#000" stroke-width="1.1" stroke-linecap="butt"/>
<line x1="358" y1="384.86" x2="360.2" y2="384.86" stroke="#000" stroke-width="1.1" stroke-linecap="butt"/>
<line x1="444.5" y1="467.7" x2="444.5" y2="469.9" stroke="#000" stroke-width="1.1" stroke-linecap="butt"/>
<line x1="358" y1="376.14" x2="360.2" y2="376.14" stroke="#000" stroke-width="1.1" stroke-linecap="butt"/>
<line x1="453.3" y1="467.7" x2="453.3" y2="469.9" stroke="#000" stroke-width="1.1" stroke-linecap="butt"/>
<line x1="358" y1="371.78" x2="360.2" y2="371.78" stroke="#000" stroke-width="1.1" stroke-linecap="butt"/>
<line x1="457.7" y1="467.7" x2="457.7" y2="469.9" stroke="#000" stroke-width="1.1" stroke-linecap="butt"/>
<line x1="358" y1="367.42" x2="360.2" y2="367.42" stroke="#000" stroke-width="1.1" stroke-linecap="butt"/>
<line x1="462.1" y1="467.7" x2="462.1" y2="469.9" stroke="#000" stroke-width="1.1" stroke-linecap="butt"/>
<line x1="358" y1="363.06" x2="360.2" y2="363.06" stroke="#000" stroke-width="1.1" stroke-linecap="butt"/>
<line x1="466.5" y1="467.7" x2="466.5" y2="469.9" stroke="#000" stroke-width="1.1" stroke-linecap="butt"/>
<rect x="376.85" y="413.15" width="11.7" height="47.2" fill="none" stroke="#000" stroke-width="1.9"/>
<line x1="375.9" y1="434.4" x2="389.5" y2="434.4" stroke="#000" stroke-width="3" stroke-linecap="butt"/>
<rect x="389.75" y="405.05" width="9.8" height="55.3" fill="none" stroke="#000" stroke-width="1.9"/>
<rect x="400.95" y="405.05" width="9.9" height="55.3" fill="none" stroke="#000" stroke-width="1.9"/>
<line x1="400.25" y1="404.1" x2="400.25" y2="461.3" stroke="#000" stroke-width="2.25" stroke-linecap="butt"/>
<line x1="389.15" y1="412.2" x2="389.15" y2="461.3" stroke="#000" stroke-width="2.3" stroke-linecap="butt"/>
<text x="375" y="403.5" font-family="'Liberation Sans', sans-serif" font-size="7.2" font-weight="bold" text-anchor="start" stroke="#000" stroke-width="0.3">G<tspan font-size="4.3" dy="0.9">1</tspan></text>
<text transform="translate(372.3,411.7)" font-family="'Liberation Sans', sans-serif" font-size="6.9" font-weight="bold" font-style="normal" text-anchor="start" fill="#000"  stroke="#000" stroke-width="0.3">5.27</text>
<text transform="translate(397,394.2)" font-family="'Liberation Sans', sans-serif" font-size="6.9" font-weight="bold" font-style="normal" text-anchor="middle" fill="#000"  stroke="#000" stroke-width="0.3">S</text>
<text transform="translate(398,403.1)" font-family="'Liberation Sans', sans-serif" font-size="6.9" font-weight="bold" font-style="normal" text-anchor="middle" fill="#000"  stroke="#000" stroke-width="0.3">13.8</text>
<text transform="translate(419.2,430)" font-family="'Liberation Sans', sans-serif" font-size="6.9" font-weight="bold" font-style="normal" text-anchor="middle" fill="#000"  stroke="#000" stroke-width="0.3">M</text>
<text transform="translate(419.2,439)" font-family="'Liberation Sans', sans-serif" font-size="6.9" font-weight="bold" font-style="normal" text-anchor="middle" fill="#000"  stroke="#000" stroke-width="0.3">9.13</text>
<text x="365.3" y="451.2" font-family="'Liberation Sans', sans-serif" font-size="7.2" font-weight="bold" text-anchor="start" stroke="#000" stroke-width="0.3">G<tspan font-size="4.3" dy="0.9">0</tspan></text>
<text transform="translate(365.6,458.9)" font-family="'Liberation Sans', sans-serif" font-size="6.9" font-weight="bold" font-style="normal" text-anchor="start" fill="#000"  stroke="#000" stroke-width="0.3">72</text>
<text transform="translate(362.7,352.1) scale(1.0735,1)" font-family="'Liberation Sans', sans-serif" font-size="10" font-weight="bold" font-style="normal" text-anchor="start" fill="#000"  stroke="#000" stroke-width="0.3">ALN+PTH</text>
<text transform="translate(44.6,494.5) scale(0.9903,1)" font-family="'Liberation Sans', sans-serif" font-size="10" font-weight="bold" font-style="normal" text-anchor="start" fill="#000"  stroke="#000" stroke-width="0.3">FITC</text>
<path d="M75 481 V500.3 H96" fill="none" stroke="#000" stroke-width="2.7"/>
<path d="M70.6 485.9 L75 479.6 L79.4 485.9" fill="none" stroke="#000" stroke-width="2.8" stroke-linejoin="miter"/>
<path d="M91.2 496 L97.6 500.3 L91.2 504.6" fill="none" stroke="#000" stroke-width="2.8" stroke-linejoin="miter"/>
<text transform="translate(78.8,513.2)" font-family="'Liberation Sans', sans-serif" font-size="10.8" font-weight="bold" font-style="normal" text-anchor="start" fill="#000" stroke="#000" stroke-width="0.55">P</text>
<path d="M86.7 506.8h4.6M86.7 512.5h4.6" stroke="#000" stroke-width="1.5" fill="none"/>
<path d="M89 506.1v7.1" stroke="#000" stroke-width="2.6" fill="none"/>
<text transform="translate(38.9,540.2) scale(1.0366,1)" font-family="'Liberation Sans', sans-serif" font-size="16" font-weight="normal" font-style="normal" text-anchor="start" fill="#000" stroke="#000" stroke-width="0.75">G</text>
<line x1="122.25" y1="628" x2="122.25" y2="633.2" stroke="#000" stroke-width="2.8" stroke-linecap="butt"/>
<line x1="114.95" y1="628" x2="129.55" y2="628" stroke="#000" stroke-width="3.1" stroke-linecap="butt"/>
<rect x="111.2" y="633.7" width="22.1" height="64.7" fill="#fff" stroke="#000" stroke-width="3"/>
<line x1="149.6" y1="617" x2="149.6" y2="619" stroke="#000" stroke-width="2.8" stroke-linecap="butt"/>
<line x1="142.3" y1="617" x2="156.9" y2="617" stroke="#000" stroke-width="3.1" stroke-linecap="butt"/>
<rect x="138.55" y="619.75" width="22.1" height="78.4" fill="url(#hatchG)" stroke="#000" stroke-width="3.5"/>
<line x1="176.75" y1="637.4" x2="176.75" y2="639.9" stroke="#000" stroke-width="2.8" stroke-linecap="butt"/>
<line x1="169.45" y1="637.4" x2="184.05" y2="637.4" stroke="#000" stroke-width="3.1" stroke-linecap="butt"/>
<rect x="165.95" y="640.65" width="21.6" height="57.5" fill="url(#dotsG)" stroke="#000" stroke-width="3.5"/>
<line x1="221.35" y1="602.5" x2="221.35" y2="605.6" stroke="#000" stroke-width="2.8" stroke-linecap="butt"/>
<line x1="214.05" y1="602.5" x2="228.65" y2="602.5" stroke="#000" stroke-width="3.1" stroke-linecap="butt"/>
<rect x="210.5" y="606.1" width="21.7" height="92.3" fill="#fff" stroke="#000" stroke-width="3"/>
<line x1="248.2" y1="587.5" x2="248.2" y2="592.2" stroke="#000" stroke-width="2.8" stroke-linecap="butt"/>
<line x1="240.9" y1="587.5" x2="255.5" y2="587.5" stroke="#000" stroke-width="3.1" stroke-linecap="butt"/>
<rect x="236.95" y="592.95" width="22.5" height="105.2" fill="url(#hatchG)" stroke="#000" stroke-width="3.5"/>
<line x1="275.65" y1="597.3" x2="275.65" y2="600.9" stroke="#000" stroke-width="2.8" stroke-linecap="butt"/>
<line x1="268.35" y1="597.3" x2="282.95" y2="597.3" stroke="#000" stroke-width="3.1" stroke-linecap="butt"/>
<rect x="264.75" y="601.65" width="21.8" height="96.5" fill="url(#dotsG)" stroke="#000" stroke-width="3.5"/>
<line x1="320.5" y1="579.8" x2="320.5" y2="584.4" stroke="#000" stroke-width="2.8" stroke-linecap="butt"/>
<line x1="313.2" y1="579.8" x2="327.8" y2="579.8" stroke="#000" stroke-width="3.1" stroke-linecap="butt"/>
<rect x="309.5" y="584.9" width="22" height="113.5" fill="#fff" stroke="#000" stroke-width="3"/>
<line x1="347.65" y1="559.8" x2="347.65" y2="565.2" stroke="#000" stroke-width="2.8" stroke-linecap="butt"/>
<line x1="340.35" y1="559.8" x2="354.95" y2="559.8" stroke="#000" stroke-width="3.1" stroke-linecap="butt"/>
<rect x="336.35" y="565.95" width="22.6" height="132.2" fill="url(#hatchG)" stroke="#000" stroke-width="3.5"/>
<line x1="374.4" y1="578.8" x2="374.4" y2="582.6" stroke="#000" stroke-width="2.8" stroke-linecap="butt"/>
<line x1="367.1" y1="578.8" x2="381.7" y2="578.8" stroke="#000" stroke-width="3.1" stroke-linecap="butt"/>
<rect x="363.55" y="583.35" width="21.7" height="114.8" fill="url(#dotsG)" stroke="#000" stroke-width="3.5"/>
<line x1="100.2" y1="537.3" x2="100.2" y2="700.8" stroke="#000" stroke-width="2.8" stroke-linecap="butt"/>
<line x1="94.4" y1="699.4" x2="100.2" y2="699.4" stroke="#000" stroke-width="2.2" stroke-linecap="butt"/>
<text transform="translate(94.1,703.11) scale(0.9300,1)" font-family="'Liberation Sans', sans-serif" font-size="10.3" font-weight="normal" font-style="normal" text-anchor="end" fill="#000"  stroke="#000" stroke-width="0.28">0</text>
<line x1="94.4" y1="683.3" x2="100.2" y2="683.3" stroke="#000" stroke-width="2.2" stroke-linecap="butt"/>
<text transform="translate(94.1,687.01) scale(0.9300,1)" font-family="'Liberation Sans', sans-serif" font-size="10.3" font-weight="normal" font-style="normal" text-anchor="end" fill="#000"  stroke="#000" stroke-width="0.28">10</text>
<line x1="94.4" y1="667.2" x2="100.2" y2="667.2" stroke="#000" stroke-width="2.2" stroke-linecap="butt"/>
<text transform="translate(94.1,670.91) scale(0.9300,1)" font-family="'Liberation Sans', sans-serif" font-size="10.3" font-weight="normal" font-style="normal" text-anchor="end" fill="#000"  stroke="#000" stroke-width="0.28">20</text>
<line x1="94.4" y1="651.1" x2="100.2" y2="651.1" stroke="#000" stroke-width="2.2" stroke-linecap="butt"/>
<text transform="translate(94.1,654.81) scale(0.9300,1)" font-family="'Liberation Sans', sans-serif" font-size="10.3" font-weight="normal" font-style="normal" text-anchor="end" fill="#000"  stroke="#000" stroke-width="0.28">30</text>
<line x1="94.4" y1="635" x2="100.2" y2="635" stroke="#000" stroke-width="2.2" stroke-linecap="butt"/>
<text transform="translate(94.1,638.71) scale(0.9300,1)" font-family="'Liberation Sans', sans-serif" font-size="10.3" font-weight="normal" font-style="normal" text-anchor="end" fill="#000"  stroke="#000" stroke-width="0.28">40</text>
<line x1="94.4" y1="618.9" x2="100.2" y2="618.9" stroke="#000" stroke-width="2.2" stroke-linecap="butt"/>
<text transform="translate(94.1,622.61) scale(0.9300,1)" font-family="'Liberation Sans', sans-serif" font-size="10.3" font-weight="normal" font-style="normal" text-anchor="end" fill="#000"  stroke="#000" stroke-width="0.28">50</text>
<line x1="94.4" y1="602.8" x2="100.2" y2="602.8" stroke="#000" stroke-width="2.2" stroke-linecap="butt"/>
<text transform="translate(94.1,606.51) scale(0.9300,1)" font-family="'Liberation Sans', sans-serif" font-size="10.3" font-weight="normal" font-style="normal" text-anchor="end" fill="#000"  stroke="#000" stroke-width="0.28">60</text>
<line x1="94.4" y1="586.7" x2="100.2" y2="586.7" stroke="#000" stroke-width="2.2" stroke-linecap="butt"/>
<text transform="translate(94.1,590.41) scale(0.9300,1)" font-family="'Liberation Sans', sans-serif" font-size="10.3" font-weight="normal" font-style="normal" text-anchor="end" fill="#000"  stroke="#000" stroke-width="0.28">70</text>
<line x1="94.4" y1="570.6" x2="100.2" y2="570.6" stroke="#000" stroke-width="2.2" stroke-linecap="butt"/>
<text transform="translate(94.1,574.31) scale(0.9300,1)" font-family="'Liberation Sans', sans-serif" font-size="10.3" font-weight="normal" font-style="normal" text-anchor="end" fill="#000"  stroke="#000" stroke-width="0.28">80</text>
<line x1="94.4" y1="554.5" x2="100.2" y2="554.5" stroke="#000" stroke-width="2.2" stroke-linecap="butt"/>
<text transform="translate(94.1,558.21) scale(0.9300,1)" font-family="'Liberation Sans', sans-serif" font-size="10.3" font-weight="normal" font-style="normal" text-anchor="end" fill="#000"  stroke="#000" stroke-width="0.28">90</text>
<line x1="94.4" y1="538.4" x2="100.2" y2="538.4" stroke="#000" stroke-width="2.2" stroke-linecap="butt"/>
<text transform="translate(94.1,542.11) scale(0.9300,1)" font-family="'Liberation Sans', sans-serif" font-size="10.3" font-weight="normal" font-style="normal" text-anchor="end" fill="#000"  stroke="#000" stroke-width="0.28">100</text>
<line x1="98.8" y1="699.4" x2="399.3" y2="699.4" stroke="#000" stroke-width="2.9" stroke-linecap="butt"/>
<line x1="150" y1="699.4" x2="150" y2="704.9" stroke="#000" stroke-width="2.3" stroke-linecap="butt"/>
<text transform="translate(150,716.4)" font-family="'Liberation Sans', sans-serif" font-size="10.2" font-weight="normal" font-style="normal" text-anchor="middle" fill="#000"  stroke="#000" stroke-width="0.28">4 wks</text>
<line x1="248.5" y1="699.4" x2="248.5" y2="704.9" stroke="#000" stroke-width="2.3" stroke-linecap="butt"/>
<text transform="translate(248.5,716.4)" font-family="'Liberation Sans', sans-serif" font-size="10.2" font-weight="normal" font-style="normal" text-anchor="middle" fill="#000"  stroke="#000" stroke-width="0.28">8 wks</text>
<line x1="347.3" y1="699.4" x2="347.3" y2="704.9" stroke="#000" stroke-width="2.3" stroke-linecap="butt"/>
<text transform="translate(347.3,716.4)" font-family="'Liberation Sans', sans-serif" font-size="10.2" font-weight="normal" font-style="normal" text-anchor="middle" fill="#000"  stroke="#000" stroke-width="0.28">20 wks</text>
<text transform="translate(68,618.15) rotate(-90) scale(1.1087,1)" font-family="'Liberation Sans', sans-serif" font-size="12.4" font-weight="bold" text-anchor="middle" fill="#000" stroke="#000" stroke-width="0.3">%CD45.2<tspan dy="-5.7" font-size="8.68">+</tspan><tspan dy="5.7"> cells in PB</tspan></text>
<text transform="translate(250,730.3) scale(0.9927,1)" font-family="'Liberation Sans', sans-serif" font-size="11.8" font-weight="bold" font-style="normal" text-anchor="middle" fill="#000"  stroke="#000" stroke-width="0.3">Time post-transplantation</text>
<path d="M123.5 602.4 V598.7 H175.8 V602.4" fill="none" stroke="#000" stroke-width="2.5"/>
<path d="M123.5 615.5 V611.8 H175.8 V615.5" fill="none" stroke="#000" stroke-width="2.5"/>
<line x1="149.9" y1="611.8" x2="149.9" y2="615.8" stroke="#000" stroke-width="3.1" stroke-linecap="butt"/>
<text transform="translate(149.4,596) scale(0.9142,1)" font-family="'Liberation Sans', sans-serif" font-size="11.6" font-weight="normal" font-style="italic" text-anchor="middle" fill="#000"  stroke="#000" stroke-width="0.22">ns</text>
<path d="M132.9 607.2L132.9 604.3M132.9 607.2L135.66 606.3M132.9 607.2L130.14 606.3M132.9 607.2L131.2 609.55M132.9 607.2L134.6 609.55" stroke="#000" stroke-width="1.25" fill="none"/>
<path d="M140 607.2L140 604.3M140 607.2L142.76 606.3M140 607.2L137.24 606.3M140 607.2L138.3 609.55M140 607.2L141.7 609.55" stroke="#000" stroke-width="1.25" fill="none"/>
<path d="M157.6 607.2L157.6 604.3M157.6 607.2L160.36 606.3M157.6 607.2L154.84 606.3M157.6 607.2L155.9 609.55M157.6 607.2L159.3 609.55" stroke="#000" stroke-width="1.25" fill="none"/>
<path d="M164.7 607.2L164.7 604.3M164.7 607.2L167.46 606.3M164.7 607.2L161.94 606.3M164.7 607.2L163 609.55M164.7 607.2L166.4 609.55" stroke="#000" stroke-width="1.25" fill="none"/>
<path d="M171.8 607.2L171.8 604.3M171.8 607.2L174.56 606.3M171.8 607.2L169.04 606.3M171.8 607.2L170.1 609.55M171.8 607.2L173.5 609.55" stroke="#000" stroke-width="1.25" fill="none"/>
<path d="M222.6 573.5 V569.8 H275.4 V573.5" fill="none" stroke="#000" stroke-width="2.5"/>
<path d="M222.6 586.4 V582.7 H275.4 V586.4" fill="none" stroke="#000" stroke-width="2.5"/>
<line x1="249.2" y1="582.7" x2="249.2" y2="586.7" stroke="#000" stroke-width="3.1" stroke-linecap="butt"/>
<text transform="translate(248.4,566.8) scale(0.9142,1)" font-family="'Liberation Sans', sans-serif" font-size="11.6" font-weight="normal" font-style="italic" text-anchor="middle" fill="#000"  stroke="#000" stroke-width="0.22">ns</text>
<path d="M231.6 578.6L231.6 575.7M231.6 578.6L234.36 577.7M231.6 578.6L228.84 577.7M231.6 578.6L229.9 580.95M231.6 578.6L233.3 580.95" stroke="#000" stroke-width="1.25" fill="none"/>
<path d="M239.3 578.6L239.3 575.7M239.3 578.6L242.06 577.7M239.3 578.6L236.54 577.7M239.3 578.6L237.6 580.95M239.3 578.6L241 580.95" stroke="#000" stroke-width="1.25" fill="none"/>
<text transform="translate(264.2,580.2) scale(0.9142,1)" font-family="'Liberation Sans', sans-serif" font-size="11.6" font-weight="normal" font-style="italic" text-anchor="middle" fill="#000"  stroke="#000" stroke-width="0.22">ns</text>
<path d="M321.1 544.2 V540.5 H374.7 V544.2" fill="none" stroke="#000" stroke-width="2.5"/>
<path d="M321.1 558.1 V554.4 H374.7 V558.1" fill="none" stroke="#000" stroke-width="2.5"/>
<line x1="348" y1="554.4" x2="348" y2="558.4" stroke="#000" stroke-width="3.1" stroke-linecap="butt"/>
<text transform="translate(348,538.3) scale(0.9142,1)" font-family="'Liberation Sans', sans-serif" font-size="11.6" font-weight="normal" font-style="italic" text-anchor="middle" fill="#000"  stroke="#000" stroke-width="0.22">ns</text>
<path d="M327.2 549.5L327.2 546.6M327.2 549.5L329.96 548.6M327.2 549.5L324.44 548.6M327.2 549.5L325.5 551.85M327.2 549.5L328.9 551.85" stroke="#000" stroke-width="1.25" fill="none"/>
<path d="M334.6 549.5L334.6 546.6M334.6 549.5L337.36 548.6M334.6 549.5L331.84 548.6M334.6 549.5L332.9 551.85M334.6 549.5L336.3 551.85" stroke="#000" stroke-width="1.25" fill="none"/>
<path d="M342 549.5L342 546.6M342 549.5L344.76 548.6M342 549.5L339.24 548.6M342 549.5L340.3 551.85M342 549.5L343.7 551.85" stroke="#000" stroke-width="1.25" fill="none"/>
<path d="M358.9 549.5L358.9 546.6M358.9 549.5L361.66 548.6M358.9 549.5L356.14 548.6M358.9 549.5L357.2 551.85M358.9 549.5L360.6 551.85" stroke="#000" stroke-width="1.25" fill="none"/>
<path d="M366.2 549.5L366.2 546.6M366.2 549.5L368.96 548.6M366.2 549.5L363.44 548.6M366.2 549.5L364.5 551.85M366.2 549.5L367.9 551.85" stroke="#000" stroke-width="1.25" fill="none"/>
<rect x="418" y="537.3" width="20" height="10" fill="#000"/>
<rect x="422" y="540.8" width="12.6" height="3.1" fill="#fff"/>
<text transform="translate(445,546) scale(0.8645,1)" font-family="'Liberation Sans', sans-serif" font-size="10" font-weight="normal" font-style="normal" text-anchor="start" fill="#000"  stroke="#000" stroke-width="0.28">PBS</text>
<rect x="418" y="548.85" width="20" height="10" fill="#000"/>
<path d="M424.5 552.45 L431.5 555.45" stroke="#fff" stroke-width="1.6"/>
<circle cx="434" cy="552.45" r="0.7" fill="#fff"/>
<text transform="translate(445,557.55) scale(0.8800,1)" font-family="'Liberation Sans', sans-serif" font-size="10" font-weight="normal" font-style="normal" text-anchor="start" fill="#000"  stroke="#000" stroke-width="0.28">PTH</text>
<rect x="418" y="560.4" width="20" height="10" fill="#000"/>
<circle cx="424.6" cy="566" r="1.2" fill="#fff"/><circle cx="431.6" cy="566" r="1.2" fill="#fff"/>
<text transform="translate(445,569.1) scale(0.9582,1)" font-family="'Liberation Sans', sans-serif" font-size="10" font-weight="normal" font-style="normal" text-anchor="start" fill="#000"  stroke="#000" stroke-width="0.28">PTH+ALN</text>
</g></svg></body></html>
